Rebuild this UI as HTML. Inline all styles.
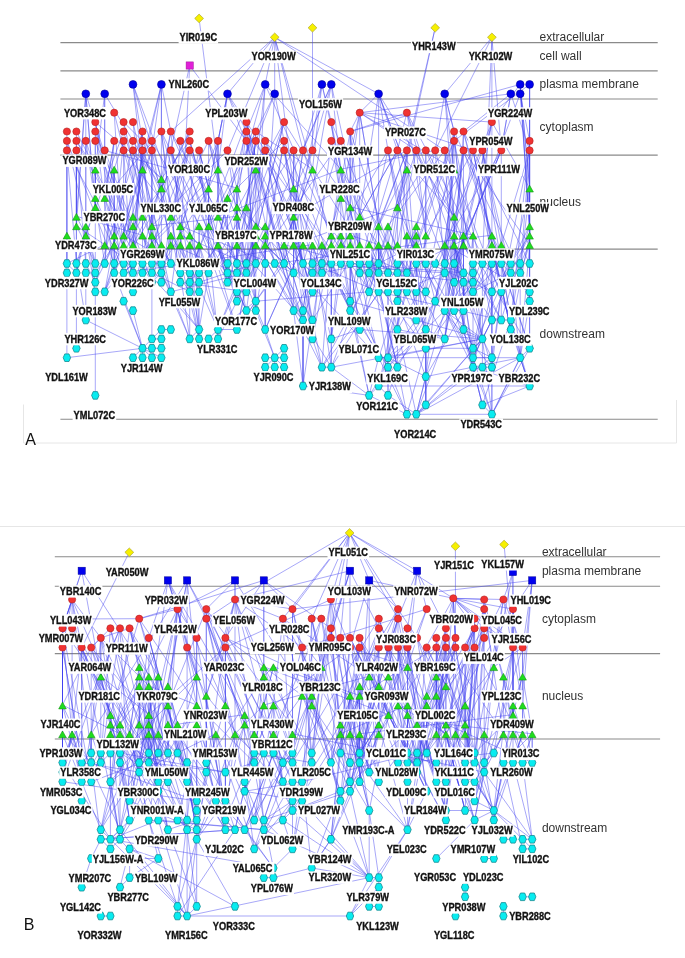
<!DOCTYPE html>
<html><head><meta charset="utf-8"><style>
html,body{margin:0;padding:0;background:#fff;}
body{width:685px;height:958px;overflow:hidden;}
svg{display:block;will-change:transform;}
</style></head><body>
<svg width="685" height="958" viewBox="0 0 685 958">
<rect width="685" height="958" fill="#fff"/>
<g stroke="#e6e6e6" stroke-width="1" fill="none">
<path d="M0 526.5H685"/>
<path d="M23.5 404.5V443H676.5V400"/>
</g>
<g stroke="#8a8a8a" stroke-width="1.1">
<path d="M60.4 42.6H657.7"/>
<path d="M60.4 70.9H657.7"/>
<path d="M60.4 99.0H657.7"/>
<path d="M60.4 155.1H657.7"/>
<path d="M60.4 249.1H657.7"/>
<path d="M60.4 419.2H657.7"/>
<path d="M54.8 556.7H660.1"/>
<path d="M54.8 586.3H660.1"/>
<path d="M54.8 653.6H660.1"/>
<path d="M54.8 739.0H660.1"/>
</g>
<g font-family="Liberation Sans, sans-serif" font-size="12" fill="#333">
<text x="539.6" y="41.0">extracellular</text>
<text x="539.6" y="59.9">cell wall</text>
<text x="539.6" y="88.3">plasma membrane</text>
<text x="539.6" y="130.7">cytoplasm</text>
<text x="539.6" y="206.4">nucleus</text>
<text x="539.6" y="338.4">downstream</text>
<text x="541.9" y="556.1">extracellular</text>
<text x="541.9" y="575.0">plasma membrane</text>
<text x="541.9" y="622.7">cytoplasm</text>
<text x="541.9" y="700.1">nucleus</text>
<text x="541.9" y="831.5">downstream</text>
</g>
<g stroke="#4040f0" stroke-width="0.65" stroke-opacity="0.7" fill="none">
<path d="M199.1 18.4L218.0 169.2"/>
<path d="M189.7 65.5L170.8 150.4"/>
<path d="M189.7 65.5L246.4 140.9"/>
<path d="M189.7 65.5L180.3 244.6"/>
<path d="M274.7 37.3L227.5 93.8"/>
<path d="M274.7 37.3L265.2 84.4"/>
<path d="M274.7 37.3L274.7 93.8"/>
<path d="M274.7 37.3L227.5 150.4"/>
<path d="M274.7 37.3L170.8 131.5"/>
<path d="M274.7 37.3L303.0 150.4"/>
<path d="M274.7 37.3L312.5 169.2"/>
<path d="M274.7 37.3L378.6 93.8"/>
<path d="M274.7 37.3L444.7 150.4"/>
<path d="M274.7 37.3L293.6 188.1"/>
<path d="M312.5 27.8L312.5 150.4"/>
<path d="M435.2 27.8L406.9 150.4"/>
<path d="M435.2 27.8L388.0 244.6"/>
<path d="M491.9 37.3L491.9 122.1"/>
<path d="M491.9 37.3L501.3 150.4"/>
<path d="M491.9 37.3L435.2 150.4"/>
<path d="M491.9 37.3L444.7 93.8"/>
<path d="M491.9 37.3L482.4 263.5"/>
<path d="M133.0 84.4L161.4 178.6"/>
<path d="M133.0 84.4L142.5 140.9"/>
<path d="M161.4 84.4L142.5 169.2"/>
<path d="M161.4 84.4L170.8 131.5"/>
<path d="M85.8 93.8L85.8 140.9"/>
<path d="M85.8 93.8L76.4 225.8"/>
<path d="M104.7 93.8L104.7 150.4"/>
<path d="M104.7 93.8L95.3 169.2"/>
<path d="M227.5 93.8L218.0 140.9"/>
<path d="M227.5 93.8L208.6 188.1"/>
<path d="M227.5 93.8L265.2 150.4"/>
<path d="M265.2 84.4L246.4 131.5"/>
<path d="M265.2 84.4L255.8 169.2"/>
<path d="M265.2 84.4L236.9 188.1"/>
<path d="M274.7 93.8L284.1 140.9"/>
<path d="M274.7 93.8L265.2 244.6"/>
<path d="M321.9 84.4L303.0 150.4"/>
<path d="M321.9 84.4L331.3 122.1"/>
<path d="M331.3 84.4L312.5 150.4"/>
<path d="M331.3 84.4L340.8 169.2"/>
<path d="M378.6 93.8L388.0 150.4"/>
<path d="M378.6 93.8L359.7 112.7"/>
<path d="M378.6 93.8L406.9 169.2"/>
<path d="M444.7 93.8L435.2 150.4"/>
<path d="M444.7 93.8L454.1 131.5"/>
<path d="M444.7 93.8L454.1 216.3"/>
<path d="M510.8 93.8L501.3 150.4"/>
<path d="M510.8 93.8L463.5 131.5"/>
<path d="M510.8 93.8L359.7 112.7"/>
<path d="M520.2 93.8L529.6 140.9"/>
<path d="M520.2 84.4L491.9 122.1"/>
<path d="M529.6 84.4L529.6 140.9"/>
<path d="M520.2 84.4L350.2 131.5"/>
<path d="M359.7 112.7L350.2 131.5"/>
<path d="M359.7 112.7L473.0 150.4"/>
<path d="M359.7 112.7L491.9 122.1"/>
<path d="M359.7 112.7L416.3 150.4"/>
<path d="M359.7 112.7L454.1 169.2"/>
<path d="M406.9 112.7L350.2 131.5"/>
<path d="M378.6 93.8L378.6 263.5"/>
<path d="M406.9 112.7L397.4 150.4"/>
<path d="M529.6 188.1L529.6 263.5"/>
<path d="M66.9 150.4L66.9 235.2"/>
<path d="M66.9 140.9L66.9 235.2"/>
<path d="M66.9 131.5L66.9 263.5"/>
<path d="M76.4 150.4L76.4 216.3"/>
<path d="M76.4 140.9L76.4 225.8"/>
<path d="M76.4 131.5L76.4 272.9"/>
<path d="M85.8 140.9L85.8 225.8"/>
<path d="M85.8 140.9L85.8 235.2"/>
<path d="M66.9 235.2L66.9 263.5"/>
<path d="M66.9 235.2L66.9 272.9"/>
<path d="M76.4 225.8L76.4 263.5"/>
<path d="M85.8 235.2L85.8 263.5"/>
<path d="M85.8 235.2L95.3 263.5"/>
<path d="M95.3 140.9L95.3 169.2"/>
<path d="M95.3 131.5L95.3 197.5"/>
<path d="M95.3 169.2L95.3 197.5"/>
<path d="M95.3 197.5L95.3 206.9"/>
<path d="M104.7 150.4L104.7 197.5"/>
<path d="M95.3 206.9L95.3 263.5"/>
<path d="M104.7 197.5L104.7 244.6"/>
<path d="M114.2 169.2L114.2 235.2"/>
<path d="M123.6 150.4L123.6 235.2"/>
<path d="M133.0 150.4L133.0 216.3"/>
<path d="M142.5 169.2L142.5 216.3"/>
<path d="M151.9 150.4L151.9 225.8"/>
<path d="M85.8 320.0L142.5 348.3"/>
<path d="M66.9 357.7L142.5 348.3"/>
<path d="M142.5 348.3L151.9 338.9"/>
<path d="M142.5 348.3L133.0 357.7"/>
<path d="M142.5 348.3L142.5 357.7"/>
<path d="M142.5 348.3L151.9 348.3"/>
<path d="M142.5 348.3L151.9 357.7"/>
<path d="M142.5 348.3L161.4 357.7"/>
<path d="M151.9 338.9L161.4 329.5"/>
<path d="M161.4 329.5L170.8 329.5"/>
<path d="M151.9 338.9L161.4 338.9"/>
<path d="M151.9 348.3L161.4 348.3"/>
<path d="M142.5 348.3L123.6 301.2"/>
<path d="M142.5 348.3L133.0 310.6"/>
<path d="M151.9 338.9L151.9 272.9"/>
<path d="M142.5 348.3L114.2 272.9"/>
<path d="M95.3 395.4L95.3 291.8"/>
<path d="M66.9 357.7L66.9 272.9"/>
<path d="M76.4 348.3L76.4 272.9"/>
<path d="M85.8 320.0L85.8 272.9"/>
<path d="M85.8 320.0L76.4 263.5"/>
<path d="M199.1 329.5L189.7 338.9"/>
<path d="M199.1 329.5L199.1 338.9"/>
<path d="M208.6 338.9L218.0 329.5"/>
<path d="M218.0 329.5L218.0 338.9"/>
<path d="M218.0 329.5L236.9 329.5"/>
<path d="M199.1 329.5L170.8 291.8"/>
<path d="M218.0 329.5L255.8 301.2"/>
<path d="M236.9 329.5L255.8 301.2"/>
<path d="M189.7 338.9L161.4 272.9"/>
<path d="M189.7 338.9L180.3 272.9"/>
<path d="M199.1 338.9L199.1 291.8"/>
<path d="M265.2 329.5L274.7 357.7"/>
<path d="M274.7 357.7L265.2 357.7"/>
<path d="M274.7 357.7L284.1 348.3"/>
<path d="M274.7 357.7L284.1 357.7"/>
<path d="M274.7 357.7L265.2 367.2"/>
<path d="M274.7 357.7L274.7 367.2"/>
<path d="M274.7 357.7L284.1 367.2"/>
<path d="M274.7 357.7L255.8 310.6"/>
<path d="M265.2 329.5L265.2 263.5"/>
<path d="M303.0 386.0L293.6 310.6"/>
<path d="M303.0 386.0L303.0 320.0"/>
<path d="M303.0 386.0L369.1 395.4"/>
<path d="M321.9 367.2L312.5 338.9"/>
<path d="M321.9 367.2L331.3 367.2"/>
<path d="M331.3 367.2L331.3 338.9"/>
<path d="M331.3 367.2L482.4 338.9"/>
<path d="M378.6 357.7L520.2 357.7"/>
<path d="M425.8 348.3L473.0 348.3"/>
<path d="M416.3 414.3L482.4 338.9"/>
<path d="M416.3 414.3L520.2 357.7"/>
<path d="M491.9 414.3L520.2 357.7"/>
<path d="M482.4 338.9L491.9 357.7"/>
<path d="M482.4 338.9L491.9 320.0"/>
<path d="M482.4 338.9L359.7 329.5"/>
<path d="M482.4 338.9L350.2 301.2"/>
<path d="M416.3 414.3L397.4 329.5"/>
<path d="M406.9 414.3L388.0 367.2"/>
<path d="M312.5 338.9L312.5 320.0"/>
<path d="M359.7 329.5L331.3 338.9"/>
<path d="M359.7 329.5L350.2 310.6"/>
<path d="M359.7 329.5L350.2 263.5"/>
<path d="M378.6 357.7L388.0 357.7"/>
<path d="M388.0 357.7L388.0 367.2"/>
<path d="M388.0 357.7L397.4 367.2"/>
<path d="M388.0 357.7L397.4 329.5"/>
<path d="M388.0 357.7L482.4 338.9"/>
<path d="M378.6 386.0L369.1 395.4"/>
<path d="M378.6 386.0L388.0 395.4"/>
<path d="M378.6 386.0L529.6 386.0"/>
<path d="M369.1 395.4L406.9 414.3"/>
<path d="M388.0 395.4L416.3 414.3"/>
<path d="M369.1 395.4L350.2 301.2"/>
<path d="M416.3 414.3L491.9 414.3"/>
<path d="M416.3 414.3L425.8 404.9"/>
<path d="M406.9 414.3L416.3 414.3"/>
<path d="M425.8 404.9L482.4 338.9"/>
<path d="M491.9 414.3L482.4 404.9"/>
<path d="M491.9 414.3L529.6 348.3"/>
<path d="M491.9 414.3L520.2 357.7"/>
<path d="M416.3 414.3L491.9 357.7"/>
<path d="M416.3 414.3L473.0 367.2"/>
<path d="M406.9 414.3L378.6 357.7"/>
<path d="M425.8 376.6L425.8 348.3"/>
<path d="M425.8 376.6L388.0 357.7"/>
<path d="M425.8 376.6L520.2 357.7"/>
<path d="M473.0 357.7L473.0 367.2"/>
<path d="M473.0 367.2L482.4 367.2"/>
<path d="M482.4 367.2L491.9 367.2"/>
<path d="M473.0 357.7L491.9 357.7"/>
<path d="M491.9 357.7L491.9 367.2"/>
<path d="M473.0 357.7L473.0 348.3"/>
<path d="M482.4 338.9L473.0 348.3"/>
<path d="M520.2 357.7L529.6 348.3"/>
<path d="M520.2 357.7L510.8 329.5"/>
<path d="M482.4 338.9L463.5 329.5"/>
<path d="M482.4 338.9L491.9 320.0"/>
<path d="M491.9 320.0L501.3 320.0"/>
<path d="M501.3 320.0L510.8 320.0"/>
<path d="M510.8 320.0L510.8 329.5"/>
<path d="M444.7 338.9L397.4 329.5"/>
<path d="M444.7 338.9L425.8 329.5"/>
<path d="M529.6 386.0L520.2 357.7"/>
<path d="M529.6 386.0L482.4 404.9"/>
<path d="M133.0 84.4L142.5 169.2"/>
<path d="M133.0 84.4L189.7 235.2"/>
<path d="M161.4 84.4L123.6 235.2"/>
<path d="M161.4 84.4L151.9 150.4"/>
<path d="M161.4 84.4L161.4 131.5"/>
<path d="M161.4 84.4L161.4 178.6"/>
<path d="M265.2 84.4L331.3 235.2"/>
<path d="M265.2 84.4L255.8 235.2"/>
<path d="M265.2 84.4L340.8 169.2"/>
<path d="M321.9 84.4L340.8 169.2"/>
<path d="M321.9 84.4L312.5 169.2"/>
<path d="M321.9 84.4L293.6 244.6"/>
<path d="M331.3 84.4L359.7 216.3"/>
<path d="M331.3 84.4L265.2 235.2"/>
<path d="M331.3 84.4L303.0 150.4"/>
<path d="M331.3 84.4L303.0 244.6"/>
<path d="M520.2 84.4L529.6 235.2"/>
<path d="M520.2 84.4L529.6 188.1"/>
<path d="M520.2 84.4L529.6 188.1"/>
<path d="M520.2 84.4L529.6 225.8"/>
<path d="M529.6 84.4L529.6 140.9"/>
<path d="M529.6 84.4L529.6 150.4"/>
<path d="M529.6 84.4L454.1 140.9"/>
<path d="M85.8 93.8L133.0 244.6"/>
<path d="M85.8 93.8L76.4 216.3"/>
<path d="M85.8 93.8L95.3 206.9"/>
<path d="M85.8 93.8L95.3 206.9"/>
<path d="M104.7 93.8L104.7 150.4"/>
<path d="M104.7 93.8L161.4 188.1"/>
<path d="M227.5 93.8L246.4 131.5"/>
<path d="M227.5 93.8L208.6 188.1"/>
<path d="M227.5 93.8L255.8 169.2"/>
<path d="M227.5 93.8L218.0 169.2"/>
<path d="M274.7 93.8L255.8 140.9"/>
<path d="M274.7 93.8L208.6 225.8"/>
<path d="M378.6 93.8L454.1 216.3"/>
<path d="M378.6 93.8L397.4 150.4"/>
<path d="M378.6 93.8L359.7 216.3"/>
<path d="M378.6 93.8L406.9 169.2"/>
<path d="M444.7 93.8L454.1 169.2"/>
<path d="M444.7 93.8L454.1 131.5"/>
<path d="M510.8 93.8L501.3 150.4"/>
<path d="M510.8 93.8L529.6 150.4"/>
<path d="M520.2 93.8L529.6 225.8"/>
<path d="M520.2 93.8L463.5 244.6"/>
<path d="M114.2 112.7L123.6 263.5"/>
<path d="M114.2 112.7L123.6 150.4"/>
<path d="M359.7 112.7L340.8 197.5"/>
<path d="M359.7 112.7L378.6 225.8"/>
<path d="M359.7 112.7L378.6 225.8"/>
<path d="M359.7 112.7L359.7 272.9"/>
<path d="M359.7 112.7L340.8 244.6"/>
<path d="M406.9 112.7L501.3 291.8"/>
<path d="M406.9 112.7L425.8 235.2"/>
<path d="M406.9 112.7L463.5 272.9"/>
<path d="M406.9 112.7L454.1 282.3"/>
<path d="M95.3 122.1L123.6 272.9"/>
<path d="M95.3 122.1L161.4 178.6"/>
<path d="M95.3 122.1L133.0 291.8"/>
<path d="M123.6 122.1L151.9 244.6"/>
<path d="M123.6 122.1L151.9 150.4"/>
<path d="M133.0 122.1L142.5 216.3"/>
<path d="M133.0 122.1L170.8 291.8"/>
<path d="M246.4 122.1L255.8 169.2"/>
<path d="M246.4 122.1L293.6 310.6"/>
<path d="M246.4 122.1L255.8 310.6"/>
<path d="M246.4 122.1L284.1 263.5"/>
<path d="M246.4 122.1L189.7 272.9"/>
<path d="M246.4 122.1L236.9 188.1"/>
<path d="M284.1 122.1L227.5 282.3"/>
<path d="M284.1 122.1L246.4 272.9"/>
<path d="M284.1 122.1L359.7 244.6"/>
<path d="M284.1 122.1L218.0 244.6"/>
<path d="M284.1 122.1L246.4 272.9"/>
<path d="M331.3 122.1L340.8 169.2"/>
<path d="M331.3 122.1L416.3 320.0"/>
<path d="M331.3 122.1L340.8 197.5"/>
<path d="M491.9 122.1L444.7 310.6"/>
<path d="M491.9 122.1L473.0 235.2"/>
<path d="M491.9 122.1L491.9 320.0"/>
<path d="M491.9 122.1L529.6 188.1"/>
<path d="M491.9 122.1L454.1 282.3"/>
<path d="M491.9 122.1L454.1 216.3"/>
<path d="M76.4 131.5L133.0 244.6"/>
<path d="M95.3 131.5L151.9 282.3"/>
<path d="M95.3 131.5L114.2 272.9"/>
<path d="M123.6 131.5L151.9 225.8"/>
<path d="M123.6 131.5L85.8 235.2"/>
<path d="M142.5 131.5L95.3 282.3"/>
<path d="M142.5 131.5L142.5 169.2"/>
<path d="M142.5 131.5L123.6 235.2"/>
<path d="M142.5 131.5L133.0 291.8"/>
<path d="M161.4 131.5L218.0 329.5"/>
<path d="M161.4 131.5L246.4 310.6"/>
<path d="M161.4 131.5L170.8 216.3"/>
<path d="M161.4 131.5L104.7 197.5"/>
<path d="M161.4 131.5L180.3 282.3"/>
<path d="M170.8 131.5L151.9 225.8"/>
<path d="M170.8 131.5L180.3 225.8"/>
<path d="M170.8 131.5L236.9 244.6"/>
<path d="M170.8 131.5L161.4 188.1"/>
<path d="M170.8 131.5L246.4 310.6"/>
<path d="M189.7 131.5L170.8 216.3"/>
<path d="M189.7 131.5L161.4 188.1"/>
<path d="M189.7 131.5L161.4 188.1"/>
<path d="M246.4 131.5L227.5 282.3"/>
<path d="M246.4 131.5L208.6 272.9"/>
<path d="M246.4 131.5L340.8 263.5"/>
<path d="M246.4 131.5L284.1 263.5"/>
<path d="M255.8 131.5L246.4 263.5"/>
<path d="M255.8 131.5L218.0 216.3"/>
<path d="M255.8 131.5L312.5 169.2"/>
<path d="M350.2 131.5L359.7 272.9"/>
<path d="M350.2 131.5L350.2 206.9"/>
<path d="M350.2 131.5L359.7 216.3"/>
<path d="M350.2 131.5L350.2 206.9"/>
<path d="M350.2 131.5L388.0 244.6"/>
<path d="M350.2 131.5L331.3 235.2"/>
<path d="M454.1 131.5L520.2 272.9"/>
<path d="M454.1 131.5L444.7 310.6"/>
<path d="M454.1 131.5L463.5 244.6"/>
<path d="M454.1 131.5L416.3 244.6"/>
<path d="M454.1 131.5L454.1 169.2"/>
<path d="M454.1 131.5L444.7 272.9"/>
<path d="M463.5 131.5L501.3 291.8"/>
<path d="M463.5 131.5L454.1 263.5"/>
<path d="M463.5 131.5L491.9 235.2"/>
<path d="M463.5 131.5L463.5 150.4"/>
<path d="M463.5 131.5L529.6 263.5"/>
<path d="M66.9 140.9L95.3 263.5"/>
<path d="M66.9 140.9L114.2 263.5"/>
<path d="M76.4 140.9L95.3 169.2"/>
<path d="M76.4 140.9L142.5 263.5"/>
<path d="M85.8 140.9L104.7 263.5"/>
<path d="M85.8 140.9L104.7 197.5"/>
<path d="M95.3 140.9L142.5 263.5"/>
<path d="M114.2 140.9L104.7 197.5"/>
<path d="M114.2 140.9L104.7 197.5"/>
<path d="M114.2 140.9L104.7 263.5"/>
<path d="M123.6 140.9L142.5 216.3"/>
<path d="M123.6 140.9L104.7 197.5"/>
<path d="M123.6 140.9L114.2 235.2"/>
<path d="M133.0 140.9L104.7 291.8"/>
<path d="M142.5 140.9L161.4 188.1"/>
<path d="M142.5 140.9L133.0 244.6"/>
<path d="M151.9 140.9L236.9 291.8"/>
<path d="M151.9 140.9L199.1 338.9"/>
<path d="M151.9 140.9L151.9 244.6"/>
<path d="M151.9 140.9L151.9 235.2"/>
<path d="M180.3 140.9L170.8 263.5"/>
<path d="M180.3 140.9L236.9 329.5"/>
<path d="M189.7 140.9L236.9 301.2"/>
<path d="M189.7 140.9L161.4 178.6"/>
<path d="M189.7 140.9L227.5 282.3"/>
<path d="M189.7 140.9L227.5 282.3"/>
<path d="M208.6 140.9L236.9 206.9"/>
<path d="M208.6 140.9L236.9 244.6"/>
<path d="M208.6 140.9L208.6 272.9"/>
<path d="M208.6 140.9L170.8 216.3"/>
<path d="M208.6 140.9L246.4 310.6"/>
<path d="M218.0 140.9L218.0 216.3"/>
<path d="M218.0 140.9L218.0 216.3"/>
<path d="M218.0 140.9L180.3 225.8"/>
<path d="M218.0 140.9L218.0 216.3"/>
<path d="M246.4 140.9L274.7 263.5"/>
<path d="M246.4 140.9L284.1 263.5"/>
<path d="M246.4 140.9L255.8 301.2"/>
<path d="M246.4 140.9L293.6 244.6"/>
<path d="M255.8 140.9L246.4 206.9"/>
<path d="M255.8 140.9L246.4 206.9"/>
<path d="M255.8 140.9L236.9 263.5"/>
<path d="M255.8 140.9L293.6 216.3"/>
<path d="M265.2 140.9L312.5 291.8"/>
<path d="M265.2 140.9L359.7 329.5"/>
<path d="M265.2 140.9L236.9 291.8"/>
<path d="M265.2 140.9L255.8 244.6"/>
<path d="M265.2 140.9L378.6 291.8"/>
<path d="M284.1 140.9L350.2 310.6"/>
<path d="M284.1 140.9L227.5 197.5"/>
<path d="M284.1 140.9L303.0 310.6"/>
<path d="M284.1 140.9L255.8 310.6"/>
<path d="M284.1 140.9L265.2 244.6"/>
<path d="M331.3 140.9L340.8 197.5"/>
<path d="M331.3 140.9L312.5 291.8"/>
<path d="M331.3 140.9L359.7 244.6"/>
<path d="M340.8 140.9L369.1 291.8"/>
<path d="M340.8 140.9L303.0 263.5"/>
<path d="M340.8 140.9L255.8 263.5"/>
<path d="M454.1 140.9L397.4 301.2"/>
<path d="M454.1 140.9L491.9 320.0"/>
<path d="M454.1 140.9L425.8 291.8"/>
<path d="M454.1 140.9L416.3 225.8"/>
<path d="M454.1 140.9L473.0 282.3"/>
<path d="M529.6 140.9L510.8 320.0"/>
<path d="M529.6 140.9L529.6 188.1"/>
<path d="M529.6 140.9L529.6 235.2"/>
<path d="M66.9 150.4L76.4 263.5"/>
<path d="M66.9 150.4L133.0 272.9"/>
<path d="M76.4 150.4L85.8 263.5"/>
<path d="M76.4 150.4L76.4 225.8"/>
<path d="M104.7 150.4L236.9 188.1"/>
<path d="M104.7 150.4L133.0 225.8"/>
<path d="M123.6 150.4L133.0 291.8"/>
<path d="M123.6 150.4L180.3 225.8"/>
<path d="M123.6 150.4L142.5 216.3"/>
<path d="M133.0 150.4L151.9 225.8"/>
<path d="M133.0 150.4L161.4 178.6"/>
<path d="M142.5 150.4L151.9 244.6"/>
<path d="M142.5 150.4L170.8 216.3"/>
<path d="M142.5 150.4L170.8 235.2"/>
<path d="M142.5 150.4L133.0 244.6"/>
<path d="M142.5 150.4L133.0 263.5"/>
<path d="M151.9 150.4L170.8 244.6"/>
<path d="M151.9 150.4L104.7 263.5"/>
<path d="M151.9 150.4L114.2 272.9"/>
<path d="M170.8 150.4L199.1 329.5"/>
<path d="M170.8 150.4L199.1 272.9"/>
<path d="M170.8 150.4L236.9 329.5"/>
<path d="M170.8 150.4L151.9 263.5"/>
<path d="M189.7 150.4L170.8 216.3"/>
<path d="M189.7 150.4L199.1 329.5"/>
<path d="M189.7 150.4L265.2 329.5"/>
<path d="M189.7 150.4L151.9 244.6"/>
<path d="M189.7 150.4L123.6 263.5"/>
<path d="M199.1 150.4L180.3 235.2"/>
<path d="M199.1 150.4L208.6 188.1"/>
<path d="M199.1 150.4L208.6 188.1"/>
<path d="M199.1 150.4L218.0 338.9"/>
<path d="M199.1 150.4L208.6 188.1"/>
<path d="M227.5 150.4L255.8 263.5"/>
<path d="M227.5 150.4L151.9 225.8"/>
<path d="M227.5 150.4L236.9 216.3"/>
<path d="M265.2 150.4L284.1 244.6"/>
<path d="M265.2 150.4L236.9 244.6"/>
<path d="M265.2 150.4L293.6 310.6"/>
<path d="M265.2 150.4L312.5 291.8"/>
<path d="M265.2 150.4L312.5 291.8"/>
<path d="M284.1 150.4L331.3 338.9"/>
<path d="M284.1 150.4L312.5 338.9"/>
<path d="M284.1 150.4L293.6 188.1"/>
<path d="M293.6 150.4L293.6 188.1"/>
<path d="M293.6 150.4L236.9 244.6"/>
<path d="M293.6 150.4L312.5 338.9"/>
<path d="M293.6 150.4L293.6 188.1"/>
<path d="M303.0 150.4L293.6 216.3"/>
<path d="M303.0 150.4L293.6 216.3"/>
<path d="M303.0 150.4L331.3 235.2"/>
<path d="M312.5 150.4L293.6 216.3"/>
<path d="M312.5 150.4L378.6 244.6"/>
<path d="M312.5 150.4L246.4 291.8"/>
<path d="M388.0 150.4L416.3 291.8"/>
<path d="M388.0 150.4L416.3 263.5"/>
<path d="M388.0 150.4L293.6 310.6"/>
<path d="M388.0 150.4L397.4 206.9"/>
<path d="M388.0 150.4L350.2 310.6"/>
<path d="M397.4 150.4L369.1 244.6"/>
<path d="M397.4 150.4L359.7 216.3"/>
<path d="M397.4 150.4L359.7 216.3"/>
<path d="M397.4 150.4L425.8 329.5"/>
<path d="M397.4 150.4L454.1 216.3"/>
<path d="M406.9 150.4L416.3 291.8"/>
<path d="M406.9 150.4L359.7 272.9"/>
<path d="M406.9 150.4L378.6 225.8"/>
<path d="M406.9 150.4L293.6 216.3"/>
<path d="M406.9 150.4L397.4 291.8"/>
<path d="M406.9 150.4L388.0 291.8"/>
<path d="M416.3 150.4L425.8 235.2"/>
<path d="M416.3 150.4L397.4 244.6"/>
<path d="M416.3 150.4L397.4 206.9"/>
<path d="M416.3 150.4L473.0 263.5"/>
<path d="M425.8 150.4L425.8 235.2"/>
<path d="M425.8 150.4L425.8 235.2"/>
<path d="M425.8 150.4L473.0 263.5"/>
<path d="M435.2 150.4L454.1 216.3"/>
<path d="M435.2 150.4L340.8 169.2"/>
<path d="M435.2 150.4L416.3 225.8"/>
<path d="M435.2 150.4L444.7 272.9"/>
<path d="M435.2 150.4L397.4 206.9"/>
<path d="M444.7 150.4L388.0 225.8"/>
<path d="M444.7 150.4L454.1 216.3"/>
<path d="M444.7 150.4L454.1 310.6"/>
<path d="M444.7 150.4L510.8 320.0"/>
<path d="M463.5 150.4L435.2 301.2"/>
<path d="M463.5 150.4L529.6 244.6"/>
<path d="M463.5 150.4L454.1 235.2"/>
<path d="M463.5 150.4L444.7 310.6"/>
<path d="M463.5 150.4L491.9 235.2"/>
<path d="M463.5 150.4L463.5 329.5"/>
<path d="M473.0 150.4L491.9 244.6"/>
<path d="M473.0 150.4L510.8 329.5"/>
<path d="M473.0 150.4L501.3 291.8"/>
<path d="M473.0 150.4L425.8 235.2"/>
<path d="M473.0 150.4L444.7 338.9"/>
<path d="M482.4 150.4L416.3 320.0"/>
<path d="M482.4 150.4L491.9 291.8"/>
<path d="M482.4 150.4L510.8 320.0"/>
<path d="M482.4 150.4L501.3 244.6"/>
<path d="M482.4 150.4L510.8 272.9"/>
<path d="M501.3 150.4L501.3 320.0"/>
<path d="M501.3 150.4L425.8 329.5"/>
<path d="M501.3 150.4L454.1 263.5"/>
<path d="M501.3 150.4L454.1 263.5"/>
<path d="M501.3 150.4L416.3 291.8"/>
<path d="M529.6 150.4L520.2 272.9"/>
<path d="M529.6 150.4L529.6 188.1"/>
<path d="M529.6 150.4L529.6 235.2"/>
<path d="M529.6 150.4L501.3 244.6"/>
<path d="M529.6 150.4L501.3 291.8"/>
<path d="M95.3 169.2L95.3 197.5"/>
<path d="M95.3 169.2L95.3 197.5"/>
<path d="M114.2 169.2L104.7 263.5"/>
<path d="M114.2 169.2L114.2 272.9"/>
<path d="M114.2 169.2L114.2 244.6"/>
<path d="M142.5 169.2L161.4 244.6"/>
<path d="M142.5 169.2L133.0 225.8"/>
<path d="M142.5 169.2L161.4 263.5"/>
<path d="M142.5 169.2L104.7 291.8"/>
<path d="M218.0 169.2L123.6 272.9"/>
<path d="M218.0 169.2L208.6 188.1"/>
<path d="M218.0 169.2L236.9 301.2"/>
<path d="M255.8 169.2L227.5 263.5"/>
<path d="M255.8 169.2L255.8 235.2"/>
<path d="M255.8 169.2L246.4 272.9"/>
<path d="M312.5 169.2L331.3 244.6"/>
<path d="M312.5 169.2L284.1 244.6"/>
<path d="M312.5 169.2L284.1 244.6"/>
<path d="M340.8 169.2L218.0 216.3"/>
<path d="M340.8 169.2L397.4 291.8"/>
<path d="M340.8 169.2L331.3 235.2"/>
<path d="M340.8 169.2L378.6 225.8"/>
<path d="M340.8 169.2L350.2 235.2"/>
<path d="M340.8 169.2L369.1 291.8"/>
<path d="M406.9 169.2L369.1 291.8"/>
<path d="M406.9 169.2L397.4 206.9"/>
<path d="M406.9 169.2L454.1 282.3"/>
<path d="M406.9 169.2L406.9 235.2"/>
<path d="M406.9 169.2L378.6 225.8"/>
<path d="M454.1 169.2L444.7 244.6"/>
<path d="M454.1 169.2L406.9 291.8"/>
<path d="M454.1 169.2L473.0 263.5"/>
<path d="M454.1 169.2L444.7 244.6"/>
<path d="M161.4 178.6L180.3 225.8"/>
<path d="M161.4 178.6L170.8 263.5"/>
<path d="M161.4 178.6L133.0 291.8"/>
<path d="M161.4 188.1L161.4 272.9"/>
<path d="M161.4 188.1L133.0 244.6"/>
<path d="M161.4 188.1L133.0 225.8"/>
<path d="M208.6 188.1L151.9 282.3"/>
<path d="M208.6 188.1L208.6 225.8"/>
<path d="M208.6 188.1L104.7 291.8"/>
<path d="M208.6 188.1L189.7 244.6"/>
<path d="M208.6 188.1L208.6 225.8"/>
<path d="M236.9 188.1L236.9 272.9"/>
<path d="M236.9 188.1L236.9 216.3"/>
<path d="M236.9 188.1L218.0 244.6"/>
<path d="M236.9 188.1L236.9 244.6"/>
<path d="M293.6 188.1L321.9 272.9"/>
<path d="M293.6 188.1L303.0 263.5"/>
<path d="M293.6 188.1L350.2 310.6"/>
<path d="M293.6 188.1L293.6 272.9"/>
<path d="M293.6 188.1L265.2 244.6"/>
<path d="M529.6 188.1L529.6 263.5"/>
<path d="M529.6 188.1L529.6 244.6"/>
<path d="M529.6 188.1L510.8 272.9"/>
<path d="M529.6 188.1L520.2 272.9"/>
<path d="M95.3 197.5L95.3 206.9"/>
<path d="M95.3 197.5L123.6 263.5"/>
<path d="M104.7 197.5L114.2 235.2"/>
<path d="M104.7 197.5L133.0 272.9"/>
<path d="M227.5 197.5L218.0 244.6"/>
<path d="M227.5 197.5L218.0 244.6"/>
<path d="M227.5 197.5L227.5 263.5"/>
<path d="M227.5 197.5L236.9 216.3"/>
<path d="M340.8 197.5L350.2 206.9"/>
<path d="M340.8 197.5L331.3 244.6"/>
<path d="M340.8 197.5L359.7 329.5"/>
<path d="M340.8 197.5L303.0 320.0"/>
<path d="M340.8 197.5L340.8 235.2"/>
<path d="M95.3 206.9L133.0 291.8"/>
<path d="M95.3 206.9L76.4 263.5"/>
<path d="M236.9 206.9L312.5 272.9"/>
<path d="M236.9 206.9L236.9 263.5"/>
<path d="M236.9 206.9L293.6 310.6"/>
<path d="M236.9 206.9L236.9 216.3"/>
<path d="M236.9 206.9L246.4 291.8"/>
<path d="M246.4 206.9L208.6 272.9"/>
<path d="M246.4 206.9L236.9 301.2"/>
<path d="M246.4 206.9L255.8 225.8"/>
<path d="M246.4 206.9L255.8 263.5"/>
<path d="M246.4 206.9L255.8 235.2"/>
<path d="M350.2 206.9L473.0 235.2"/>
<path d="M350.2 206.9L331.3 338.9"/>
<path d="M350.2 206.9L359.7 272.9"/>
<path d="M350.2 206.9L350.2 301.2"/>
<path d="M397.4 206.9L388.0 272.9"/>
<path d="M397.4 206.9L397.4 244.6"/>
<path d="M397.4 206.9L293.6 244.6"/>
<path d="M397.4 206.9L444.7 310.6"/>
<path d="M76.4 216.3L85.8 235.2"/>
<path d="M76.4 216.3L142.5 235.2"/>
<path d="M133.0 216.3L142.5 235.2"/>
<path d="M133.0 216.3L104.7 291.8"/>
<path d="M142.5 216.3L189.7 338.9"/>
<path d="M142.5 216.3L142.5 235.2"/>
<path d="M142.5 216.3L142.5 272.9"/>
<path d="M142.5 216.3L104.7 291.8"/>
<path d="M170.8 216.3L161.4 282.3"/>
<path d="M170.8 216.3L208.6 272.9"/>
<path d="M218.0 216.3L199.1 329.5"/>
<path d="M218.0 216.3L246.4 291.8"/>
<path d="M218.0 216.3L208.6 225.8"/>
<path d="M236.9 216.3L151.9 225.8"/>
<path d="M236.9 216.3L246.4 263.5"/>
<path d="M236.9 216.3L255.8 301.2"/>
<path d="M293.6 216.3L303.0 263.5"/>
<path d="M293.6 216.3L284.1 263.5"/>
<path d="M293.6 216.3L303.0 263.5"/>
<path d="M293.6 216.3L293.6 272.9"/>
<path d="M293.6 216.3L312.5 320.0"/>
<path d="M293.6 216.3L284.1 244.6"/>
<path d="M359.7 216.3L350.2 235.2"/>
<path d="M359.7 216.3L331.3 263.5"/>
<path d="M359.7 216.3L350.2 235.2"/>
<path d="M359.7 216.3L359.7 244.6"/>
<path d="M359.7 216.3L369.1 244.6"/>
<path d="M359.7 216.3L350.2 263.5"/>
<path d="M454.1 216.3L435.2 301.2"/>
<path d="M454.1 216.3L454.1 263.5"/>
<path d="M454.1 216.3L454.1 244.6"/>
<path d="M76.4 225.8L133.0 263.5"/>
<path d="M76.4 225.8L95.3 263.5"/>
<path d="M85.8 225.8L76.4 272.9"/>
<path d="M85.8 225.8L95.3 282.3"/>
<path d="M133.0 225.8L133.0 272.9"/>
<path d="M133.0 225.8L123.6 244.6"/>
<path d="M151.9 225.8L142.5 272.9"/>
<path d="M151.9 225.8L161.4 272.9"/>
<path d="M180.3 225.8L170.8 291.8"/>
<path d="M180.3 225.8L199.1 244.6"/>
<path d="M180.3 225.8L293.6 272.9"/>
<path d="M180.3 225.8L180.3 244.6"/>
<path d="M199.1 225.8L199.1 244.6"/>
<path d="M199.1 225.8L227.5 282.3"/>
<path d="M199.1 225.8L199.1 291.8"/>
<path d="M208.6 225.8L246.4 272.9"/>
<path d="M208.6 225.8L189.7 272.9"/>
<path d="M208.6 225.8L218.0 244.6"/>
<path d="M208.6 225.8L236.9 291.8"/>
<path d="M255.8 225.8L236.9 301.2"/>
<path d="M255.8 225.8L246.4 272.9"/>
<path d="M255.8 225.8L255.8 263.5"/>
<path d="M255.8 225.8L246.4 263.5"/>
<path d="M265.2 225.8L303.0 320.0"/>
<path d="M265.2 225.8L218.0 329.5"/>
<path d="M265.2 225.8L199.1 272.9"/>
<path d="M265.2 225.8L265.2 263.5"/>
<path d="M378.6 225.8L369.1 272.9"/>
<path d="M378.6 225.8L378.6 263.5"/>
<path d="M378.6 225.8L378.6 272.9"/>
<path d="M378.6 225.8L425.8 329.5"/>
<path d="M388.0 225.8L388.0 357.7"/>
<path d="M388.0 225.8L369.1 291.8"/>
<path d="M388.0 225.8L406.9 272.9"/>
<path d="M388.0 225.8L425.8 329.5"/>
<path d="M416.3 225.8L397.4 301.2"/>
<path d="M416.3 225.8L397.4 272.9"/>
<path d="M416.3 225.8L435.2 301.2"/>
<path d="M416.3 225.8L406.9 291.8"/>
<path d="M416.3 225.8L425.8 263.5"/>
<path d="M529.6 225.8L529.6 244.6"/>
<path d="M529.6 225.8L529.6 235.2"/>
<path d="M529.6 225.8L529.6 244.6"/>
<path d="M529.6 225.8L529.6 235.2"/>
<path d="M529.6 225.8L510.8 263.5"/>
<path d="M529.6 225.8L501.3 320.0"/>
<path d="M85.8 235.2L76.4 272.9"/>
<path d="M85.8 235.2L95.3 291.8"/>
<path d="M114.2 235.2L114.2 272.9"/>
<path d="M114.2 235.2L114.2 272.9"/>
<path d="M123.6 235.2L189.7 272.9"/>
<path d="M123.6 235.2L151.9 282.3"/>
<path d="M142.5 235.2L151.9 263.5"/>
<path d="M142.5 235.2L151.9 263.5"/>
<path d="M142.5 235.2L170.8 291.8"/>
<path d="M142.5 235.2L161.4 263.5"/>
<path d="M151.9 235.2L151.9 263.5"/>
<path d="M151.9 235.2L189.7 291.8"/>
<path d="M151.9 235.2L170.8 263.5"/>
<path d="M170.8 235.2L199.1 282.3"/>
<path d="M170.8 235.2L161.4 282.3"/>
<path d="M170.8 235.2L170.8 244.6"/>
<path d="M170.8 235.2L180.3 272.9"/>
<path d="M180.3 235.2L246.4 263.5"/>
<path d="M180.3 235.2L199.1 338.9"/>
<path d="M189.7 235.2L227.5 272.9"/>
<path d="M255.8 235.2L255.8 263.5"/>
<path d="M255.8 235.2L236.9 329.5"/>
<path d="M255.8 235.2L312.5 291.8"/>
<path d="M255.8 235.2L218.0 329.5"/>
<path d="M255.8 235.2L293.6 272.9"/>
<path d="M255.8 235.2L255.8 310.6"/>
<path d="M265.2 235.2L274.7 263.5"/>
<path d="M265.2 235.2L246.4 291.8"/>
<path d="M265.2 235.2L265.2 329.5"/>
<path d="M265.2 235.2L265.2 329.5"/>
<path d="M265.2 235.2L378.6 357.7"/>
<path d="M331.3 235.2L350.2 263.5"/>
<path d="M331.3 235.2L331.3 338.9"/>
<path d="M331.3 235.2L312.5 263.5"/>
<path d="M331.3 235.2L331.3 367.2"/>
<path d="M340.8 235.2L331.3 263.5"/>
<path d="M340.8 235.2L350.2 301.2"/>
<path d="M340.8 235.2L340.8 244.6"/>
<path d="M340.8 235.2L378.6 357.7"/>
<path d="M340.8 235.2L321.9 272.9"/>
<path d="M350.2 235.2L378.6 357.7"/>
<path d="M350.2 235.2L350.2 263.5"/>
<path d="M350.2 235.2L463.5 272.9"/>
<path d="M350.2 235.2L350.2 263.5"/>
<path d="M406.9 235.2L397.4 329.5"/>
<path d="M406.9 235.2L397.4 301.2"/>
<path d="M406.9 235.2L416.3 320.0"/>
<path d="M406.9 235.2L473.0 357.7"/>
<path d="M406.9 235.2L406.9 291.8"/>
<path d="M406.9 235.2L416.3 244.6"/>
<path d="M416.3 235.2L397.4 329.5"/>
<path d="M416.3 235.2L416.3 244.6"/>
<path d="M416.3 235.2L416.3 244.6"/>
<path d="M425.8 235.2L416.3 291.8"/>
<path d="M425.8 235.2L425.8 263.5"/>
<path d="M425.8 235.2L416.3 320.0"/>
<path d="M454.1 235.2L463.5 329.5"/>
<path d="M454.1 235.2L444.7 338.9"/>
<path d="M454.1 235.2L425.8 329.5"/>
<path d="M454.1 235.2L463.5 329.5"/>
<path d="M463.5 235.2L529.6 348.3"/>
<path d="M463.5 235.2L463.5 272.9"/>
<path d="M463.5 235.2L454.1 282.3"/>
<path d="M463.5 235.2L444.7 338.9"/>
<path d="M463.5 235.2L463.5 272.9"/>
<path d="M473.0 235.2L463.5 329.5"/>
<path d="M473.0 235.2L416.3 263.5"/>
<path d="M473.0 235.2L473.0 272.9"/>
<path d="M473.0 235.2L473.0 263.5"/>
<path d="M491.9 235.2L529.6 348.3"/>
<path d="M491.9 235.2L473.0 282.3"/>
<path d="M491.9 235.2L529.6 348.3"/>
<path d="M491.9 235.2L416.3 244.6"/>
<path d="M491.9 235.2L510.8 272.9"/>
<path d="M529.6 235.2L501.3 291.8"/>
<path d="M529.6 235.2L510.8 329.5"/>
<path d="M529.6 235.2L491.9 291.8"/>
<path d="M529.6 235.2L529.6 263.5"/>
<path d="M104.7 244.6L66.9 263.5"/>
<path d="M114.2 244.6L95.3 282.3"/>
<path d="M114.2 244.6L95.3 272.9"/>
<path d="M123.6 244.6L199.1 329.5"/>
<path d="M123.6 244.6L114.2 263.5"/>
<path d="M123.6 244.6L133.0 272.9"/>
<path d="M133.0 244.6L133.0 272.9"/>
<path d="M151.9 244.6L161.4 272.9"/>
<path d="M161.4 244.6L170.8 263.5"/>
<path d="M161.4 244.6L151.9 282.3"/>
<path d="M161.4 244.6L170.8 263.5"/>
<path d="M170.8 244.6L236.9 272.9"/>
<path d="M170.8 244.6L161.4 263.5"/>
<path d="M170.8 244.6L142.5 272.9"/>
<path d="M180.3 244.6L218.0 329.5"/>
<path d="M180.3 244.6L180.3 272.9"/>
<path d="M180.3 244.6L189.7 282.3"/>
<path d="M189.7 244.6L180.3 272.9"/>
<path d="M189.7 244.6L199.1 282.3"/>
<path d="M189.7 244.6L189.7 282.3"/>
<path d="M189.7 244.6L199.1 338.9"/>
<path d="M199.1 244.6L199.1 282.3"/>
<path d="M199.1 244.6L218.0 329.5"/>
<path d="M199.1 244.6L208.6 272.9"/>
<path d="M199.1 244.6L189.7 291.8"/>
<path d="M218.0 244.6L246.4 310.6"/>
<path d="M218.0 244.6L236.9 301.2"/>
<path d="M218.0 244.6L227.5 272.9"/>
<path d="M218.0 244.6L199.1 272.9"/>
<path d="M218.0 244.6L189.7 282.3"/>
<path d="M236.9 244.6L236.9 263.5"/>
<path d="M236.9 244.6L255.8 301.2"/>
<path d="M236.9 244.6L236.9 291.8"/>
<path d="M236.9 244.6L236.9 291.8"/>
<path d="M236.9 244.6L303.0 320.0"/>
<path d="M255.8 244.6L246.4 310.6"/>
<path d="M255.8 244.6L236.9 329.5"/>
<path d="M255.8 244.6L331.3 367.2"/>
<path d="M265.2 244.6L312.5 320.0"/>
<path d="M265.2 244.6L218.0 338.9"/>
<path d="M265.2 244.6L293.6 272.9"/>
<path d="M265.2 244.6L265.2 263.5"/>
<path d="M284.1 244.6L303.0 310.6"/>
<path d="M284.1 244.6L303.0 310.6"/>
<path d="M284.1 244.6L388.0 272.9"/>
<path d="M284.1 244.6L284.1 263.5"/>
<path d="M293.6 244.6L236.9 329.5"/>
<path d="M293.6 244.6L293.6 310.6"/>
<path d="M293.6 244.6L312.5 320.0"/>
<path d="M293.6 244.6L312.5 338.9"/>
<path d="M293.6 244.6L303.0 263.5"/>
<path d="M303.0 244.6L350.2 301.2"/>
<path d="M303.0 244.6L265.2 329.5"/>
<path d="M303.0 244.6L265.2 329.5"/>
<path d="M312.5 244.6L321.9 272.9"/>
<path d="M312.5 244.6L331.3 367.2"/>
<path d="M312.5 244.6L303.0 310.6"/>
<path d="M312.5 244.6L123.6 272.9"/>
<path d="M312.5 244.6L303.0 310.6"/>
<path d="M321.9 244.6L388.0 367.2"/>
<path d="M321.9 244.6L359.7 329.5"/>
<path d="M321.9 244.6L378.6 357.7"/>
<path d="M321.9 244.6L312.5 338.9"/>
<path d="M321.9 244.6L321.9 263.5"/>
<path d="M331.3 244.6L312.5 338.9"/>
<path d="M331.3 244.6L312.5 272.9"/>
<path d="M331.3 244.6L331.3 338.9"/>
<path d="M331.3 244.6L321.9 367.2"/>
<path d="M340.8 244.6L331.3 338.9"/>
<path d="M340.8 244.6L350.2 310.6"/>
<path d="M340.8 244.6L331.3 263.5"/>
<path d="M340.8 244.6L406.9 272.9"/>
<path d="M350.2 244.6L350.2 263.5"/>
<path d="M350.2 244.6L350.2 301.2"/>
<path d="M350.2 244.6L369.1 291.8"/>
<path d="M350.2 244.6L350.2 301.2"/>
<path d="M350.2 244.6L359.7 263.5"/>
<path d="M359.7 244.6L312.5 320.0"/>
<path d="M359.7 244.6L340.8 263.5"/>
<path d="M359.7 244.6L359.7 263.5"/>
<path d="M359.7 244.6L331.3 263.5"/>
<path d="M359.7 244.6L378.6 291.8"/>
<path d="M359.7 244.6L350.2 310.6"/>
<path d="M369.1 244.6L388.0 367.2"/>
<path d="M369.1 244.6L397.4 367.2"/>
<path d="M369.1 244.6L397.4 367.2"/>
<path d="M369.1 244.6L369.1 263.5"/>
<path d="M369.1 244.6L378.6 263.5"/>
<path d="M378.6 244.6L378.6 272.9"/>
<path d="M378.6 244.6L388.0 272.9"/>
<path d="M378.6 244.6L331.3 367.2"/>
<path d="M378.6 244.6L359.7 329.5"/>
<path d="M378.6 244.6L378.6 272.9"/>
<path d="M378.6 244.6L397.4 329.5"/>
<path d="M388.0 244.6L359.7 329.5"/>
<path d="M388.0 244.6L321.9 367.2"/>
<path d="M388.0 244.6L491.9 291.8"/>
<path d="M388.0 244.6L397.4 272.9"/>
<path d="M388.0 244.6L425.8 291.8"/>
<path d="M397.4 244.6L397.4 301.2"/>
<path d="M397.4 244.6L397.4 367.2"/>
<path d="M397.4 244.6L397.4 301.2"/>
<path d="M397.4 244.6L444.7 338.9"/>
<path d="M397.4 244.6L397.4 263.5"/>
<path d="M416.3 244.6L274.7 263.5"/>
<path d="M416.3 244.6L359.7 272.9"/>
<path d="M416.3 244.6L416.3 291.8"/>
<path d="M416.3 244.6L321.9 367.2"/>
<path d="M444.7 244.6L444.7 263.5"/>
<path d="M444.7 244.6L444.7 272.9"/>
<path d="M444.7 244.6L529.6 291.8"/>
<path d="M444.7 244.6L482.4 338.9"/>
<path d="M454.1 244.6L454.1 282.3"/>
<path d="M454.1 244.6L473.0 291.8"/>
<path d="M454.1 244.6L491.9 367.2"/>
<path d="M454.1 244.6L473.0 348.3"/>
<path d="M463.5 244.6L444.7 263.5"/>
<path d="M463.5 244.6L473.0 263.5"/>
<path d="M463.5 244.6L454.1 310.6"/>
<path d="M463.5 244.6L444.7 338.9"/>
<path d="M491.9 244.6L510.8 329.5"/>
<path d="M491.9 244.6L473.0 291.8"/>
<path d="M491.9 244.6L510.8 329.5"/>
<path d="M491.9 244.6L510.8 329.5"/>
<path d="M491.9 244.6L473.0 367.2"/>
<path d="M491.9 244.6L491.9 357.7"/>
<path d="M501.3 244.6L491.9 291.8"/>
<path d="M501.3 244.6L425.8 376.6"/>
<path d="M501.3 244.6L501.3 263.5"/>
<path d="M529.6 244.6L529.6 301.2"/>
<path d="M529.6 244.6L520.2 263.5"/>
<path d="M529.6 244.6L520.2 357.7"/>
<path d="M529.6 244.6L520.2 272.9"/>
<path d="M66.9 263.5L76.4 272.9"/>
<path d="M85.8 263.5L95.3 282.3"/>
<path d="M133.0 263.5L123.6 272.9"/>
<path d="M255.8 263.5L199.1 282.3"/>
<path d="M274.7 263.5L303.0 320.0"/>
<path d="M284.1 263.5L303.0 320.0"/>
<path d="M284.1 263.5L255.8 301.2"/>
<path d="M303.0 263.5L312.5 272.9"/>
<path d="M312.5 263.5L312.5 272.9"/>
<path d="M312.5 263.5L378.6 291.8"/>
<path d="M312.5 263.5L444.7 272.9"/>
<path d="M321.9 263.5L312.5 320.0"/>
<path d="M321.9 263.5L312.5 272.9"/>
<path d="M350.2 263.5L463.5 272.9"/>
<path d="M350.2 263.5L397.4 329.5"/>
<path d="M369.1 263.5L406.9 272.9"/>
<path d="M369.1 263.5L321.9 272.9"/>
<path d="M369.1 263.5L369.1 272.9"/>
<path d="M378.6 263.5L378.6 291.8"/>
<path d="M378.6 263.5L388.0 291.8"/>
<path d="M378.6 263.5L435.2 301.2"/>
<path d="M378.6 263.5L378.6 291.8"/>
<path d="M416.3 263.5L425.8 348.3"/>
<path d="M416.3 263.5L416.3 320.0"/>
<path d="M416.3 263.5L425.8 291.8"/>
<path d="M416.3 263.5L406.9 272.9"/>
<path d="M425.8 263.5L463.5 329.5"/>
<path d="M425.8 263.5L425.8 291.8"/>
<path d="M435.2 263.5L397.4 329.5"/>
<path d="M444.7 263.5L473.0 348.3"/>
<path d="M454.1 263.5L444.7 310.6"/>
<path d="M454.1 263.5L463.5 282.3"/>
<path d="M454.1 263.5L491.9 291.8"/>
<path d="M473.0 263.5L482.4 338.9"/>
<path d="M473.0 263.5L501.3 320.0"/>
<path d="M473.0 263.5L473.0 272.9"/>
<path d="M482.4 263.5L482.4 338.9"/>
<path d="M491.9 263.5L473.0 348.3"/>
<path d="M501.3 263.5L510.8 320.0"/>
<path d="M501.3 263.5L529.6 291.8"/>
<path d="M501.3 263.5L473.0 291.8"/>
<path d="M510.8 263.5L473.0 348.3"/>
<path d="M520.2 263.5L520.2 272.9"/>
<path d="M520.2 263.5L529.6 301.2"/>
<path d="M520.2 263.5L510.8 320.0"/>
<path d="M529.6 263.5L529.6 348.3"/>
<path d="M529.6 263.5L529.6 348.3"/>
<path d="M151.9 272.9L189.7 291.8"/>
<path d="M161.4 272.9L151.9 282.3"/>
<path d="M189.7 272.9L199.1 291.8"/>
<path d="M246.4 272.9L170.8 291.8"/>
<path d="M369.1 272.9L425.8 348.3"/>
<path d="M378.6 272.9L473.0 282.3"/>
<path d="M388.0 272.9L388.0 291.8"/>
<path d="M388.0 272.9L388.0 291.8"/>
<path d="M388.0 272.9L425.8 348.3"/>
<path d="M388.0 272.9L397.4 291.8"/>
<path d="M397.4 272.9L406.9 291.8"/>
<path d="M397.4 272.9L388.0 291.8"/>
<path d="M406.9 272.9L406.9 291.8"/>
<path d="M406.9 272.9L425.8 291.8"/>
<path d="M444.7 272.9L454.1 310.6"/>
<path d="M444.7 272.9L397.4 291.8"/>
<path d="M444.7 272.9L473.0 348.3"/>
<path d="M444.7 272.9L435.2 301.2"/>
<path d="M463.5 272.9L463.5 282.3"/>
<path d="M463.5 272.9L463.5 310.6"/>
<path d="M473.0 272.9L454.1 310.6"/>
<path d="M473.0 272.9L473.0 282.3"/>
<path d="M473.0 272.9L501.3 320.0"/>
<path d="M473.0 272.9L473.0 357.7"/>
<path d="M510.8 272.9L520.2 357.7"/>
<path d="M510.8 272.9L491.9 320.0"/>
<path d="M510.8 272.9L473.0 291.8"/>
<path d="M520.2 272.9L520.2 357.7"/>
<path d="M180.3 282.3L246.4 291.8"/>
<path d="M189.7 282.3L189.7 338.9"/>
<path d="M454.1 282.3L463.5 310.6"/>
<path d="M463.5 282.3L463.5 310.6"/>
<path d="M463.5 282.3L473.0 367.2"/>
<path d="M463.5 282.3L425.8 348.3"/>
<path d="M473.0 282.3L454.1 310.6"/>
<path d="M473.0 282.3L425.8 348.3"/>
<path d="M473.0 282.3L388.0 367.2"/>
<path d="M473.0 282.3L463.5 310.6"/>
<path d="M369.1 291.8L255.8 301.2"/>
<path d="M378.6 291.8L397.4 367.2"/>
<path d="M378.6 291.8L501.3 320.0"/>
<path d="M378.6 291.8L331.3 367.2"/>
<path d="M388.0 291.8L388.0 357.7"/>
<path d="M406.9 291.8L378.6 386.0"/>
<path d="M425.8 291.8L425.8 376.6"/>
<path d="M473.0 291.8L463.5 310.6"/>
<path d="M473.0 291.8L482.4 338.9"/>
<path d="M473.0 291.8L491.9 320.0"/>
<path d="M491.9 291.8L473.0 367.2"/>
<path d="M491.9 291.8L491.9 320.0"/>
<path d="M491.9 291.8L491.9 367.2"/>
<path d="M501.3 291.8L491.9 357.7"/>
<path d="M501.3 291.8L491.9 367.2"/>
<path d="M529.6 291.8L529.6 301.2"/>
<path d="M397.4 301.2L388.0 357.7"/>
<path d="M397.4 301.2L378.6 386.0"/>
<path d="M397.4 301.2L378.6 357.7"/>
<path d="M397.4 301.2L425.8 376.6"/>
<path d="M435.2 301.2L397.4 367.2"/>
<path d="M435.2 301.2L491.9 367.2"/>
<path d="M435.2 301.2L425.8 376.6"/>
<path d="M435.2 301.2L388.0 367.2"/>
<path d="M529.6 301.2L520.2 357.7"/>
<path d="M293.6 310.6L321.9 367.2"/>
<path d="M303.0 310.6L303.0 386.0"/>
<path d="M303.0 310.6L303.0 386.0"/>
<path d="M350.2 310.6L369.1 395.4"/>
<path d="M350.2 310.6L388.0 367.2"/>
<path d="M444.7 310.6L473.0 357.7"/>
<path d="M444.7 310.6L482.4 338.9"/>
<path d="M444.7 310.6L425.8 376.6"/>
<path d="M444.7 310.6L473.0 367.2"/>
<path d="M454.1 310.6L473.0 367.2"/>
<path d="M303.0 320.0L303.0 386.0"/>
<path d="M312.5 320.0L321.9 367.2"/>
<path d="M312.5 320.0L303.0 386.0"/>
<path d="M416.3 320.0L388.0 357.7"/>
<path d="M491.9 320.0L473.0 357.7"/>
<path d="M491.9 320.0L491.9 357.7"/>
<path d="M510.8 320.0L520.2 357.7"/>
<path d="M510.8 320.0L529.6 386.0"/>
<path d="M510.8 320.0L482.4 404.9"/>
<path d="M218.0 329.5L218.0 338.9"/>
<path d="M425.8 329.5L425.8 404.9"/>
<path d="M425.8 329.5L388.0 357.7"/>
<path d="M425.8 329.5L378.6 386.0"/>
<path d="M463.5 329.5L482.4 404.9"/>
<path d="M463.5 329.5L482.4 404.9"/>
<path d="M444.7 338.9L416.3 414.3"/>
<path d="M482.4 338.9L491.9 414.3"/>
<path d="M482.4 338.9L482.4 367.2"/>
<path d="M482.4 338.9L473.0 357.7"/>
<path d="M425.8 348.3L406.9 414.3"/>
<path d="M425.8 348.3L425.8 404.9"/>
<path d="M473.0 348.3L491.9 357.7"/>
<path d="M378.6 357.7L369.1 395.4"/>
<path d="M388.0 357.7L388.0 395.4"/>
<path d="M388.0 357.7L388.0 395.4"/>
<path d="M473.0 357.7L491.9 414.3"/>
<path d="M491.9 357.7L491.9 414.3"/>
<path d="M520.2 357.7L529.6 386.0"/>
<path d="M520.2 357.7L529.6 386.0"/>
<path d="M331.3 367.2L369.1 395.4"/>
<path d="M388.0 367.2L378.6 386.0"/>
<path d="M388.0 367.2L378.6 386.0"/>
<path d="M388.0 367.2L369.1 395.4"/>
<path d="M397.4 367.2L388.0 395.4"/>
<path d="M397.4 367.2L406.9 414.3"/>
<path d="M473.0 367.2L529.6 386.0"/>
<path d="M473.0 367.2L491.9 414.3"/>
<path d="M473.0 367.2L482.4 404.9"/>
<path d="M491.9 367.2L491.9 414.3"/>
<path d="M425.8 376.6L425.8 404.9"/>
<path d="M425.8 376.6L416.3 414.3"/>
<path d="M425.8 376.6L425.8 404.9"/>
<path d="M425.8 376.6L416.3 414.3"/>
<path d="M349.6 532.9L292.5 609.1"/>
<path d="M349.6 532.9L282.9 618.7"/>
<path d="M349.6 532.9L330.9 628.3"/>
<path d="M349.6 532.9L369.2 580.4"/>
<path d="M349.6 532.9L398.0 609.1"/>
<path d="M349.6 532.9L398.0 618.7"/>
<path d="M349.6 532.9L417.1 570.8"/>
<path d="M349.6 532.9L453.3 598.3"/>
<path d="M349.6 532.9L340.4 637.9"/>
<path d="M349.6 532.9L311.7 618.7"/>
<path d="M349.6 532.9L330.9 599.5"/>
<path d="M349.6 532.9L235.0 599.5"/>
<path d="M129.3 552.3L81.7 647.5"/>
<path d="M455.4 546.3L455.5 637.9"/>
<path d="M504.1 544.5L513.0 647.5"/>
<path d="M512.9 572.0L513.0 609.1"/>
<path d="M512.9 572.0L503.4 599.5"/>
<path d="M532.2 580.4L292.5 609.1"/>
<path d="M532.2 580.4L513.0 609.1"/>
<path d="M532.2 580.4L522.6 647.5"/>
<path d="M453.3 598.3L484.2 599.5"/>
<path d="M453.3 598.3L503.4 599.5"/>
<path d="M453.3 598.3L484.2 609.1"/>
<path d="M453.3 598.3L513.0 609.1"/>
<path d="M453.3 598.3L522.6 647.5"/>
<path d="M453.3 598.3L474.6 628.3"/>
<path d="M453.3 598.3L484.2 628.3"/>
<path d="M453.3 598.3L513.0 647.5"/>
<path d="M453.3 598.3L445.9 628.3"/>
<path d="M453.3 598.3L369.2 580.4"/>
<path d="M453.3 598.3L455.5 637.9"/>
<path d="M453.3 598.3L474.6 618.7"/>
<path d="M81.7 570.8L72.1 599.5"/>
<path d="M81.7 570.8L62.5 628.3"/>
<path d="M167.9 580.4L177.5 609.1"/>
<path d="M167.9 580.4L148.8 637.9"/>
<path d="M187.1 580.4L206.3 618.7"/>
<path d="M187.1 580.4L187.1 647.5"/>
<path d="M235.0 580.4L235.0 599.5"/>
<path d="M235.0 580.4L177.5 609.1"/>
<path d="M235.0 580.4L206.3 609.1"/>
<path d="M263.8 580.4L292.5 609.1"/>
<path d="M263.8 580.4L263.8 666.7"/>
<path d="M263.8 580.4L139.2 618.7"/>
<path d="M263.8 580.4L225.4 637.9"/>
<path d="M350.0 570.8L330.9 628.3"/>
<path d="M350.0 570.8L350.0 637.9"/>
<path d="M369.2 580.4L369.2 676.2"/>
<path d="M369.2 580.4L398.0 609.1"/>
<path d="M417.1 570.8L426.7 609.1"/>
<path d="M417.1 570.8L445.9 628.3"/>
<path d="M417.1 570.8L407.5 628.3"/>
<path d="M235.0 599.5L206.3 618.7"/>
<path d="M235.0 599.5L282.9 618.7"/>
<path d="M235.0 599.5L292.5 609.1"/>
<path d="M235.0 599.5L225.4 637.9"/>
<path d="M235.0 599.5L263.8 666.7"/>
<path d="M177.5 609.1L139.2 618.7"/>
<path d="M177.5 609.1L187.1 647.5"/>
<path d="M177.5 609.1L196.7 637.9"/>
<path d="M139.2 618.7L91.0 618.9"/>
<path d="M91.2 647.5L100.8 637.9"/>
<path d="M100.8 637.9L129.6 628.3"/>
<path d="M72.1 599.5L62.5 628.3"/>
<path d="M62.5 647.5L62.5 705.0"/>
<path d="M62.5 647.5L62.5 733.8"/>
<path d="M62.5 628.3L62.5 762.6"/>
<path d="M72.1 628.3L72.1 733.8"/>
<path d="M81.7 647.5L72.1 733.8"/>
<path d="M62.5 705.0L62.5 733.8"/>
<path d="M72.1 733.8L62.5 762.6"/>
<path d="M62.5 733.8L62.5 781.7"/>
<path d="M72.1 733.8L81.7 762.6"/>
<path d="M91.2 647.5L91.2 733.8"/>
<path d="M81.7 647.5L81.7 762.6"/>
<path d="M100.8 637.9L100.8 676.2"/>
<path d="M100.8 676.2L91.2 733.8"/>
<path d="M72.1 599.5L62.5 647.5"/>
<path d="M72.1 599.5L72.1 628.3"/>
<path d="M187.1 916.0L350.0 916.0"/>
<path d="M187.1 916.0L369.2 877.6"/>
<path d="M177.5 906.4L187.1 916.0"/>
<path d="M177.5 916.0L187.1 916.0"/>
<path d="M177.5 906.4L177.5 916.0"/>
<path d="M196.7 906.4L187.1 916.0"/>
<path d="M187.1 916.0L120.0 839.3"/>
<path d="M187.1 916.0L120.0 829.7"/>
<path d="M177.5 906.4L100.8 829.7"/>
<path d="M187.1 916.0L158.3 820.1"/>
<path d="M187.1 916.0L196.7 839.3"/>
<path d="M235.0 906.4L196.7 839.3"/>
<path d="M235.0 906.4L129.6 848.9"/>
<path d="M350.0 916.0L369.2 877.6"/>
<path d="M350.0 916.0L378.8 887.2"/>
<path d="M369.2 877.6L378.8 877.6"/>
<path d="M378.8 877.6L378.8 887.2"/>
<path d="M369.2 906.4L378.8 906.4"/>
<path d="M369.2 877.6L369.2 810.5"/>
<path d="M273.4 868.0L292.5 848.9"/>
<path d="M263.8 877.6L273.4 877.6"/>
<path d="M273.4 877.6L311.7 868.0"/>
<path d="M311.7 868.0L330.9 839.3"/>
<path d="M369.2 877.6L330.9 839.3"/>
<path d="M369.2 877.6L340.4 800.9"/>
<path d="M369.2 877.6L302.1 800.9"/>
<path d="M369.2 877.6L292.5 810.5"/>
<path d="M369.2 877.6L282.9 820.1"/>
<path d="M369.2 877.6L263.8 829.7"/>
<path d="M378.8 877.6L407.5 829.7"/>
<path d="M369.2 877.6L350.0 791.3"/>
<path d="M465.1 887.2L465.1 896.8"/>
<path d="M503.4 906.4L503.4 916.0"/>
<path d="M522.6 896.8L532.2 896.8"/>
<path d="M484.2 858.5L493.8 858.5"/>
<path d="M436.3 858.5L474.6 820.1"/>
<path d="M407.5 829.7L426.7 791.3"/>
<path d="M407.5 829.7L359.6 781.7"/>
<path d="M407.5 829.7L350.0 916.0"/>
<path d="M311.7 868.0L369.2 877.6"/>
<path d="M493.8 810.5L445.9 810.5"/>
<path d="M493.8 810.5L474.6 800.9"/>
<path d="M493.8 810.5L474.6 820.1"/>
<path d="M493.8 810.5L493.8 820.1"/>
<path d="M493.8 810.5L532.2 839.3"/>
<path d="M493.8 810.5L522.6 839.3"/>
<path d="M493.8 810.5L474.6 781.7"/>
<path d="M493.8 810.5L465.1 762.6"/>
<path d="M503.4 839.3L513.0 839.3"/>
<path d="M522.6 839.3L532.2 839.3"/>
<path d="M522.6 839.3L532.2 848.9"/>
<path d="M522.6 848.9L532.2 848.9"/>
<path d="M532.2 839.3L522.6 762.6"/>
<path d="M532.2 839.3L513.0 762.6"/>
<path d="M532.2 839.3L484.2 772.1"/>
<path d="M522.6 848.9L503.4 762.6"/>
<path d="M91.2 858.5L158.3 858.5"/>
<path d="M129.6 877.6L120.0 887.2"/>
<path d="M129.6 877.6L158.3 858.5"/>
<path d="M129.6 877.6L129.6 848.9"/>
<path d="M100.8 916.0L110.4 916.0"/>
<path d="M120.0 887.2L129.6 848.9"/>
<path d="M81.7 887.2L91.2 858.5"/>
<path d="M91.2 858.5L100.8 839.3"/>
<path d="M158.3 858.5L129.6 848.9"/>
<path d="M158.3 858.5L148.8 820.1"/>
<path d="M100.8 839.3L110.4 848.9"/>
<path d="M110.4 848.9L120.0 839.3"/>
<path d="M81.7 570.8L167.9 705.0"/>
<path d="M81.7 570.8L100.8 676.2"/>
<path d="M350.0 570.8L321.3 666.7"/>
<path d="M350.0 570.8L235.0 599.5"/>
<path d="M350.0 570.8L378.8 628.3"/>
<path d="M350.0 570.8L321.3 666.7"/>
<path d="M417.1 570.8L398.0 618.7"/>
<path d="M417.1 570.8L407.5 666.7"/>
<path d="M167.9 580.4L244.6 714.6"/>
<path d="M167.9 580.4L215.8 733.8"/>
<path d="M167.9 580.4L225.4 705.0"/>
<path d="M167.9 580.4L196.7 676.2"/>
<path d="M167.9 580.4L148.8 714.6"/>
<path d="M187.1 580.4L91.2 733.8"/>
<path d="M187.1 580.4L158.3 733.8"/>
<path d="M187.1 580.4L273.4 733.8"/>
<path d="M187.1 580.4L167.9 685.8"/>
<path d="M187.1 580.4L196.7 676.2"/>
<path d="M235.0 580.4L311.7 705.0"/>
<path d="M235.0 580.4L235.0 733.8"/>
<path d="M263.8 580.4L263.8 676.2"/>
<path d="M263.8 580.4L330.9 628.3"/>
<path d="M369.2 580.4L350.0 647.5"/>
<path d="M369.2 580.4L359.6 733.8"/>
<path d="M532.2 580.4L522.6 705.0"/>
<path d="M532.2 580.4L522.6 676.2"/>
<path d="M512.9 572.0L493.8 666.7"/>
<path d="M512.9 572.0L513.0 733.8"/>
<path d="M72.1 599.5L129.6 733.8"/>
<path d="M72.1 599.5L81.7 647.5"/>
<path d="M72.1 599.5L100.8 637.9"/>
<path d="M72.1 599.5L62.5 628.3"/>
<path d="M72.1 599.5L91.2 753.0"/>
<path d="M72.1 599.5L62.5 628.3"/>
<path d="M235.0 599.5L302.1 781.7"/>
<path d="M235.0 599.5L302.1 647.5"/>
<path d="M235.0 599.5L206.3 695.4"/>
<path d="M235.0 599.5L282.9 781.7"/>
<path d="M235.0 599.5L225.4 647.5"/>
<path d="M235.0 599.5L254.2 762.6"/>
<path d="M330.9 599.5L311.7 705.0"/>
<path d="M330.9 599.5L225.4 647.5"/>
<path d="M330.9 599.5L311.7 753.0"/>
<path d="M330.9 599.5L350.0 647.5"/>
<path d="M330.9 599.5L330.9 637.9"/>
<path d="M330.9 599.5L350.0 733.8"/>
<path d="M484.2 599.5L522.6 762.6"/>
<path d="M484.2 599.5L465.1 781.7"/>
<path d="M484.2 599.5L484.2 733.8"/>
<path d="M503.4 599.5L522.6 705.0"/>
<path d="M503.4 599.5L522.6 647.5"/>
<path d="M503.4 599.5L484.2 637.9"/>
<path d="M503.4 599.5L474.6 753.0"/>
<path d="M503.4 599.5L474.6 800.9"/>
<path d="M177.5 609.1L167.9 753.0"/>
<path d="M177.5 609.1L167.9 705.0"/>
<path d="M177.5 609.1L148.8 762.6"/>
<path d="M177.5 609.1L148.8 733.8"/>
<path d="M177.5 609.1L215.8 800.9"/>
<path d="M177.5 609.1L120.0 724.2"/>
<path d="M206.3 609.1L206.3 762.6"/>
<path d="M206.3 609.1L311.7 753.0"/>
<path d="M206.3 609.1L206.3 762.6"/>
<path d="M206.3 609.1L292.5 800.9"/>
<path d="M206.3 609.1L254.2 762.6"/>
<path d="M206.3 609.1L167.9 705.0"/>
<path d="M292.5 609.1L302.1 647.5"/>
<path d="M292.5 609.1L311.7 705.0"/>
<path d="M292.5 609.1L292.5 733.8"/>
<path d="M292.5 609.1L292.5 753.0"/>
<path d="M398.0 609.1L398.0 705.0"/>
<path d="M398.0 609.1L417.1 637.9"/>
<path d="M398.0 609.1L436.3 781.7"/>
<path d="M398.0 609.1L311.7 753.0"/>
<path d="M398.0 609.1L388.4 647.5"/>
<path d="M398.0 609.1L359.6 695.4"/>
<path d="M426.7 609.1L378.8 724.2"/>
<path d="M426.7 609.1L407.5 666.7"/>
<path d="M426.7 609.1L302.1 647.5"/>
<path d="M484.2 609.1L445.9 781.7"/>
<path d="M484.2 609.1L503.4 676.2"/>
<path d="M484.2 609.1L493.8 666.7"/>
<path d="M484.2 609.1L503.4 733.8"/>
<path d="M484.2 609.1L465.1 781.7"/>
<path d="M484.2 609.1L417.1 762.6"/>
<path d="M513.0 609.1L513.0 647.5"/>
<path d="M513.0 609.1L513.0 647.5"/>
<path d="M513.0 609.1L436.3 733.8"/>
<path d="M513.0 609.1L522.6 705.0"/>
<path d="M513.0 609.1L513.0 714.6"/>
<path d="M139.2 618.7L110.4 714.6"/>
<path d="M139.2 618.7L167.9 705.0"/>
<path d="M139.2 618.7L167.9 724.2"/>
<path d="M139.2 618.7L196.7 705.0"/>
<path d="M206.3 618.7L235.0 733.8"/>
<path d="M206.3 618.7L225.4 705.0"/>
<path d="M206.3 618.7L244.6 724.2"/>
<path d="M206.3 618.7L244.6 724.2"/>
<path d="M206.3 618.7L254.2 733.8"/>
<path d="M282.9 618.7L302.1 695.4"/>
<path d="M282.9 618.7L273.4 705.0"/>
<path d="M282.9 618.7L321.3 666.7"/>
<path d="M282.9 618.7L369.2 676.2"/>
<path d="M282.9 618.7L340.4 724.2"/>
<path d="M282.9 618.7L292.5 800.9"/>
<path d="M311.7 618.7L350.0 762.6"/>
<path d="M311.7 618.7L321.3 666.7"/>
<path d="M311.7 618.7L321.3 666.7"/>
<path d="M311.7 618.7L311.7 705.0"/>
<path d="M311.7 618.7L302.1 800.9"/>
<path d="M321.3 618.7L273.4 733.8"/>
<path d="M321.3 618.7L302.1 695.4"/>
<path d="M321.3 618.7L340.4 733.8"/>
<path d="M321.3 618.7L359.6 762.6"/>
<path d="M378.8 618.7L436.3 781.7"/>
<path d="M378.8 618.7L292.5 762.6"/>
<path d="M378.8 618.7L359.6 781.7"/>
<path d="M378.8 618.7L388.4 647.5"/>
<path d="M398.0 618.7L378.8 685.8"/>
<path d="M398.0 618.7L350.0 762.6"/>
<path d="M398.0 618.7L369.2 772.1"/>
<path d="M398.0 618.7L407.5 666.7"/>
<path d="M398.0 618.7L340.4 800.9"/>
<path d="M474.6 618.7L465.1 781.7"/>
<path d="M474.6 618.7L445.9 724.2"/>
<path d="M474.6 618.7L474.6 800.9"/>
<path d="M474.6 618.7L455.5 733.8"/>
<path d="M62.5 628.3L62.5 705.0"/>
<path d="M62.5 628.3L91.2 781.7"/>
<path d="M62.5 628.3L62.5 762.6"/>
<path d="M62.5 628.3L72.1 733.8"/>
<path d="M62.5 628.3L167.9 781.7"/>
<path d="M72.1 628.3L148.8 753.0"/>
<path d="M72.1 628.3L120.0 733.8"/>
<path d="M72.1 628.3L62.5 647.5"/>
<path d="M110.4 628.3L100.8 762.6"/>
<path d="M110.4 628.3L158.3 791.3"/>
<path d="M110.4 628.3L139.2 762.6"/>
<path d="M110.4 628.3L91.2 647.5"/>
<path d="M120.0 628.3L100.8 762.6"/>
<path d="M120.0 628.3L100.8 676.2"/>
<path d="M120.0 628.3L62.5 762.6"/>
<path d="M120.0 628.3L158.3 791.3"/>
<path d="M120.0 628.3L129.6 800.9"/>
<path d="M129.6 628.3L139.2 666.7"/>
<path d="M129.6 628.3L148.8 676.2"/>
<path d="M129.6 628.3L167.9 753.0"/>
<path d="M129.6 628.3L158.3 753.0"/>
<path d="M129.6 628.3L110.4 781.7"/>
<path d="M129.6 628.3L158.3 676.2"/>
<path d="M330.9 628.3L359.6 753.0"/>
<path d="M330.9 628.3L340.4 733.8"/>
<path d="M330.9 628.3L292.5 753.0"/>
<path d="M330.9 628.3L340.4 724.2"/>
<path d="M378.8 628.3L407.5 714.6"/>
<path d="M378.8 628.3L359.6 695.4"/>
<path d="M378.8 628.3L378.8 724.2"/>
<path d="M378.8 628.3L340.4 724.2"/>
<path d="M407.5 628.3L417.1 724.2"/>
<path d="M407.5 628.3L388.4 714.6"/>
<path d="M407.5 628.3L378.8 724.2"/>
<path d="M445.9 628.3L417.1 724.2"/>
<path d="M445.9 628.3L436.3 762.6"/>
<path d="M445.9 628.3L436.3 676.2"/>
<path d="M445.9 628.3L465.1 724.2"/>
<path d="M474.6 628.3L445.9 810.5"/>
<path d="M474.6 628.3L465.1 647.5"/>
<path d="M474.6 628.3L465.1 647.5"/>
<path d="M474.6 628.3L465.1 810.5"/>
<path d="M474.6 628.3L417.1 724.2"/>
<path d="M474.6 628.3L445.9 724.2"/>
<path d="M484.2 628.3L436.3 762.6"/>
<path d="M484.2 628.3L474.6 762.6"/>
<path d="M484.2 628.3L513.0 647.5"/>
<path d="M484.2 628.3L445.9 685.8"/>
<path d="M100.8 637.9L129.6 800.9"/>
<path d="M100.8 637.9L167.9 705.0"/>
<path d="M100.8 637.9L139.2 762.6"/>
<path d="M100.8 637.9L187.1 820.1"/>
<path d="M100.8 637.9L91.2 733.8"/>
<path d="M100.8 637.9L100.8 762.6"/>
<path d="M148.8 637.9L148.8 724.2"/>
<path d="M148.8 637.9L187.1 781.7"/>
<path d="M148.8 637.9L196.7 810.5"/>
<path d="M148.8 637.9L187.1 781.7"/>
<path d="M148.8 637.9L129.6 800.9"/>
<path d="M196.7 637.9L225.4 820.1"/>
<path d="M196.7 637.9L196.7 676.2"/>
<path d="M196.7 637.9L196.7 810.5"/>
<path d="M225.4 637.9L302.1 800.9"/>
<path d="M225.4 637.9L196.7 839.3"/>
<path d="M225.4 637.9L350.0 695.4"/>
<path d="M225.4 637.9L206.3 695.4"/>
<path d="M225.4 637.9L302.1 695.4"/>
<path d="M330.9 637.9L311.7 705.0"/>
<path d="M330.9 637.9L340.4 733.8"/>
<path d="M330.9 637.9L311.7 762.6"/>
<path d="M330.9 637.9L292.5 810.5"/>
<path d="M340.4 637.9L369.2 810.5"/>
<path d="M340.4 637.9L359.6 762.6"/>
<path d="M340.4 637.9L330.9 762.6"/>
<path d="M340.4 637.9L378.8 781.7"/>
<path d="M350.0 637.9L340.4 753.0"/>
<path d="M350.0 637.9L445.9 820.1"/>
<path d="M350.0 637.9L369.2 772.1"/>
<path d="M350.0 637.9L426.7 791.3"/>
<path d="M350.0 637.9L378.8 733.8"/>
<path d="M350.0 637.9L369.2 676.2"/>
<path d="M359.6 637.9L407.5 781.7"/>
<path d="M359.6 637.9L417.1 762.6"/>
<path d="M359.6 637.9L407.5 714.6"/>
<path d="M359.6 637.9L388.4 714.6"/>
<path d="M359.6 637.9L340.4 753.0"/>
<path d="M417.1 637.9L426.7 695.4"/>
<path d="M417.1 637.9L436.3 695.4"/>
<path d="M417.1 637.9L436.3 676.2"/>
<path d="M436.3 637.9L465.1 733.8"/>
<path d="M436.3 637.9L436.3 676.2"/>
<path d="M436.3 637.9L436.3 762.6"/>
<path d="M445.9 637.9L407.5 829.7"/>
<path d="M445.9 637.9L445.9 724.2"/>
<path d="M445.9 637.9L426.7 695.4"/>
<path d="M445.9 637.9L436.3 733.8"/>
<path d="M455.5 637.9L445.9 820.1"/>
<path d="M455.5 637.9L426.7 705.0"/>
<path d="M455.5 637.9L436.3 695.4"/>
<path d="M484.2 637.9L378.8 781.7"/>
<path d="M484.2 637.9L474.6 781.7"/>
<path d="M484.2 637.9L465.1 724.2"/>
<path d="M62.5 647.5L62.5 772.1"/>
<path d="M62.5 647.5L81.7 762.6"/>
<path d="M62.5 647.5L62.5 733.8"/>
<path d="M62.5 647.5L81.7 762.6"/>
<path d="M62.5 647.5L62.5 705.0"/>
<path d="M81.7 647.5L81.7 762.6"/>
<path d="M81.7 647.5L158.3 820.1"/>
<path d="M81.7 647.5L110.4 724.2"/>
<path d="M81.7 647.5L120.0 839.3"/>
<path d="M81.7 647.5L167.9 829.7"/>
<path d="M91.2 647.5L148.8 714.6"/>
<path d="M91.2 647.5L62.5 705.0"/>
<path d="M91.2 647.5L120.0 724.2"/>
<path d="M91.2 647.5L110.4 714.6"/>
<path d="M187.1 647.5L225.4 800.9"/>
<path d="M187.1 647.5L196.7 676.2"/>
<path d="M187.1 647.5L187.1 820.1"/>
<path d="M187.1 647.5L225.4 705.0"/>
<path d="M225.4 647.5L282.9 781.7"/>
<path d="M225.4 647.5L225.4 705.0"/>
<path d="M225.4 647.5L225.4 705.0"/>
<path d="M225.4 647.5L225.4 800.9"/>
<path d="M225.4 647.5L148.8 714.6"/>
<path d="M302.1 647.5L254.2 820.1"/>
<path d="M302.1 647.5L311.7 753.0"/>
<path d="M302.1 647.5L311.7 762.6"/>
<path d="M302.1 647.5L340.4 800.9"/>
<path d="M350.0 647.5L407.5 781.7"/>
<path d="M350.0 647.5L273.4 705.0"/>
<path d="M350.0 647.5L330.9 839.3"/>
<path d="M350.0 647.5L359.6 685.8"/>
<path d="M350.0 647.5L407.5 666.7"/>
<path d="M359.6 647.5L426.7 791.3"/>
<path d="M359.6 647.5L340.4 753.0"/>
<path d="M359.6 647.5L350.0 733.8"/>
<path d="M359.6 647.5L369.2 676.2"/>
<path d="M378.8 647.5L359.6 781.7"/>
<path d="M378.8 647.5L369.2 676.2"/>
<path d="M378.8 647.5L378.8 685.8"/>
<path d="M388.4 647.5L398.0 705.0"/>
<path d="M388.4 647.5L407.5 762.6"/>
<path d="M388.4 647.5L359.6 762.6"/>
<path d="M388.4 647.5L493.8 810.5"/>
<path d="M388.4 647.5L407.5 705.0"/>
<path d="M398.0 647.5L445.9 810.5"/>
<path d="M398.0 647.5L417.1 753.0"/>
<path d="M398.0 647.5L407.5 714.6"/>
<path d="M398.0 647.5L398.0 762.6"/>
<path d="M398.0 647.5L407.5 781.7"/>
<path d="M398.0 647.5L407.5 666.7"/>
<path d="M407.5 647.5L426.7 791.3"/>
<path d="M407.5 647.5L407.5 753.0"/>
<path d="M407.5 647.5L350.0 791.3"/>
<path d="M407.5 647.5L436.3 781.7"/>
<path d="M407.5 647.5L426.7 705.0"/>
<path d="M426.7 647.5L398.0 762.6"/>
<path d="M426.7 647.5L465.1 724.2"/>
<path d="M426.7 647.5L417.1 753.0"/>
<path d="M426.7 647.5L445.9 685.8"/>
<path d="M426.7 647.5L474.6 820.1"/>
<path d="M436.3 647.5L445.9 820.1"/>
<path d="M436.3 647.5L465.1 724.2"/>
<path d="M436.3 647.5L378.8 733.8"/>
<path d="M436.3 647.5L445.9 724.2"/>
<path d="M436.3 647.5L359.6 695.4"/>
<path d="M445.9 647.5L503.4 733.8"/>
<path d="M445.9 647.5L436.3 762.6"/>
<path d="M445.9 647.5L455.5 733.8"/>
<path d="M445.9 647.5L436.3 733.8"/>
<path d="M455.5 647.5L426.7 753.0"/>
<path d="M455.5 647.5L465.1 705.0"/>
<path d="M455.5 647.5L474.6 753.0"/>
<path d="M455.5 647.5L407.5 781.7"/>
<path d="M455.5 647.5L417.1 772.1"/>
<path d="M455.5 647.5L426.7 695.4"/>
<path d="M465.1 647.5L465.1 733.8"/>
<path d="M465.1 647.5L445.9 810.5"/>
<path d="M465.1 647.5L465.1 781.7"/>
<path d="M474.6 647.5L532.2 762.6"/>
<path d="M474.6 647.5L465.1 781.7"/>
<path d="M474.6 647.5L465.1 762.6"/>
<path d="M474.6 647.5L484.2 772.1"/>
<path d="M513.0 647.5L474.6 800.9"/>
<path d="M513.0 647.5L513.0 714.6"/>
<path d="M513.0 647.5L493.8 753.0"/>
<path d="M513.0 647.5L493.8 810.5"/>
<path d="M513.0 647.5L513.0 762.6"/>
<path d="M513.0 647.5L513.0 733.8"/>
<path d="M522.6 647.5L522.6 705.0"/>
<path d="M522.6 647.5L493.8 666.7"/>
<path d="M522.6 647.5L474.6 800.9"/>
<path d="M522.6 647.5L522.6 676.2"/>
<path d="M453.3 598.3L455.5 647.5"/>
<path d="M453.3 598.3L388.4 714.6"/>
<path d="M453.3 598.3L455.5 647.5"/>
<path d="M453.3 598.3L445.9 685.8"/>
<path d="M139.2 666.7L129.6 733.8"/>
<path d="M139.2 666.7L129.6 733.8"/>
<path d="M139.2 666.7L158.3 733.8"/>
<path d="M263.8 666.7L292.5 753.0"/>
<path d="M263.8 666.7L388.4 714.6"/>
<path d="M263.8 666.7L254.2 762.6"/>
<path d="M263.8 666.7L311.7 753.0"/>
<path d="M263.8 666.7L244.6 781.7"/>
<path d="M273.4 666.7L263.8 676.2"/>
<path d="M273.4 666.7L292.5 733.8"/>
<path d="M273.4 666.7L263.8 705.0"/>
<path d="M273.4 666.7L263.8 705.0"/>
<path d="M273.4 666.7L359.6 695.4"/>
<path d="M321.3 666.7L311.7 695.4"/>
<path d="M321.3 666.7L340.4 753.0"/>
<path d="M321.3 666.7L311.7 762.6"/>
<path d="M407.5 666.7L417.1 724.2"/>
<path d="M407.5 666.7L436.3 781.7"/>
<path d="M407.5 666.7L407.5 781.7"/>
<path d="M493.8 666.7L436.3 781.7"/>
<path d="M493.8 666.7L484.2 762.6"/>
<path d="M493.8 666.7L426.7 753.0"/>
<path d="M100.8 676.2L148.8 714.6"/>
<path d="M100.8 676.2L62.5 781.7"/>
<path d="M100.8 676.2L110.4 724.2"/>
<path d="M100.8 676.2L110.4 714.6"/>
<path d="M100.8 676.2L129.6 800.9"/>
<path d="M139.2 676.2L139.2 762.6"/>
<path d="M139.2 676.2L110.4 733.8"/>
<path d="M139.2 676.2L148.8 753.0"/>
<path d="M148.8 676.2L120.0 762.6"/>
<path d="M148.8 676.2L139.2 772.1"/>
<path d="M148.8 676.2L148.8 762.6"/>
<path d="M148.8 676.2L215.8 800.9"/>
<path d="M158.3 676.2L148.8 714.6"/>
<path d="M158.3 676.2L120.0 762.6"/>
<path d="M158.3 676.2L129.6 800.9"/>
<path d="M158.3 676.2L158.3 753.0"/>
<path d="M158.3 676.2L148.8 762.6"/>
<path d="M196.7 676.2L158.3 753.0"/>
<path d="M196.7 676.2L167.9 781.7"/>
<path d="M196.7 676.2L196.7 705.0"/>
<path d="M196.7 676.2L120.0 753.0"/>
<path d="M196.7 676.2L206.3 695.4"/>
<path d="M263.8 676.2L273.4 753.0"/>
<path d="M263.8 676.2L206.3 762.6"/>
<path d="M263.8 676.2L263.8 705.0"/>
<path d="M369.2 676.2L378.8 781.7"/>
<path d="M369.2 676.2L263.8 705.0"/>
<path d="M369.2 676.2L426.7 791.3"/>
<path d="M369.2 676.2L330.9 762.6"/>
<path d="M388.4 676.2L398.0 705.0"/>
<path d="M388.4 676.2L398.0 762.6"/>
<path d="M388.4 676.2L350.0 781.7"/>
<path d="M436.3 676.2L436.3 695.4"/>
<path d="M436.3 676.2L436.3 733.8"/>
<path d="M436.3 676.2L417.1 772.1"/>
<path d="M436.3 676.2L417.1 724.2"/>
<path d="M436.3 676.2L436.3 695.4"/>
<path d="M503.4 676.2L513.0 733.8"/>
<path d="M503.4 676.2L503.4 733.8"/>
<path d="M503.4 676.2L522.6 733.8"/>
<path d="M522.6 676.2L513.0 714.6"/>
<path d="M522.6 676.2L522.6 705.0"/>
<path d="M522.6 676.2L513.0 705.0"/>
<path d="M522.6 676.2L532.2 733.8"/>
<path d="M139.2 685.8L158.3 781.7"/>
<path d="M139.2 685.8L158.3 753.0"/>
<path d="M139.2 685.8L139.2 724.2"/>
<path d="M139.2 685.8L81.7 781.7"/>
<path d="M148.8 685.8L187.1 820.1"/>
<path d="M148.8 685.8L158.3 791.3"/>
<path d="M148.8 685.8L120.0 724.2"/>
<path d="M148.8 685.8L158.3 791.3"/>
<path d="M148.8 685.8L196.7 705.0"/>
<path d="M167.9 685.8L187.1 781.7"/>
<path d="M167.9 685.8L196.7 800.9"/>
<path d="M167.9 685.8L158.3 753.0"/>
<path d="M167.9 685.8L148.8 733.8"/>
<path d="M167.9 685.8L177.5 724.2"/>
<path d="M359.6 685.8L378.8 781.7"/>
<path d="M359.6 685.8L359.6 733.8"/>
<path d="M359.6 685.8L350.0 733.8"/>
<path d="M359.6 685.8L350.0 762.6"/>
<path d="M378.8 685.8L359.6 753.0"/>
<path d="M378.8 685.8L388.4 714.6"/>
<path d="M378.8 685.8L350.0 791.3"/>
<path d="M378.8 685.8L378.8 733.8"/>
<path d="M378.8 685.8L378.8 733.8"/>
<path d="M445.9 685.8L445.9 724.2"/>
<path d="M445.9 685.8L465.1 762.6"/>
<path d="M445.9 685.8L436.3 762.6"/>
<path d="M206.3 695.4L206.3 762.6"/>
<path d="M206.3 695.4L225.4 820.1"/>
<path d="M206.3 695.4L292.5 800.9"/>
<path d="M302.1 695.4L340.4 791.3"/>
<path d="M302.1 695.4L292.5 753.0"/>
<path d="M302.1 695.4L292.5 753.0"/>
<path d="M302.1 695.4L369.2 810.5"/>
<path d="M302.1 695.4L254.2 762.6"/>
<path d="M311.7 695.4L292.5 762.6"/>
<path d="M311.7 695.4L302.1 800.9"/>
<path d="M311.7 695.4L254.2 820.1"/>
<path d="M311.7 695.4L340.4 800.9"/>
<path d="M350.0 695.4L369.2 772.1"/>
<path d="M350.0 695.4L350.0 762.6"/>
<path d="M350.0 695.4L340.4 800.9"/>
<path d="M359.6 695.4L359.6 733.8"/>
<path d="M359.6 695.4L340.4 753.0"/>
<path d="M359.6 695.4L340.4 800.9"/>
<path d="M359.6 695.4L359.6 762.6"/>
<path d="M359.6 695.4L340.4 733.8"/>
<path d="M426.7 695.4L407.5 762.6"/>
<path d="M426.7 695.4L426.7 753.0"/>
<path d="M426.7 695.4L417.1 753.0"/>
<path d="M436.3 695.4L436.3 733.8"/>
<path d="M436.3 695.4L417.1 753.0"/>
<path d="M436.3 695.4L465.1 810.5"/>
<path d="M436.3 695.4L445.9 820.1"/>
<path d="M436.3 695.4L465.1 810.5"/>
<path d="M62.5 705.0L120.0 829.7"/>
<path d="M62.5 705.0L81.7 781.7"/>
<path d="M62.5 705.0L120.0 733.8"/>
<path d="M62.5 705.0L62.5 781.7"/>
<path d="M62.5 705.0L62.5 762.6"/>
<path d="M167.9 705.0L177.5 753.0"/>
<path d="M167.9 705.0L167.9 753.0"/>
<path d="M167.9 705.0L177.5 753.0"/>
<path d="M167.9 705.0L139.2 772.1"/>
<path d="M167.9 705.0L158.3 781.7"/>
<path d="M196.7 705.0L254.2 762.6"/>
<path d="M196.7 705.0L148.8 820.1"/>
<path d="M196.7 705.0L167.9 753.0"/>
<path d="M225.4 705.0L235.0 733.8"/>
<path d="M225.4 705.0L225.4 800.9"/>
<path d="M225.4 705.0L254.2 820.1"/>
<path d="M225.4 705.0L206.3 772.1"/>
<path d="M263.8 705.0L235.0 829.7"/>
<path d="M263.8 705.0L254.2 733.8"/>
<path d="M263.8 705.0L235.0 733.8"/>
<path d="M263.8 705.0L235.0 829.7"/>
<path d="M273.4 705.0L254.2 820.1"/>
<path d="M273.4 705.0L254.2 753.0"/>
<path d="M273.4 705.0L225.4 820.1"/>
<path d="M273.4 705.0L282.9 781.7"/>
<path d="M273.4 705.0L273.4 733.8"/>
<path d="M311.7 705.0L350.0 762.6"/>
<path d="M311.7 705.0L350.0 791.3"/>
<path d="M311.7 705.0L330.9 762.6"/>
<path d="M398.0 705.0L407.5 753.0"/>
<path d="M398.0 705.0L407.5 714.6"/>
<path d="M398.0 705.0L417.1 753.0"/>
<path d="M398.0 705.0L445.9 733.8"/>
<path d="M407.5 705.0L445.9 733.8"/>
<path d="M407.5 705.0L398.0 762.6"/>
<path d="M407.5 705.0L340.4 733.8"/>
<path d="M407.5 705.0L445.9 810.5"/>
<path d="M426.7 705.0L426.7 753.0"/>
<path d="M426.7 705.0L407.5 829.7"/>
<path d="M426.7 705.0L417.1 772.1"/>
<path d="M465.1 705.0L465.1 762.6"/>
<path d="M465.1 705.0L455.5 733.8"/>
<path d="M465.1 705.0L445.9 733.8"/>
<path d="M465.1 705.0L465.1 724.2"/>
<path d="M465.1 705.0L484.2 733.8"/>
<path d="M513.0 705.0L493.8 820.1"/>
<path d="M513.0 705.0L513.0 733.8"/>
<path d="M513.0 705.0L503.4 733.8"/>
<path d="M522.6 705.0L522.6 733.8"/>
<path d="M522.6 705.0L532.2 762.6"/>
<path d="M522.6 705.0L522.6 733.8"/>
<path d="M110.4 714.6L110.4 753.0"/>
<path d="M110.4 714.6L129.6 820.1"/>
<path d="M110.4 714.6L120.0 829.7"/>
<path d="M148.8 714.6L100.8 829.7"/>
<path d="M148.8 714.6L139.2 762.6"/>
<path d="M148.8 714.6L167.9 829.7"/>
<path d="M148.8 714.6L148.8 733.8"/>
<path d="M244.6 714.6L254.2 753.0"/>
<path d="M244.6 714.6L177.5 724.2"/>
<path d="M244.6 714.6L263.8 820.1"/>
<path d="M244.6 714.6L244.6 781.7"/>
<path d="M388.4 714.6L445.9 820.1"/>
<path d="M388.4 714.6L407.5 753.0"/>
<path d="M388.4 714.6L369.2 810.5"/>
<path d="M388.4 714.6L378.8 733.8"/>
<path d="M407.5 714.6L426.7 753.0"/>
<path d="M407.5 714.6L417.1 762.6"/>
<path d="M407.5 714.6L417.1 772.1"/>
<path d="M407.5 714.6L407.5 753.0"/>
<path d="M513.0 714.6L484.2 772.1"/>
<path d="M513.0 714.6L359.6 733.8"/>
<path d="M513.0 714.6L493.8 753.0"/>
<path d="M513.0 714.6L445.9 781.7"/>
<path d="M513.0 714.6L503.4 762.6"/>
<path d="M110.4 724.2L148.8 820.1"/>
<path d="M110.4 724.2L148.8 762.6"/>
<path d="M110.4 724.2L110.4 839.3"/>
<path d="M120.0 724.2L120.0 829.7"/>
<path d="M120.0 724.2L158.3 781.7"/>
<path d="M120.0 724.2L139.2 762.6"/>
<path d="M139.2 724.2L148.8 753.0"/>
<path d="M139.2 724.2L120.0 829.7"/>
<path d="M139.2 724.2L187.1 829.7"/>
<path d="M148.8 724.2L148.8 762.6"/>
<path d="M148.8 724.2L187.1 820.1"/>
<path d="M148.8 724.2L129.6 820.1"/>
<path d="M148.8 724.2L187.1 781.7"/>
<path d="M148.8 724.2L196.7 810.5"/>
<path d="M167.9 724.2L167.9 753.0"/>
<path d="M167.9 724.2L120.0 839.3"/>
<path d="M167.9 724.2L206.3 772.1"/>
<path d="M167.9 724.2L177.5 753.0"/>
<path d="M177.5 724.2L129.6 820.1"/>
<path d="M177.5 724.2L196.7 800.9"/>
<path d="M177.5 724.2L196.7 829.7"/>
<path d="M196.7 724.2L187.1 820.1"/>
<path d="M196.7 724.2L196.7 800.9"/>
<path d="M196.7 724.2L225.4 800.9"/>
<path d="M196.7 724.2L206.3 762.6"/>
<path d="M244.6 724.2L282.9 762.6"/>
<path d="M244.6 724.2L225.4 800.9"/>
<path d="M244.6 724.2L225.4 772.1"/>
<path d="M340.4 724.2L330.9 762.6"/>
<path d="M340.4 724.2L330.9 762.6"/>
<path d="M340.4 724.2L292.5 800.9"/>
<path d="M378.8 724.2L359.6 753.0"/>
<path d="M378.8 724.2L359.6 753.0"/>
<path d="M378.8 724.2L359.6 753.0"/>
<path d="M378.8 724.2L350.0 781.7"/>
<path d="M378.8 724.2L407.5 829.7"/>
<path d="M417.1 724.2L407.5 753.0"/>
<path d="M417.1 724.2L445.9 810.5"/>
<path d="M417.1 724.2L426.7 791.3"/>
<path d="M417.1 724.2L340.4 791.3"/>
<path d="M445.9 724.2L445.9 781.7"/>
<path d="M445.9 724.2L532.2 762.6"/>
<path d="M445.9 724.2L532.2 733.8"/>
<path d="M465.1 724.2L465.1 733.8"/>
<path d="M465.1 724.2L445.9 781.7"/>
<path d="M465.1 724.2L493.8 810.5"/>
<path d="M62.5 733.8L62.5 762.6"/>
<path d="M62.5 733.8L91.2 762.6"/>
<path d="M62.5 733.8L62.5 781.7"/>
<path d="M62.5 733.8L100.8 829.7"/>
<path d="M72.1 733.8L81.7 781.7"/>
<path d="M72.1 733.8L62.5 781.7"/>
<path d="M72.1 733.8L62.5 772.1"/>
<path d="M72.1 733.8L62.5 772.1"/>
<path d="M72.1 733.8L81.7 762.6"/>
<path d="M91.2 733.8L91.2 781.7"/>
<path d="M91.2 733.8L91.2 753.0"/>
<path d="M91.2 733.8L100.8 762.6"/>
<path d="M91.2 733.8L91.2 762.6"/>
<path d="M91.2 733.8L81.7 781.7"/>
<path d="M110.4 733.8L187.1 829.7"/>
<path d="M110.4 733.8L187.1 781.7"/>
<path d="M110.4 733.8L110.4 753.0"/>
<path d="M120.0 733.8L120.0 762.6"/>
<path d="M120.0 733.8L120.0 762.6"/>
<path d="M120.0 733.8L110.4 781.7"/>
<path d="M120.0 733.8L120.0 753.0"/>
<path d="M129.6 733.8L167.9 781.7"/>
<path d="M129.6 733.8L139.2 772.1"/>
<path d="M129.6 733.8L148.8 820.1"/>
<path d="M129.6 733.8L110.4 753.0"/>
<path d="M129.6 733.8L148.8 820.1"/>
<path d="M148.8 733.8L120.0 829.7"/>
<path d="M148.8 733.8L158.3 781.7"/>
<path d="M148.8 733.8L148.8 753.0"/>
<path d="M148.8 733.8L110.4 781.7"/>
<path d="M158.3 733.8L244.6 829.7"/>
<path d="M158.3 733.8L148.8 753.0"/>
<path d="M158.3 733.8L167.9 781.7"/>
<path d="M158.3 733.8L187.1 762.6"/>
<path d="M215.8 733.8L139.2 772.1"/>
<path d="M215.8 733.8L225.4 820.1"/>
<path d="M215.8 733.8L196.7 829.7"/>
<path d="M215.8 733.8L254.2 848.9"/>
<path d="M215.8 733.8L254.2 820.1"/>
<path d="M235.0 733.8L196.7 839.3"/>
<path d="M235.0 733.8L225.4 820.1"/>
<path d="M235.0 733.8L254.2 753.0"/>
<path d="M235.0 733.8L244.6 781.7"/>
<path d="M254.2 733.8L292.5 848.9"/>
<path d="M254.2 733.8L254.2 753.0"/>
<path d="M254.2 733.8L244.6 791.3"/>
<path d="M254.2 733.8L263.8 820.1"/>
<path d="M273.4 733.8L282.9 762.6"/>
<path d="M273.4 733.8L282.9 781.7"/>
<path d="M273.4 733.8L273.4 753.0"/>
<path d="M273.4 733.8L292.5 762.6"/>
<path d="M273.4 733.8L302.1 781.7"/>
<path d="M292.5 733.8L484.2 772.1"/>
<path d="M292.5 733.8L292.5 762.6"/>
<path d="M292.5 733.8L263.8 820.1"/>
<path d="M340.4 733.8L407.5 829.7"/>
<path d="M340.4 733.8L292.5 810.5"/>
<path d="M340.4 733.8L350.0 781.7"/>
<path d="M350.0 733.8L398.0 762.6"/>
<path d="M350.0 733.8L378.8 781.7"/>
<path d="M350.0 733.8L369.2 810.5"/>
<path d="M350.0 733.8L369.2 810.5"/>
<path d="M359.6 733.8L359.6 762.6"/>
<path d="M359.6 733.8L350.0 791.3"/>
<path d="M359.6 733.8L350.0 791.3"/>
<path d="M359.6 733.8L359.6 781.7"/>
<path d="M359.6 733.8L369.2 772.1"/>
<path d="M378.8 733.8L330.9 839.3"/>
<path d="M378.8 733.8L369.2 772.1"/>
<path d="M378.8 733.8L359.6 781.7"/>
<path d="M436.3 733.8L417.1 772.1"/>
<path d="M436.3 733.8L417.1 762.6"/>
<path d="M436.3 733.8L474.6 820.1"/>
<path d="M445.9 733.8L474.6 820.1"/>
<path d="M445.9 733.8L465.1 810.5"/>
<path d="M445.9 733.8L474.6 781.7"/>
<path d="M445.9 733.8L445.9 781.7"/>
<path d="M445.9 733.8L465.1 810.5"/>
<path d="M455.5 733.8L465.1 762.6"/>
<path d="M455.5 733.8L465.1 762.6"/>
<path d="M455.5 733.8L484.2 772.1"/>
<path d="M465.1 733.8L474.6 762.6"/>
<path d="M465.1 733.8L474.6 753.0"/>
<path d="M465.1 733.8L474.6 781.7"/>
<path d="M465.1 733.8L474.6 762.6"/>
<path d="M484.2 733.8L493.8 753.0"/>
<path d="M484.2 733.8L484.2 772.1"/>
<path d="M484.2 733.8L474.6 762.6"/>
<path d="M484.2 733.8L484.2 762.6"/>
<path d="M503.4 733.8L513.0 762.6"/>
<path d="M503.4 733.8L474.6 781.7"/>
<path d="M513.0 733.8L493.8 810.5"/>
<path d="M513.0 733.8L522.6 762.6"/>
<path d="M522.6 733.8L513.0 762.6"/>
<path d="M522.6 733.8L493.8 810.5"/>
<path d="M522.6 733.8L493.8 820.1"/>
<path d="M532.2 733.8L532.2 762.6"/>
<path d="M532.2 733.8L522.6 762.6"/>
<path d="M532.2 733.8L522.6 762.6"/>
<path d="M532.2 733.8L503.4 762.6"/>
<path d="M532.2 733.8L532.2 762.6"/>
<path d="M91.2 753.0L62.5 781.7"/>
<path d="M100.8 753.0L91.2 781.7"/>
<path d="M100.8 753.0L91.2 781.7"/>
<path d="M110.4 753.0L81.7 781.7"/>
<path d="M110.4 753.0L110.4 781.7"/>
<path d="M120.0 753.0L129.6 820.1"/>
<path d="M120.0 753.0L225.4 772.1"/>
<path d="M120.0 753.0L167.9 781.7"/>
<path d="M148.8 753.0L158.3 791.3"/>
<path d="M148.8 753.0L110.4 781.7"/>
<path d="M148.8 753.0L100.8 829.7"/>
<path d="M158.3 753.0L148.8 820.1"/>
<path d="M167.9 753.0L158.3 781.7"/>
<path d="M167.9 753.0L91.2 781.7"/>
<path d="M177.5 753.0L225.4 829.7"/>
<path d="M177.5 753.0L196.7 820.1"/>
<path d="M254.2 753.0L311.7 762.6"/>
<path d="M254.2 753.0L292.5 762.6"/>
<path d="M263.8 753.0L292.5 810.5"/>
<path d="M263.8 753.0L244.6 791.3"/>
<path d="M273.4 753.0L282.9 762.6"/>
<path d="M273.4 753.0L244.6 829.7"/>
<path d="M273.4 753.0L244.6 829.7"/>
<path d="M292.5 753.0L282.9 762.6"/>
<path d="M292.5 753.0L282.9 762.6"/>
<path d="M292.5 753.0L244.6 829.7"/>
<path d="M311.7 753.0L302.1 781.7"/>
<path d="M340.4 753.0L417.1 762.6"/>
<path d="M340.4 753.0L330.9 839.3"/>
<path d="M340.4 753.0L350.0 781.7"/>
<path d="M407.5 753.0L474.6 781.7"/>
<path d="M417.1 753.0L302.1 781.7"/>
<path d="M426.7 753.0L407.5 762.6"/>
<path d="M493.8 753.0L484.2 762.6"/>
<path d="M493.8 753.0L407.5 762.6"/>
<path d="M62.5 762.6L110.4 839.3"/>
<path d="M62.5 762.6L62.5 772.1"/>
<path d="M81.7 762.6L139.2 772.1"/>
<path d="M91.2 762.6L196.7 800.9"/>
<path d="M91.2 762.6L100.8 839.3"/>
<path d="M120.0 762.6L129.6 820.1"/>
<path d="M120.0 762.6L100.8 829.7"/>
<path d="M139.2 762.6L177.5 820.1"/>
<path d="M148.8 762.6L167.9 829.7"/>
<path d="M148.8 762.6L187.1 829.7"/>
<path d="M148.8 762.6L225.4 772.1"/>
<path d="M187.1 762.6L196.7 810.5"/>
<path d="M187.1 762.6L225.4 829.7"/>
<path d="M187.1 762.6L196.7 839.3"/>
<path d="M206.3 762.6L215.8 800.9"/>
<path d="M206.3 762.6L244.6 829.7"/>
<path d="M206.3 762.6L225.4 829.7"/>
<path d="M254.2 762.6L225.4 772.1"/>
<path d="M282.9 762.6L254.2 848.9"/>
<path d="M282.9 762.6L302.1 800.9"/>
<path d="M292.5 762.6L292.5 810.5"/>
<path d="M292.5 762.6L292.5 781.7"/>
<path d="M292.5 762.6L282.9 781.7"/>
<path d="M311.7 762.6L292.5 848.9"/>
<path d="M330.9 762.6L340.4 791.3"/>
<path d="M350.0 762.6L350.0 781.7"/>
<path d="M359.6 762.6L359.6 781.7"/>
<path d="M474.6 762.6L493.8 820.1"/>
<path d="M474.6 762.6L474.6 800.9"/>
<path d="M484.2 762.6L493.8 820.1"/>
<path d="M503.4 762.6L493.8 820.1"/>
<path d="M206.3 772.1L196.7 810.5"/>
<path d="M225.4 772.1L225.4 829.7"/>
<path d="M484.2 772.1L474.6 820.1"/>
<path d="M484.2 772.1L474.6 820.1"/>
<path d="M62.5 781.7L196.7 800.9"/>
<path d="M110.4 781.7L120.0 839.3"/>
<path d="M110.4 781.7L120.0 839.3"/>
<path d="M110.4 781.7L100.8 829.7"/>
<path d="M158.3 781.7L167.9 829.7"/>
<path d="M158.3 781.7L120.0 839.3"/>
<path d="M167.9 781.7L177.5 820.1"/>
<path d="M187.1 781.7L196.7 829.7"/>
<path d="M187.1 781.7L196.7 829.7"/>
<path d="M187.1 781.7L177.5 820.1"/>
<path d="M244.6 781.7L263.8 829.7"/>
<path d="M244.6 781.7L254.2 848.9"/>
<path d="M244.6 781.7L244.6 791.3"/>
<path d="M282.9 781.7L292.5 800.9"/>
<path d="M282.9 781.7L263.8 829.7"/>
<path d="M292.5 781.7L292.5 848.9"/>
<path d="M292.5 781.7L254.2 848.9"/>
<path d="M302.1 781.7L292.5 848.9"/>
<path d="M302.1 781.7L311.7 868.0"/>
<path d="M302.1 781.7L244.6 791.3"/>
<path d="M350.0 781.7L340.4 791.3"/>
<path d="M350.0 781.7L340.4 791.3"/>
<path d="M407.5 781.7L407.5 829.7"/>
<path d="M158.3 791.3L158.3 820.1"/>
<path d="M244.6 791.3L302.1 800.9"/>
<path d="M340.4 791.3L311.7 868.0"/>
<path d="M340.4 791.3L292.5 810.5"/>
<path d="M340.4 791.3L330.9 839.3"/>
<path d="M350.0 791.3L263.8 820.1"/>
<path d="M350.0 791.3L330.9 839.3"/>
<path d="M129.6 800.9L196.7 829.7"/>
<path d="M215.8 800.9L196.7 839.3"/>
<path d="M215.8 800.9L225.4 829.7"/>
<path d="M225.4 800.9L273.4 868.0"/>
<path d="M225.4 800.9L196.7 839.3"/>
<path d="M225.4 800.9L235.0 829.7"/>
<path d="M292.5 800.9L254.2 848.9"/>
<path d="M292.5 800.9L282.9 820.1"/>
<path d="M292.5 800.9L263.8 820.1"/>
<path d="M302.1 800.9L282.9 820.1"/>
<path d="M369.2 810.5L378.8 877.6"/>
<path d="M129.6 820.1L110.4 839.3"/>
<path d="M148.8 820.1L177.5 906.4"/>
<path d="M148.8 820.1L263.8 829.7"/>
<path d="M158.3 820.1L263.8 829.7"/>
<path d="M158.3 820.1L110.4 839.3"/>
<path d="M187.1 820.1L177.5 906.4"/>
<path d="M187.1 820.1L187.1 829.7"/>
<path d="M196.7 820.1L167.9 829.7"/>
<path d="M196.7 820.1L187.1 829.7"/>
<path d="M196.7 820.1L196.7 906.4"/>
<path d="M225.4 820.1L235.0 829.7"/>
<path d="M225.4 820.1L235.0 829.7"/>
<path d="M263.8 820.1L273.4 868.0"/>
<path d="M263.8 820.1L292.5 848.9"/>
<path d="M282.9 820.1L263.8 829.7"/>
<path d="M120.0 829.7L110.4 839.3"/>
<path d="M167.9 829.7L196.7 906.4"/>
<path d="M187.1 829.7L187.1 916.0"/>
<path d="M187.1 829.7L196.7 906.4"/>
<path d="M235.0 829.7L100.8 839.3"/>
<path d="M235.0 829.7L100.8 839.3"/>
<path d="M235.0 829.7L177.5 916.0"/>
<path d="M244.6 829.7L273.4 868.0"/>
<path d="M110.4 839.3L273.4 868.0"/>
<path d="M196.7 839.3L177.5 906.4"/>
<path d="M330.9 839.3L311.7 868.0"/>
</g>
<path d="M194.7 18.4L199.1 14.1L203.5 18.4L199.1 22.7Z" fill="#f6f000" stroke="#b0a830" stroke-width="0.7"/>
<path d="M308.1 27.8L312.5 23.5L316.9 27.8L312.5 32.1Z" fill="#f6f000" stroke="#b0a830" stroke-width="0.7"/>
<path d="M430.8 27.8L435.2 23.5L439.6 27.8L435.2 32.1Z" fill="#f6f000" stroke="#b0a830" stroke-width="0.7"/>
<path d="M270.3 37.3L274.7 33.0L279.1 37.3L274.7 41.6Z" fill="#f6f000" stroke="#b0a830" stroke-width="0.7"/>
<path d="M487.5 37.3L491.9 33.0L496.3 37.3L491.9 41.6Z" fill="#f6f000" stroke="#b0a830" stroke-width="0.7"/>
<rect x="186.1" y="61.9" width="7.2" height="7.2" fill="#e020d8" stroke="#a0109a" stroke-width="0.5"/>
<circle cx="133.0" cy="84.4" r="3.9" fill="#0000ee" stroke="#00009a" stroke-width="0.6"/>
<circle cx="161.4" cy="84.4" r="3.9" fill="#0000ee" stroke="#00009a" stroke-width="0.6"/>
<circle cx="265.2" cy="84.4" r="3.9" fill="#0000ee" stroke="#00009a" stroke-width="0.6"/>
<circle cx="321.9" cy="84.4" r="3.9" fill="#0000ee" stroke="#00009a" stroke-width="0.6"/>
<circle cx="331.3" cy="84.4" r="3.9" fill="#0000ee" stroke="#00009a" stroke-width="0.6"/>
<circle cx="520.2" cy="84.4" r="3.9" fill="#0000ee" stroke="#00009a" stroke-width="0.6"/>
<circle cx="529.6" cy="84.4" r="3.9" fill="#0000ee" stroke="#00009a" stroke-width="0.6"/>
<circle cx="85.8" cy="93.8" r="3.9" fill="#0000ee" stroke="#00009a" stroke-width="0.6"/>
<circle cx="104.7" cy="93.8" r="3.9" fill="#0000ee" stroke="#00009a" stroke-width="0.6"/>
<circle cx="227.5" cy="93.8" r="3.9" fill="#0000ee" stroke="#00009a" stroke-width="0.6"/>
<circle cx="274.7" cy="93.8" r="3.9" fill="#0000ee" stroke="#00009a" stroke-width="0.6"/>
<circle cx="378.6" cy="93.8" r="3.9" fill="#0000ee" stroke="#00009a" stroke-width="0.6"/>
<circle cx="444.7" cy="93.8" r="3.9" fill="#0000ee" stroke="#00009a" stroke-width="0.6"/>
<circle cx="510.8" cy="93.8" r="3.9" fill="#0000ee" stroke="#00009a" stroke-width="0.6"/>
<circle cx="520.2" cy="93.8" r="3.9" fill="#0000ee" stroke="#00009a" stroke-width="0.6"/>
<circle cx="114.2" cy="112.7" r="3.6" fill="#f03232" stroke="#b42222" stroke-width="0.6"/>
<circle cx="359.7" cy="112.7" r="3.6" fill="#f03232" stroke="#b42222" stroke-width="0.6"/>
<circle cx="406.9" cy="112.7" r="3.6" fill="#f03232" stroke="#b42222" stroke-width="0.6"/>
<circle cx="95.3" cy="122.1" r="3.6" fill="#f03232" stroke="#b42222" stroke-width="0.6"/>
<circle cx="123.6" cy="122.1" r="3.6" fill="#f03232" stroke="#b42222" stroke-width="0.6"/>
<circle cx="133.0" cy="122.1" r="3.6" fill="#f03232" stroke="#b42222" stroke-width="0.6"/>
<circle cx="246.4" cy="122.1" r="3.6" fill="#f03232" stroke="#b42222" stroke-width="0.6"/>
<circle cx="284.1" cy="122.1" r="3.6" fill="#f03232" stroke="#b42222" stroke-width="0.6"/>
<circle cx="331.3" cy="122.1" r="3.6" fill="#f03232" stroke="#b42222" stroke-width="0.6"/>
<circle cx="491.9" cy="122.1" r="3.6" fill="#f03232" stroke="#b42222" stroke-width="0.6"/>
<circle cx="66.9" cy="131.5" r="3.6" fill="#f03232" stroke="#b42222" stroke-width="0.6"/>
<circle cx="76.4" cy="131.5" r="3.6" fill="#f03232" stroke="#b42222" stroke-width="0.6"/>
<circle cx="95.3" cy="131.5" r="3.6" fill="#f03232" stroke="#b42222" stroke-width="0.6"/>
<circle cx="123.6" cy="131.5" r="3.6" fill="#f03232" stroke="#b42222" stroke-width="0.6"/>
<circle cx="142.5" cy="131.5" r="3.6" fill="#f03232" stroke="#b42222" stroke-width="0.6"/>
<circle cx="161.4" cy="131.5" r="3.6" fill="#f03232" stroke="#b42222" stroke-width="0.6"/>
<circle cx="170.8" cy="131.5" r="3.6" fill="#f03232" stroke="#b42222" stroke-width="0.6"/>
<circle cx="189.7" cy="131.5" r="3.6" fill="#f03232" stroke="#b42222" stroke-width="0.6"/>
<circle cx="246.4" cy="131.5" r="3.6" fill="#f03232" stroke="#b42222" stroke-width="0.6"/>
<circle cx="255.8" cy="131.5" r="3.6" fill="#f03232" stroke="#b42222" stroke-width="0.6"/>
<circle cx="350.2" cy="131.5" r="3.6" fill="#f03232" stroke="#b42222" stroke-width="0.6"/>
<circle cx="454.1" cy="131.5" r="3.6" fill="#f03232" stroke="#b42222" stroke-width="0.6"/>
<circle cx="463.5" cy="131.5" r="3.6" fill="#f03232" stroke="#b42222" stroke-width="0.6"/>
<circle cx="66.9" cy="140.9" r="3.6" fill="#f03232" stroke="#b42222" stroke-width="0.6"/>
<circle cx="76.4" cy="140.9" r="3.6" fill="#f03232" stroke="#b42222" stroke-width="0.6"/>
<circle cx="85.8" cy="140.9" r="3.6" fill="#f03232" stroke="#b42222" stroke-width="0.6"/>
<circle cx="95.3" cy="140.9" r="3.6" fill="#f03232" stroke="#b42222" stroke-width="0.6"/>
<circle cx="114.2" cy="140.9" r="3.6" fill="#f03232" stroke="#b42222" stroke-width="0.6"/>
<circle cx="123.6" cy="140.9" r="3.6" fill="#f03232" stroke="#b42222" stroke-width="0.6"/>
<circle cx="133.0" cy="140.9" r="3.6" fill="#f03232" stroke="#b42222" stroke-width="0.6"/>
<circle cx="142.5" cy="140.9" r="3.6" fill="#f03232" stroke="#b42222" stroke-width="0.6"/>
<circle cx="151.9" cy="140.9" r="3.6" fill="#f03232" stroke="#b42222" stroke-width="0.6"/>
<circle cx="180.3" cy="140.9" r="3.6" fill="#f03232" stroke="#b42222" stroke-width="0.6"/>
<circle cx="189.7" cy="140.9" r="3.6" fill="#f03232" stroke="#b42222" stroke-width="0.6"/>
<circle cx="208.6" cy="140.9" r="3.6" fill="#f03232" stroke="#b42222" stroke-width="0.6"/>
<circle cx="218.0" cy="140.9" r="3.6" fill="#f03232" stroke="#b42222" stroke-width="0.6"/>
<circle cx="246.4" cy="140.9" r="3.6" fill="#f03232" stroke="#b42222" stroke-width="0.6"/>
<circle cx="255.8" cy="140.9" r="3.6" fill="#f03232" stroke="#b42222" stroke-width="0.6"/>
<circle cx="265.2" cy="140.9" r="3.6" fill="#f03232" stroke="#b42222" stroke-width="0.6"/>
<circle cx="284.1" cy="140.9" r="3.6" fill="#f03232" stroke="#b42222" stroke-width="0.6"/>
<circle cx="331.3" cy="140.9" r="3.6" fill="#f03232" stroke="#b42222" stroke-width="0.6"/>
<circle cx="340.8" cy="140.9" r="3.6" fill="#f03232" stroke="#b42222" stroke-width="0.6"/>
<circle cx="454.1" cy="140.9" r="3.6" fill="#f03232" stroke="#b42222" stroke-width="0.6"/>
<circle cx="529.6" cy="140.9" r="3.6" fill="#f03232" stroke="#b42222" stroke-width="0.6"/>
<circle cx="66.9" cy="150.4" r="3.6" fill="#f03232" stroke="#b42222" stroke-width="0.6"/>
<circle cx="76.4" cy="150.4" r="3.6" fill="#f03232" stroke="#b42222" stroke-width="0.6"/>
<circle cx="104.7" cy="150.4" r="3.6" fill="#f03232" stroke="#b42222" stroke-width="0.6"/>
<circle cx="123.6" cy="150.4" r="3.6" fill="#f03232" stroke="#b42222" stroke-width="0.6"/>
<circle cx="133.0" cy="150.4" r="3.6" fill="#f03232" stroke="#b42222" stroke-width="0.6"/>
<circle cx="142.5" cy="150.4" r="3.6" fill="#f03232" stroke="#b42222" stroke-width="0.6"/>
<circle cx="151.9" cy="150.4" r="3.6" fill="#f03232" stroke="#b42222" stroke-width="0.6"/>
<circle cx="170.8" cy="150.4" r="3.6" fill="#f03232" stroke="#b42222" stroke-width="0.6"/>
<circle cx="189.7" cy="150.4" r="3.6" fill="#f03232" stroke="#b42222" stroke-width="0.6"/>
<circle cx="199.1" cy="150.4" r="3.6" fill="#f03232" stroke="#b42222" stroke-width="0.6"/>
<circle cx="227.5" cy="150.4" r="3.6" fill="#f03232" stroke="#b42222" stroke-width="0.6"/>
<circle cx="265.2" cy="150.4" r="3.6" fill="#f03232" stroke="#b42222" stroke-width="0.6"/>
<circle cx="284.1" cy="150.4" r="3.6" fill="#f03232" stroke="#b42222" stroke-width="0.6"/>
<circle cx="293.6" cy="150.4" r="3.6" fill="#f03232" stroke="#b42222" stroke-width="0.6"/>
<circle cx="303.0" cy="150.4" r="3.6" fill="#f03232" stroke="#b42222" stroke-width="0.6"/>
<circle cx="312.5" cy="150.4" r="3.6" fill="#f03232" stroke="#b42222" stroke-width="0.6"/>
<circle cx="388.0" cy="150.4" r="3.6" fill="#f03232" stroke="#b42222" stroke-width="0.6"/>
<circle cx="397.4" cy="150.4" r="3.6" fill="#f03232" stroke="#b42222" stroke-width="0.6"/>
<circle cx="406.9" cy="150.4" r="3.6" fill="#f03232" stroke="#b42222" stroke-width="0.6"/>
<circle cx="416.3" cy="150.4" r="3.6" fill="#f03232" stroke="#b42222" stroke-width="0.6"/>
<circle cx="425.8" cy="150.4" r="3.6" fill="#f03232" stroke="#b42222" stroke-width="0.6"/>
<circle cx="435.2" cy="150.4" r="3.6" fill="#f03232" stroke="#b42222" stroke-width="0.6"/>
<circle cx="444.7" cy="150.4" r="3.6" fill="#f03232" stroke="#b42222" stroke-width="0.6"/>
<circle cx="463.5" cy="150.4" r="3.6" fill="#f03232" stroke="#b42222" stroke-width="0.6"/>
<circle cx="473.0" cy="150.4" r="3.6" fill="#f03232" stroke="#b42222" stroke-width="0.6"/>
<circle cx="482.4" cy="150.4" r="3.6" fill="#f03232" stroke="#b42222" stroke-width="0.6"/>
<circle cx="501.3" cy="150.4" r="3.6" fill="#f03232" stroke="#b42222" stroke-width="0.6"/>
<circle cx="529.6" cy="150.4" r="3.6" fill="#f03232" stroke="#b42222" stroke-width="0.6"/>
<path d="M91.5 173.1L95.3 166.3L99.1 173.1Z" fill="#1ede1e" stroke="#149414" stroke-width="0.6"/>
<path d="M110.4 173.1L114.2 166.3L118.0 173.1Z" fill="#1ede1e" stroke="#149414" stroke-width="0.6"/>
<path d="M138.7 173.1L142.5 166.3L146.3 173.1Z" fill="#1ede1e" stroke="#149414" stroke-width="0.6"/>
<path d="M214.2 173.1L218.0 166.3L221.8 173.1Z" fill="#1ede1e" stroke="#149414" stroke-width="0.6"/>
<path d="M252.0 173.1L255.8 166.3L259.6 173.1Z" fill="#1ede1e" stroke="#149414" stroke-width="0.6"/>
<path d="M308.7 173.1L312.5 166.3L316.3 173.1Z" fill="#1ede1e" stroke="#149414" stroke-width="0.6"/>
<path d="M337.0 173.1L340.8 166.3L344.6 173.1Z" fill="#1ede1e" stroke="#149414" stroke-width="0.6"/>
<path d="M403.1 173.1L406.9 166.3L410.7 173.1Z" fill="#1ede1e" stroke="#149414" stroke-width="0.6"/>
<path d="M450.3 173.1L454.1 166.3L457.9 173.1Z" fill="#1ede1e" stroke="#149414" stroke-width="0.6"/>
<path d="M157.6 182.5L161.4 175.7L165.2 182.5Z" fill="#1ede1e" stroke="#149414" stroke-width="0.6"/>
<path d="M157.6 192.0L161.4 185.2L165.2 192.0Z" fill="#1ede1e" stroke="#149414" stroke-width="0.6"/>
<path d="M204.8 192.0L208.6 185.2L212.4 192.0Z" fill="#1ede1e" stroke="#149414" stroke-width="0.6"/>
<path d="M233.1 192.0L236.9 185.2L240.7 192.0Z" fill="#1ede1e" stroke="#149414" stroke-width="0.6"/>
<path d="M289.8 192.0L293.6 185.2L297.4 192.0Z" fill="#1ede1e" stroke="#149414" stroke-width="0.6"/>
<path d="M525.9 192.0L529.6 185.2L533.4 192.0Z" fill="#1ede1e" stroke="#149414" stroke-width="0.6"/>
<path d="M91.5 201.4L95.3 194.6L99.1 201.4Z" fill="#1ede1e" stroke="#149414" stroke-width="0.6"/>
<path d="M100.9 201.4L104.7 194.6L108.5 201.4Z" fill="#1ede1e" stroke="#149414" stroke-width="0.6"/>
<path d="M223.7 201.4L227.5 194.6L231.3 201.4Z" fill="#1ede1e" stroke="#149414" stroke-width="0.6"/>
<path d="M337.0 201.4L340.8 194.6L344.6 201.4Z" fill="#1ede1e" stroke="#149414" stroke-width="0.6"/>
<path d="M91.5 210.8L95.3 204.0L99.1 210.8Z" fill="#1ede1e" stroke="#149414" stroke-width="0.6"/>
<path d="M233.1 210.8L236.9 204.0L240.7 210.8Z" fill="#1ede1e" stroke="#149414" stroke-width="0.6"/>
<path d="M242.6 210.8L246.4 204.0L250.2 210.8Z" fill="#1ede1e" stroke="#149414" stroke-width="0.6"/>
<path d="M346.4 210.8L350.2 204.0L354.0 210.8Z" fill="#1ede1e" stroke="#149414" stroke-width="0.6"/>
<path d="M393.6 210.8L397.4 204.0L401.2 210.8Z" fill="#1ede1e" stroke="#149414" stroke-width="0.6"/>
<path d="M72.6 220.2L76.4 213.4L80.2 220.2Z" fill="#1ede1e" stroke="#149414" stroke-width="0.6"/>
<path d="M129.2 220.2L133.0 213.4L136.8 220.2Z" fill="#1ede1e" stroke="#149414" stroke-width="0.6"/>
<path d="M138.7 220.2L142.5 213.4L146.3 220.2Z" fill="#1ede1e" stroke="#149414" stroke-width="0.6"/>
<path d="M167.0 220.2L170.8 213.4L174.6 220.2Z" fill="#1ede1e" stroke="#149414" stroke-width="0.6"/>
<path d="M214.2 220.2L218.0 213.4L221.8 220.2Z" fill="#1ede1e" stroke="#149414" stroke-width="0.6"/>
<path d="M233.1 220.2L236.9 213.4L240.7 220.2Z" fill="#1ede1e" stroke="#149414" stroke-width="0.6"/>
<path d="M289.8 220.2L293.6 213.4L297.4 220.2Z" fill="#1ede1e" stroke="#149414" stroke-width="0.6"/>
<path d="M355.9 220.2L359.7 213.4L363.5 220.2Z" fill="#1ede1e" stroke="#149414" stroke-width="0.6"/>
<path d="M450.3 220.2L454.1 213.4L457.9 220.2Z" fill="#1ede1e" stroke="#149414" stroke-width="0.6"/>
<path d="M72.6 229.7L76.4 222.9L80.2 229.7Z" fill="#1ede1e" stroke="#149414" stroke-width="0.6"/>
<path d="M82.0 229.7L85.8 222.9L89.6 229.7Z" fill="#1ede1e" stroke="#149414" stroke-width="0.6"/>
<path d="M129.2 229.7L133.0 222.9L136.8 229.7Z" fill="#1ede1e" stroke="#149414" stroke-width="0.6"/>
<path d="M148.1 229.7L151.9 222.9L155.7 229.7Z" fill="#1ede1e" stroke="#149414" stroke-width="0.6"/>
<path d="M176.5 229.7L180.3 222.9L184.1 229.7Z" fill="#1ede1e" stroke="#149414" stroke-width="0.6"/>
<path d="M195.3 229.7L199.1 222.9L202.9 229.7Z" fill="#1ede1e" stroke="#149414" stroke-width="0.6"/>
<path d="M204.8 229.7L208.6 222.9L212.4 229.7Z" fill="#1ede1e" stroke="#149414" stroke-width="0.6"/>
<path d="M252.0 229.7L255.8 222.9L259.6 229.7Z" fill="#1ede1e" stroke="#149414" stroke-width="0.6"/>
<path d="M261.4 229.7L265.2 222.9L269.0 229.7Z" fill="#1ede1e" stroke="#149414" stroke-width="0.6"/>
<path d="M374.8 229.7L378.6 222.9L382.4 229.7Z" fill="#1ede1e" stroke="#149414" stroke-width="0.6"/>
<path d="M384.2 229.7L388.0 222.9L391.8 229.7Z" fill="#1ede1e" stroke="#149414" stroke-width="0.6"/>
<path d="M412.5 229.7L416.3 222.9L420.1 229.7Z" fill="#1ede1e" stroke="#149414" stroke-width="0.6"/>
<path d="M525.9 229.7L529.6 222.9L533.4 229.7Z" fill="#1ede1e" stroke="#149414" stroke-width="0.6"/>
<path d="M63.1 239.1L66.9 232.3L70.7 239.1Z" fill="#1ede1e" stroke="#149414" stroke-width="0.6"/>
<path d="M82.0 239.1L85.8 232.3L89.6 239.1Z" fill="#1ede1e" stroke="#149414" stroke-width="0.6"/>
<path d="M110.4 239.1L114.2 232.3L118.0 239.1Z" fill="#1ede1e" stroke="#149414" stroke-width="0.6"/>
<path d="M119.8 239.1L123.6 232.3L127.4 239.1Z" fill="#1ede1e" stroke="#149414" stroke-width="0.6"/>
<path d="M138.7 239.1L142.5 232.3L146.3 239.1Z" fill="#1ede1e" stroke="#149414" stroke-width="0.6"/>
<path d="M148.1 239.1L151.9 232.3L155.7 239.1Z" fill="#1ede1e" stroke="#149414" stroke-width="0.6"/>
<path d="M167.0 239.1L170.8 232.3L174.6 239.1Z" fill="#1ede1e" stroke="#149414" stroke-width="0.6"/>
<path d="M176.5 239.1L180.3 232.3L184.1 239.1Z" fill="#1ede1e" stroke="#149414" stroke-width="0.6"/>
<path d="M185.9 239.1L189.7 232.3L193.5 239.1Z" fill="#1ede1e" stroke="#149414" stroke-width="0.6"/>
<path d="M252.0 239.1L255.8 232.3L259.6 239.1Z" fill="#1ede1e" stroke="#149414" stroke-width="0.6"/>
<path d="M261.4 239.1L265.2 232.3L269.0 239.1Z" fill="#1ede1e" stroke="#149414" stroke-width="0.6"/>
<path d="M327.5 239.1L331.3 232.3L335.1 239.1Z" fill="#1ede1e" stroke="#149414" stroke-width="0.6"/>
<path d="M337.0 239.1L340.8 232.3L344.6 239.1Z" fill="#1ede1e" stroke="#149414" stroke-width="0.6"/>
<path d="M346.4 239.1L350.2 232.3L354.0 239.1Z" fill="#1ede1e" stroke="#149414" stroke-width="0.6"/>
<path d="M403.1 239.1L406.9 232.3L410.7 239.1Z" fill="#1ede1e" stroke="#149414" stroke-width="0.6"/>
<path d="M412.5 239.1L416.3 232.3L420.1 239.1Z" fill="#1ede1e" stroke="#149414" stroke-width="0.6"/>
<path d="M422.0 239.1L425.8 232.3L429.6 239.1Z" fill="#1ede1e" stroke="#149414" stroke-width="0.6"/>
<path d="M450.3 239.1L454.1 232.3L457.9 239.1Z" fill="#1ede1e" stroke="#149414" stroke-width="0.6"/>
<path d="M459.7 239.1L463.5 232.3L467.3 239.1Z" fill="#1ede1e" stroke="#149414" stroke-width="0.6"/>
<path d="M469.2 239.1L473.0 232.3L476.8 239.1Z" fill="#1ede1e" stroke="#149414" stroke-width="0.6"/>
<path d="M488.1 239.1L491.9 232.3L495.7 239.1Z" fill="#1ede1e" stroke="#149414" stroke-width="0.6"/>
<path d="M525.9 239.1L529.6 232.3L533.4 239.1Z" fill="#1ede1e" stroke="#149414" stroke-width="0.6"/>
<path d="M100.9 248.5L104.7 241.7L108.5 248.5Z" fill="#1ede1e" stroke="#149414" stroke-width="0.6"/>
<path d="M110.4 248.5L114.2 241.7L118.0 248.5Z" fill="#1ede1e" stroke="#149414" stroke-width="0.6"/>
<path d="M119.8 248.5L123.6 241.7L127.4 248.5Z" fill="#1ede1e" stroke="#149414" stroke-width="0.6"/>
<path d="M129.2 248.5L133.0 241.7L136.8 248.5Z" fill="#1ede1e" stroke="#149414" stroke-width="0.6"/>
<path d="M148.1 248.5L151.9 241.7L155.7 248.5Z" fill="#1ede1e" stroke="#149414" stroke-width="0.6"/>
<path d="M157.6 248.5L161.4 241.7L165.2 248.5Z" fill="#1ede1e" stroke="#149414" stroke-width="0.6"/>
<path d="M167.0 248.5L170.8 241.7L174.6 248.5Z" fill="#1ede1e" stroke="#149414" stroke-width="0.6"/>
<path d="M176.5 248.5L180.3 241.7L184.1 248.5Z" fill="#1ede1e" stroke="#149414" stroke-width="0.6"/>
<path d="M185.9 248.5L189.7 241.7L193.5 248.5Z" fill="#1ede1e" stroke="#149414" stroke-width="0.6"/>
<path d="M195.3 248.5L199.1 241.7L202.9 248.5Z" fill="#1ede1e" stroke="#149414" stroke-width="0.6"/>
<path d="M214.2 248.5L218.0 241.7L221.8 248.5Z" fill="#1ede1e" stroke="#149414" stroke-width="0.6"/>
<path d="M233.1 248.5L236.9 241.7L240.7 248.5Z" fill="#1ede1e" stroke="#149414" stroke-width="0.6"/>
<path d="M252.0 248.5L255.8 241.7L259.6 248.5Z" fill="#1ede1e" stroke="#149414" stroke-width="0.6"/>
<path d="M261.4 248.5L265.2 241.7L269.0 248.5Z" fill="#1ede1e" stroke="#149414" stroke-width="0.6"/>
<path d="M280.3 248.5L284.1 241.7L287.9 248.5Z" fill="#1ede1e" stroke="#149414" stroke-width="0.6"/>
<path d="M289.8 248.5L293.6 241.7L297.4 248.5Z" fill="#1ede1e" stroke="#149414" stroke-width="0.6"/>
<path d="M299.2 248.5L303.0 241.7L306.8 248.5Z" fill="#1ede1e" stroke="#149414" stroke-width="0.6"/>
<path d="M308.7 248.5L312.5 241.7L316.3 248.5Z" fill="#1ede1e" stroke="#149414" stroke-width="0.6"/>
<path d="M318.1 248.5L321.9 241.7L325.7 248.5Z" fill="#1ede1e" stroke="#149414" stroke-width="0.6"/>
<path d="M327.5 248.5L331.3 241.7L335.1 248.5Z" fill="#1ede1e" stroke="#149414" stroke-width="0.6"/>
<path d="M337.0 248.5L340.8 241.7L344.6 248.5Z" fill="#1ede1e" stroke="#149414" stroke-width="0.6"/>
<path d="M346.4 248.5L350.2 241.7L354.0 248.5Z" fill="#1ede1e" stroke="#149414" stroke-width="0.6"/>
<path d="M355.9 248.5L359.7 241.7L363.5 248.5Z" fill="#1ede1e" stroke="#149414" stroke-width="0.6"/>
<path d="M365.3 248.5L369.1 241.7L372.9 248.5Z" fill="#1ede1e" stroke="#149414" stroke-width="0.6"/>
<path d="M374.8 248.5L378.6 241.7L382.4 248.5Z" fill="#1ede1e" stroke="#149414" stroke-width="0.6"/>
<path d="M384.2 248.5L388.0 241.7L391.8 248.5Z" fill="#1ede1e" stroke="#149414" stroke-width="0.6"/>
<path d="M393.6 248.5L397.4 241.7L401.2 248.5Z" fill="#1ede1e" stroke="#149414" stroke-width="0.6"/>
<path d="M412.5 248.5L416.3 241.7L420.1 248.5Z" fill="#1ede1e" stroke="#149414" stroke-width="0.6"/>
<path d="M440.9 248.5L444.7 241.7L448.5 248.5Z" fill="#1ede1e" stroke="#149414" stroke-width="0.6"/>
<path d="M450.3 248.5L454.1 241.7L457.9 248.5Z" fill="#1ede1e" stroke="#149414" stroke-width="0.6"/>
<path d="M459.7 248.5L463.5 241.7L467.3 248.5Z" fill="#1ede1e" stroke="#149414" stroke-width="0.6"/>
<path d="M488.1 248.5L491.9 241.7L495.7 248.5Z" fill="#1ede1e" stroke="#149414" stroke-width="0.6"/>
<path d="M497.5 248.5L501.3 241.7L505.1 248.5Z" fill="#1ede1e" stroke="#149414" stroke-width="0.6"/>
<path d="M525.9 248.5L529.6 241.7L533.4 248.5Z" fill="#1ede1e" stroke="#149414" stroke-width="0.6"/>
<path d="M63.2 263.5L64.8 259.7L69.0 259.7L70.6 263.5L69.0 267.3L64.8 267.3Z" fill="#08ecf0" stroke="#148c92" stroke-width="0.8"/>
<path d="M72.7 263.5L74.3 259.7L78.5 259.7L80.1 263.5L78.5 267.3L74.3 267.3Z" fill="#08ecf0" stroke="#148c92" stroke-width="0.8"/>
<path d="M82.1 263.5L83.7 259.7L87.9 259.7L89.5 263.5L87.9 267.3L83.7 267.3Z" fill="#08ecf0" stroke="#148c92" stroke-width="0.8"/>
<path d="M91.6 263.5L93.2 259.7L97.4 259.7L99.0 263.5L97.4 267.3L93.2 267.3Z" fill="#08ecf0" stroke="#148c92" stroke-width="0.8"/>
<path d="M101.0 263.5L102.6 259.7L106.8 259.7L108.4 263.5L106.8 267.3L102.6 267.3Z" fill="#08ecf0" stroke="#148c92" stroke-width="0.8"/>
<path d="M110.5 263.5L112.1 259.7L116.3 259.7L117.9 263.5L116.3 267.3L112.1 267.3Z" fill="#08ecf0" stroke="#148c92" stroke-width="0.8"/>
<path d="M119.9 263.5L121.5 259.7L125.7 259.7L127.3 263.5L125.7 267.3L121.5 267.3Z" fill="#08ecf0" stroke="#148c92" stroke-width="0.8"/>
<path d="M129.3 263.5L130.9 259.7L135.1 259.7L136.7 263.5L135.1 267.3L130.9 267.3Z" fill="#08ecf0" stroke="#148c92" stroke-width="0.8"/>
<path d="M138.8 263.5L140.4 259.7L144.6 259.7L146.2 263.5L144.6 267.3L140.4 267.3Z" fill="#08ecf0" stroke="#148c92" stroke-width="0.8"/>
<path d="M148.2 263.5L149.8 259.7L154.0 259.7L155.6 263.5L154.0 267.3L149.8 267.3Z" fill="#08ecf0" stroke="#148c92" stroke-width="0.8"/>
<path d="M157.7 263.5L159.3 259.7L163.5 259.7L165.1 263.5L163.5 267.3L159.3 267.3Z" fill="#08ecf0" stroke="#148c92" stroke-width="0.8"/>
<path d="M167.1 263.5L168.7 259.7L172.9 259.7L174.5 263.5L172.9 267.3L168.7 267.3Z" fill="#08ecf0" stroke="#148c92" stroke-width="0.8"/>
<path d="M223.8 263.5L225.4 259.7L229.6 259.7L231.2 263.5L229.6 267.3L225.4 267.3Z" fill="#08ecf0" stroke="#148c92" stroke-width="0.8"/>
<path d="M233.2 263.5L234.8 259.7L239.0 259.7L240.6 263.5L239.0 267.3L234.8 267.3Z" fill="#08ecf0" stroke="#148c92" stroke-width="0.8"/>
<path d="M242.7 263.5L244.3 259.7L248.5 259.7L250.1 263.5L248.5 267.3L244.3 267.3Z" fill="#08ecf0" stroke="#148c92" stroke-width="0.8"/>
<path d="M252.1 263.5L253.7 259.7L257.9 259.7L259.5 263.5L257.9 267.3L253.7 267.3Z" fill="#08ecf0" stroke="#148c92" stroke-width="0.8"/>
<path d="M261.5 263.5L263.1 259.7L267.3 259.7L268.9 263.5L267.3 267.3L263.1 267.3Z" fill="#08ecf0" stroke="#148c92" stroke-width="0.8"/>
<path d="M271.0 263.5L272.6 259.7L276.8 259.7L278.4 263.5L276.8 267.3L272.6 267.3Z" fill="#08ecf0" stroke="#148c92" stroke-width="0.8"/>
<path d="M280.4 263.5L282.0 259.7L286.2 259.7L287.8 263.5L286.2 267.3L282.0 267.3Z" fill="#08ecf0" stroke="#148c92" stroke-width="0.8"/>
<path d="M299.3 263.5L300.9 259.7L305.1 259.7L306.7 263.5L305.1 267.3L300.9 267.3Z" fill="#08ecf0" stroke="#148c92" stroke-width="0.8"/>
<path d="M308.8 263.5L310.4 259.7L314.6 259.7L316.2 263.5L314.6 267.3L310.4 267.3Z" fill="#08ecf0" stroke="#148c92" stroke-width="0.8"/>
<path d="M318.2 263.5L319.8 259.7L324.0 259.7L325.6 263.5L324.0 267.3L319.8 267.3Z" fill="#08ecf0" stroke="#148c92" stroke-width="0.8"/>
<path d="M327.6 263.5L329.2 259.7L333.4 259.7L335.0 263.5L333.4 267.3L329.2 267.3Z" fill="#08ecf0" stroke="#148c92" stroke-width="0.8"/>
<path d="M337.1 263.5L338.7 259.7L342.9 259.7L344.5 263.5L342.9 267.3L338.7 267.3Z" fill="#08ecf0" stroke="#148c92" stroke-width="0.8"/>
<path d="M346.5 263.5L348.1 259.7L352.3 259.7L353.9 263.5L352.3 267.3L348.1 267.3Z" fill="#08ecf0" stroke="#148c92" stroke-width="0.8"/>
<path d="M356.0 263.5L357.6 259.7L361.8 259.7L363.4 263.5L361.8 267.3L357.6 267.3Z" fill="#08ecf0" stroke="#148c92" stroke-width="0.8"/>
<path d="M365.4 263.5L367.0 259.7L371.2 259.7L372.8 263.5L371.2 267.3L367.0 267.3Z" fill="#08ecf0" stroke="#148c92" stroke-width="0.8"/>
<path d="M374.9 263.5L376.5 259.7L380.7 259.7L382.3 263.5L380.7 267.3L376.5 267.3Z" fill="#08ecf0" stroke="#148c92" stroke-width="0.8"/>
<path d="M393.7 263.5L395.3 259.7L399.5 259.7L401.1 263.5L399.5 267.3L395.3 267.3Z" fill="#08ecf0" stroke="#148c92" stroke-width="0.8"/>
<path d="M412.6 263.5L414.2 259.7L418.4 259.7L420.0 263.5L418.4 267.3L414.2 267.3Z" fill="#08ecf0" stroke="#148c92" stroke-width="0.8"/>
<path d="M422.1 263.5L423.7 259.7L427.9 259.7L429.5 263.5L427.9 267.3L423.7 267.3Z" fill="#08ecf0" stroke="#148c92" stroke-width="0.8"/>
<path d="M431.5 263.5L433.1 259.7L437.3 259.7L438.9 263.5L437.3 267.3L433.1 267.3Z" fill="#08ecf0" stroke="#148c92" stroke-width="0.8"/>
<path d="M441.0 263.5L442.6 259.7L446.8 259.7L448.4 263.5L446.8 267.3L442.6 267.3Z" fill="#08ecf0" stroke="#148c92" stroke-width="0.8"/>
<path d="M450.4 263.5L452.0 259.7L456.2 259.7L457.8 263.5L456.2 267.3L452.0 267.3Z" fill="#08ecf0" stroke="#148c92" stroke-width="0.8"/>
<path d="M469.3 263.5L470.9 259.7L475.1 259.7L476.7 263.5L475.1 267.3L470.9 267.3Z" fill="#08ecf0" stroke="#148c92" stroke-width="0.8"/>
<path d="M478.7 263.5L480.3 259.7L484.5 259.7L486.1 263.5L484.5 267.3L480.3 267.3Z" fill="#08ecf0" stroke="#148c92" stroke-width="0.8"/>
<path d="M488.2 263.5L489.8 259.7L494.0 259.7L495.6 263.5L494.0 267.3L489.8 267.3Z" fill="#08ecf0" stroke="#148c92" stroke-width="0.8"/>
<path d="M497.6 263.5L499.2 259.7L503.4 259.7L505.0 263.5L503.4 267.3L499.2 267.3Z" fill="#08ecf0" stroke="#148c92" stroke-width="0.8"/>
<path d="M507.1 263.5L508.7 259.7L512.9 259.7L514.5 263.5L512.9 267.3L508.7 267.3Z" fill="#08ecf0" stroke="#148c92" stroke-width="0.8"/>
<path d="M516.5 263.5L518.1 259.7L522.3 259.7L523.9 263.5L522.3 267.3L518.1 267.3Z" fill="#08ecf0" stroke="#148c92" stroke-width="0.8"/>
<path d="M525.9 263.5L527.5 259.7L531.8 259.7L533.4 263.5L531.8 267.3L527.5 267.3Z" fill="#08ecf0" stroke="#148c92" stroke-width="0.8"/>
<path d="M63.2 272.9L64.8 269.1L69.0 269.1L70.6 272.9L69.0 276.7L64.8 276.7Z" fill="#08ecf0" stroke="#148c92" stroke-width="0.8"/>
<path d="M72.7 272.9L74.3 269.1L78.5 269.1L80.1 272.9L78.5 276.7L74.3 276.7Z" fill="#08ecf0" stroke="#148c92" stroke-width="0.8"/>
<path d="M82.1 272.9L83.7 269.1L87.9 269.1L89.5 272.9L87.9 276.7L83.7 276.7Z" fill="#08ecf0" stroke="#148c92" stroke-width="0.8"/>
<path d="M91.6 272.9L93.2 269.1L97.4 269.1L99.0 272.9L97.4 276.7L93.2 276.7Z" fill="#08ecf0" stroke="#148c92" stroke-width="0.8"/>
<path d="M110.5 272.9L112.1 269.1L116.3 269.1L117.9 272.9L116.3 276.7L112.1 276.7Z" fill="#08ecf0" stroke="#148c92" stroke-width="0.8"/>
<path d="M119.9 272.9L121.5 269.1L125.7 269.1L127.3 272.9L125.7 276.7L121.5 276.7Z" fill="#08ecf0" stroke="#148c92" stroke-width="0.8"/>
<path d="M129.3 272.9L130.9 269.1L135.1 269.1L136.7 272.9L135.1 276.7L130.9 276.7Z" fill="#08ecf0" stroke="#148c92" stroke-width="0.8"/>
<path d="M138.8 272.9L140.4 269.1L144.6 269.1L146.2 272.9L144.6 276.7L140.4 276.7Z" fill="#08ecf0" stroke="#148c92" stroke-width="0.8"/>
<path d="M148.2 272.9L149.8 269.1L154.0 269.1L155.6 272.9L154.0 276.7L149.8 276.7Z" fill="#08ecf0" stroke="#148c92" stroke-width="0.8"/>
<path d="M157.7 272.9L159.3 269.1L163.5 269.1L165.1 272.9L163.5 276.7L159.3 276.7Z" fill="#08ecf0" stroke="#148c92" stroke-width="0.8"/>
<path d="M176.6 272.9L178.2 269.1L182.4 269.1L184.0 272.9L182.4 276.7L178.2 276.7Z" fill="#08ecf0" stroke="#148c92" stroke-width="0.8"/>
<path d="M186.0 272.9L187.6 269.1L191.8 269.1L193.4 272.9L191.8 276.7L187.6 276.7Z" fill="#08ecf0" stroke="#148c92" stroke-width="0.8"/>
<path d="M195.4 272.9L197.0 269.1L201.2 269.1L202.8 272.9L201.2 276.7L197.0 276.7Z" fill="#08ecf0" stroke="#148c92" stroke-width="0.8"/>
<path d="M204.9 272.9L206.5 269.1L210.7 269.1L212.3 272.9L210.7 276.7L206.5 276.7Z" fill="#08ecf0" stroke="#148c92" stroke-width="0.8"/>
<path d="M223.8 272.9L225.4 269.1L229.6 269.1L231.2 272.9L229.6 276.7L225.4 276.7Z" fill="#08ecf0" stroke="#148c92" stroke-width="0.8"/>
<path d="M233.2 272.9L234.8 269.1L239.0 269.1L240.6 272.9L239.0 276.7L234.8 276.7Z" fill="#08ecf0" stroke="#148c92" stroke-width="0.8"/>
<path d="M242.7 272.9L244.3 269.1L248.5 269.1L250.1 272.9L248.5 276.7L244.3 276.7Z" fill="#08ecf0" stroke="#148c92" stroke-width="0.8"/>
<path d="M289.9 272.9L291.5 269.1L295.7 269.1L297.3 272.9L295.7 276.7L291.5 276.7Z" fill="#08ecf0" stroke="#148c92" stroke-width="0.8"/>
<path d="M308.8 272.9L310.4 269.1L314.6 269.1L316.2 272.9L314.6 276.7L310.4 276.7Z" fill="#08ecf0" stroke="#148c92" stroke-width="0.8"/>
<path d="M318.2 272.9L319.8 269.1L324.0 269.1L325.6 272.9L324.0 276.7L319.8 276.7Z" fill="#08ecf0" stroke="#148c92" stroke-width="0.8"/>
<path d="M356.0 272.9L357.6 269.1L361.8 269.1L363.4 272.9L361.8 276.7L357.6 276.7Z" fill="#08ecf0" stroke="#148c92" stroke-width="0.8"/>
<path d="M365.4 272.9L367.0 269.1L371.2 269.1L372.8 272.9L371.2 276.7L367.0 276.7Z" fill="#08ecf0" stroke="#148c92" stroke-width="0.8"/>
<path d="M374.9 272.9L376.5 269.1L380.7 269.1L382.3 272.9L380.7 276.7L376.5 276.7Z" fill="#08ecf0" stroke="#148c92" stroke-width="0.8"/>
<path d="M384.3 272.9L385.9 269.1L390.1 269.1L391.7 272.9L390.1 276.7L385.9 276.7Z" fill="#08ecf0" stroke="#148c92" stroke-width="0.8"/>
<path d="M393.7 272.9L395.3 269.1L399.5 269.1L401.1 272.9L399.5 276.7L395.3 276.7Z" fill="#08ecf0" stroke="#148c92" stroke-width="0.8"/>
<path d="M403.2 272.9L404.8 269.1L409.0 269.1L410.6 272.9L409.0 276.7L404.8 276.7Z" fill="#08ecf0" stroke="#148c92" stroke-width="0.8"/>
<path d="M441.0 272.9L442.6 269.1L446.8 269.1L448.4 272.9L446.8 276.7L442.6 276.7Z" fill="#08ecf0" stroke="#148c92" stroke-width="0.8"/>
<path d="M459.8 272.9L461.4 269.1L465.6 269.1L467.2 272.9L465.6 276.7L461.4 276.7Z" fill="#08ecf0" stroke="#148c92" stroke-width="0.8"/>
<path d="M469.3 272.9L470.9 269.1L475.1 269.1L476.7 272.9L475.1 276.7L470.9 276.7Z" fill="#08ecf0" stroke="#148c92" stroke-width="0.8"/>
<path d="M507.1 272.9L508.7 269.1L512.9 269.1L514.5 272.9L512.9 276.7L508.7 276.7Z" fill="#08ecf0" stroke="#148c92" stroke-width="0.8"/>
<path d="M516.5 272.9L518.1 269.1L522.3 269.1L523.9 272.9L522.3 276.7L518.1 276.7Z" fill="#08ecf0" stroke="#148c92" stroke-width="0.8"/>
<path d="M91.6 282.3L93.2 278.5L97.4 278.5L99.0 282.3L97.4 286.1L93.2 286.1Z" fill="#08ecf0" stroke="#148c92" stroke-width="0.8"/>
<path d="M148.2 282.3L149.8 278.5L154.0 278.5L155.6 282.3L154.0 286.1L149.8 286.1Z" fill="#08ecf0" stroke="#148c92" stroke-width="0.8"/>
<path d="M157.7 282.3L159.3 278.5L163.5 278.5L165.1 282.3L163.5 286.1L159.3 286.1Z" fill="#08ecf0" stroke="#148c92" stroke-width="0.8"/>
<path d="M176.6 282.3L178.2 278.5L182.4 278.5L184.0 282.3L182.4 286.1L178.2 286.1Z" fill="#08ecf0" stroke="#148c92" stroke-width="0.8"/>
<path d="M186.0 282.3L187.6 278.5L191.8 278.5L193.4 282.3L191.8 286.1L187.6 286.1Z" fill="#08ecf0" stroke="#148c92" stroke-width="0.8"/>
<path d="M195.4 282.3L197.0 278.5L201.2 278.5L202.8 282.3L201.2 286.1L197.0 286.1Z" fill="#08ecf0" stroke="#148c92" stroke-width="0.8"/>
<path d="M223.8 282.3L225.4 278.5L229.6 278.5L231.2 282.3L229.6 286.1L225.4 286.1Z" fill="#08ecf0" stroke="#148c92" stroke-width="0.8"/>
<path d="M450.4 282.3L452.0 278.5L456.2 278.5L457.8 282.3L456.2 286.1L452.0 286.1Z" fill="#08ecf0" stroke="#148c92" stroke-width="0.8"/>
<path d="M459.8 282.3L461.4 278.5L465.6 278.5L467.2 282.3L465.6 286.1L461.4 286.1Z" fill="#08ecf0" stroke="#148c92" stroke-width="0.8"/>
<path d="M469.3 282.3L470.9 278.5L475.1 278.5L476.7 282.3L475.1 286.1L470.9 286.1Z" fill="#08ecf0" stroke="#148c92" stroke-width="0.8"/>
<path d="M91.6 291.8L93.2 288.0L97.4 288.0L99.0 291.8L97.4 295.6L93.2 295.6Z" fill="#08ecf0" stroke="#148c92" stroke-width="0.8"/>
<path d="M101.0 291.8L102.6 288.0L106.8 288.0L108.4 291.8L106.8 295.6L102.6 295.6Z" fill="#08ecf0" stroke="#148c92" stroke-width="0.8"/>
<path d="M129.3 291.8L130.9 288.0L135.1 288.0L136.7 291.8L135.1 295.6L130.9 295.6Z" fill="#08ecf0" stroke="#148c92" stroke-width="0.8"/>
<path d="M167.1 291.8L168.7 288.0L172.9 288.0L174.5 291.8L172.9 295.6L168.7 295.6Z" fill="#08ecf0" stroke="#148c92" stroke-width="0.8"/>
<path d="M186.0 291.8L187.6 288.0L191.8 288.0L193.4 291.8L191.8 295.6L187.6 295.6Z" fill="#08ecf0" stroke="#148c92" stroke-width="0.8"/>
<path d="M195.4 291.8L197.0 288.0L201.2 288.0L202.8 291.8L201.2 295.6L197.0 295.6Z" fill="#08ecf0" stroke="#148c92" stroke-width="0.8"/>
<path d="M233.2 291.8L234.8 288.0L239.0 288.0L240.6 291.8L239.0 295.6L234.8 295.6Z" fill="#08ecf0" stroke="#148c92" stroke-width="0.8"/>
<path d="M242.7 291.8L244.3 288.0L248.5 288.0L250.1 291.8L248.5 295.6L244.3 295.6Z" fill="#08ecf0" stroke="#148c92" stroke-width="0.8"/>
<path d="M308.8 291.8L310.4 288.0L314.6 288.0L316.2 291.8L314.6 295.6L310.4 295.6Z" fill="#08ecf0" stroke="#148c92" stroke-width="0.8"/>
<path d="M365.4 291.8L367.0 288.0L371.2 288.0L372.8 291.8L371.2 295.6L367.0 295.6Z" fill="#08ecf0" stroke="#148c92" stroke-width="0.8"/>
<path d="M374.9 291.8L376.5 288.0L380.7 288.0L382.3 291.8L380.7 295.6L376.5 295.6Z" fill="#08ecf0" stroke="#148c92" stroke-width="0.8"/>
<path d="M384.3 291.8L385.9 288.0L390.1 288.0L391.7 291.8L390.1 295.6L385.9 295.6Z" fill="#08ecf0" stroke="#148c92" stroke-width="0.8"/>
<path d="M393.7 291.8L395.3 288.0L399.5 288.0L401.1 291.8L399.5 295.6L395.3 295.6Z" fill="#08ecf0" stroke="#148c92" stroke-width="0.8"/>
<path d="M403.2 291.8L404.8 288.0L409.0 288.0L410.6 291.8L409.0 295.6L404.8 295.6Z" fill="#08ecf0" stroke="#148c92" stroke-width="0.8"/>
<path d="M412.6 291.8L414.2 288.0L418.4 288.0L420.0 291.8L418.4 295.6L414.2 295.6Z" fill="#08ecf0" stroke="#148c92" stroke-width="0.8"/>
<path d="M422.1 291.8L423.7 288.0L427.9 288.0L429.5 291.8L427.9 295.6L423.7 295.6Z" fill="#08ecf0" stroke="#148c92" stroke-width="0.8"/>
<path d="M469.3 291.8L470.9 288.0L475.1 288.0L476.7 291.8L475.1 295.6L470.9 295.6Z" fill="#08ecf0" stroke="#148c92" stroke-width="0.8"/>
<path d="M488.2 291.8L489.8 288.0L494.0 288.0L495.6 291.8L494.0 295.6L489.8 295.6Z" fill="#08ecf0" stroke="#148c92" stroke-width="0.8"/>
<path d="M497.6 291.8L499.2 288.0L503.4 288.0L505.0 291.8L503.4 295.6L499.2 295.6Z" fill="#08ecf0" stroke="#148c92" stroke-width="0.8"/>
<path d="M525.9 291.8L527.5 288.0L531.8 288.0L533.4 291.8L531.8 295.6L527.5 295.6Z" fill="#08ecf0" stroke="#148c92" stroke-width="0.8"/>
<path d="M119.9 301.2L121.5 297.4L125.7 297.4L127.3 301.2L125.7 305.0L121.5 305.0Z" fill="#08ecf0" stroke="#148c92" stroke-width="0.8"/>
<path d="M233.2 301.2L234.8 297.4L239.0 297.4L240.6 301.2L239.0 305.0L234.8 305.0Z" fill="#08ecf0" stroke="#148c92" stroke-width="0.8"/>
<path d="M252.1 301.2L253.7 297.4L257.9 297.4L259.5 301.2L257.9 305.0L253.7 305.0Z" fill="#08ecf0" stroke="#148c92" stroke-width="0.8"/>
<path d="M346.5 301.2L348.1 297.4L352.3 297.4L353.9 301.2L352.3 305.0L348.1 305.0Z" fill="#08ecf0" stroke="#148c92" stroke-width="0.8"/>
<path d="M393.7 301.2L395.3 297.4L399.5 297.4L401.1 301.2L399.5 305.0L395.3 305.0Z" fill="#08ecf0" stroke="#148c92" stroke-width="0.8"/>
<path d="M431.5 301.2L433.1 297.4L437.3 297.4L438.9 301.2L437.3 305.0L433.1 305.0Z" fill="#08ecf0" stroke="#148c92" stroke-width="0.8"/>
<path d="M525.9 301.2L527.5 297.4L531.8 297.4L533.4 301.2L531.8 305.0L527.5 305.0Z" fill="#08ecf0" stroke="#148c92" stroke-width="0.8"/>
<path d="M129.3 310.6L130.9 306.8L135.1 306.8L136.7 310.6L135.1 314.4L130.9 314.4Z" fill="#08ecf0" stroke="#148c92" stroke-width="0.8"/>
<path d="M242.7 310.6L244.3 306.8L248.5 306.8L250.1 310.6L248.5 314.4L244.3 314.4Z" fill="#08ecf0" stroke="#148c92" stroke-width="0.8"/>
<path d="M252.1 310.6L253.7 306.8L257.9 306.8L259.5 310.6L257.9 314.4L253.7 314.4Z" fill="#08ecf0" stroke="#148c92" stroke-width="0.8"/>
<path d="M289.9 310.6L291.5 306.8L295.7 306.8L297.3 310.6L295.7 314.4L291.5 314.4Z" fill="#08ecf0" stroke="#148c92" stroke-width="0.8"/>
<path d="M299.3 310.6L300.9 306.8L305.1 306.8L306.7 310.6L305.1 314.4L300.9 314.4Z" fill="#08ecf0" stroke="#148c92" stroke-width="0.8"/>
<path d="M346.5 310.6L348.1 306.8L352.3 306.8L353.9 310.6L352.3 314.4L348.1 314.4Z" fill="#08ecf0" stroke="#148c92" stroke-width="0.8"/>
<path d="M441.0 310.6L442.6 306.8L446.8 306.8L448.4 310.6L446.8 314.4L442.6 314.4Z" fill="#08ecf0" stroke="#148c92" stroke-width="0.8"/>
<path d="M450.4 310.6L452.0 306.8L456.2 306.8L457.8 310.6L456.2 314.4L452.0 314.4Z" fill="#08ecf0" stroke="#148c92" stroke-width="0.8"/>
<path d="M459.8 310.6L461.4 306.8L465.6 306.8L467.2 310.6L465.6 314.4L461.4 314.4Z" fill="#08ecf0" stroke="#148c92" stroke-width="0.8"/>
<path d="M82.1 320.0L83.7 316.2L87.9 316.2L89.5 320.0L87.9 323.8L83.7 323.8Z" fill="#08ecf0" stroke="#148c92" stroke-width="0.8"/>
<path d="M299.3 320.0L300.9 316.2L305.1 316.2L306.7 320.0L305.1 323.8L300.9 323.8Z" fill="#08ecf0" stroke="#148c92" stroke-width="0.8"/>
<path d="M308.8 320.0L310.4 316.2L314.6 316.2L316.2 320.0L314.6 323.8L310.4 323.8Z" fill="#08ecf0" stroke="#148c92" stroke-width="0.8"/>
<path d="M412.6 320.0L414.2 316.2L418.4 316.2L420.0 320.0L418.4 323.8L414.2 323.8Z" fill="#08ecf0" stroke="#148c92" stroke-width="0.8"/>
<path d="M488.2 320.0L489.8 316.2L494.0 316.2L495.6 320.0L494.0 323.8L489.8 323.8Z" fill="#08ecf0" stroke="#148c92" stroke-width="0.8"/>
<path d="M497.6 320.0L499.2 316.2L503.4 316.2L505.0 320.0L503.4 323.8L499.2 323.8Z" fill="#08ecf0" stroke="#148c92" stroke-width="0.8"/>
<path d="M507.1 320.0L508.7 316.2L512.9 316.2L514.5 320.0L512.9 323.8L508.7 323.8Z" fill="#08ecf0" stroke="#148c92" stroke-width="0.8"/>
<path d="M157.7 329.5L159.3 325.7L163.5 325.7L165.1 329.5L163.5 333.3L159.3 333.3Z" fill="#08ecf0" stroke="#148c92" stroke-width="0.8"/>
<path d="M167.1 329.5L168.7 325.7L172.9 325.7L174.5 329.5L172.9 333.3L168.7 333.3Z" fill="#08ecf0" stroke="#148c92" stroke-width="0.8"/>
<path d="M195.4 329.5L197.0 325.7L201.2 325.7L202.8 329.5L201.2 333.3L197.0 333.3Z" fill="#08ecf0" stroke="#148c92" stroke-width="0.8"/>
<path d="M214.3 329.5L215.9 325.7L220.1 325.7L221.7 329.5L220.1 333.3L215.9 333.3Z" fill="#08ecf0" stroke="#148c92" stroke-width="0.8"/>
<path d="M233.2 329.5L234.8 325.7L239.0 325.7L240.6 329.5L239.0 333.3L234.8 333.3Z" fill="#08ecf0" stroke="#148c92" stroke-width="0.8"/>
<path d="M261.5 329.5L263.1 325.7L267.3 325.7L268.9 329.5L267.3 333.3L263.1 333.3Z" fill="#08ecf0" stroke="#148c92" stroke-width="0.8"/>
<path d="M356.0 329.5L357.6 325.7L361.8 325.7L363.4 329.5L361.8 333.3L357.6 333.3Z" fill="#08ecf0" stroke="#148c92" stroke-width="0.8"/>
<path d="M393.7 329.5L395.3 325.7L399.5 325.7L401.1 329.5L399.5 333.3L395.3 333.3Z" fill="#08ecf0" stroke="#148c92" stroke-width="0.8"/>
<path d="M422.1 329.5L423.7 325.7L427.9 325.7L429.5 329.5L427.9 333.3L423.7 333.3Z" fill="#08ecf0" stroke="#148c92" stroke-width="0.8"/>
<path d="M459.8 329.5L461.4 325.7L465.6 325.7L467.2 329.5L465.6 333.3L461.4 333.3Z" fill="#08ecf0" stroke="#148c92" stroke-width="0.8"/>
<path d="M507.1 329.5L508.7 325.7L512.9 325.7L514.5 329.5L512.9 333.3L508.7 333.3Z" fill="#08ecf0" stroke="#148c92" stroke-width="0.8"/>
<path d="M148.2 338.9L149.8 335.1L154.0 335.1L155.6 338.9L154.0 342.7L149.8 342.7Z" fill="#08ecf0" stroke="#148c92" stroke-width="0.8"/>
<path d="M157.7 338.9L159.3 335.1L163.5 335.1L165.1 338.9L163.5 342.7L159.3 342.7Z" fill="#08ecf0" stroke="#148c92" stroke-width="0.8"/>
<path d="M186.0 338.9L187.6 335.1L191.8 335.1L193.4 338.9L191.8 342.7L187.6 342.7Z" fill="#08ecf0" stroke="#148c92" stroke-width="0.8"/>
<path d="M195.4 338.9L197.0 335.1L201.2 335.1L202.8 338.9L201.2 342.7L197.0 342.7Z" fill="#08ecf0" stroke="#148c92" stroke-width="0.8"/>
<path d="M204.9 338.9L206.5 335.1L210.7 335.1L212.3 338.9L210.7 342.7L206.5 342.7Z" fill="#08ecf0" stroke="#148c92" stroke-width="0.8"/>
<path d="M214.3 338.9L215.9 335.1L220.1 335.1L221.7 338.9L220.1 342.7L215.9 342.7Z" fill="#08ecf0" stroke="#148c92" stroke-width="0.8"/>
<path d="M308.8 338.9L310.4 335.1L314.6 335.1L316.2 338.9L314.6 342.7L310.4 342.7Z" fill="#08ecf0" stroke="#148c92" stroke-width="0.8"/>
<path d="M327.6 338.9L329.2 335.1L333.4 335.1L335.0 338.9L333.4 342.7L329.2 342.7Z" fill="#08ecf0" stroke="#148c92" stroke-width="0.8"/>
<path d="M441.0 338.9L442.6 335.1L446.8 335.1L448.4 338.9L446.8 342.7L442.6 342.7Z" fill="#08ecf0" stroke="#148c92" stroke-width="0.8"/>
<path d="M478.7 338.9L480.3 335.1L484.5 335.1L486.1 338.9L484.5 342.7L480.3 342.7Z" fill="#08ecf0" stroke="#148c92" stroke-width="0.8"/>
<path d="M72.7 348.3L74.3 344.5L78.5 344.5L80.1 348.3L78.5 352.1L74.3 352.1Z" fill="#08ecf0" stroke="#148c92" stroke-width="0.8"/>
<path d="M138.8 348.3L140.4 344.5L144.6 344.5L146.2 348.3L144.6 352.1L140.4 352.1Z" fill="#08ecf0" stroke="#148c92" stroke-width="0.8"/>
<path d="M148.2 348.3L149.8 344.5L154.0 344.5L155.6 348.3L154.0 352.1L149.8 352.1Z" fill="#08ecf0" stroke="#148c92" stroke-width="0.8"/>
<path d="M157.7 348.3L159.3 344.5L163.5 344.5L165.1 348.3L163.5 352.1L159.3 352.1Z" fill="#08ecf0" stroke="#148c92" stroke-width="0.8"/>
<path d="M280.4 348.3L282.0 344.5L286.2 344.5L287.8 348.3L286.2 352.1L282.0 352.1Z" fill="#08ecf0" stroke="#148c92" stroke-width="0.8"/>
<path d="M422.1 348.3L423.7 344.5L427.9 344.5L429.5 348.3L427.9 352.1L423.7 352.1Z" fill="#08ecf0" stroke="#148c92" stroke-width="0.8"/>
<path d="M469.3 348.3L470.9 344.5L475.1 344.5L476.7 348.3L475.1 352.1L470.9 352.1Z" fill="#08ecf0" stroke="#148c92" stroke-width="0.8"/>
<path d="M525.9 348.3L527.5 344.5L531.8 344.5L533.4 348.3L531.8 352.1L527.5 352.1Z" fill="#08ecf0" stroke="#148c92" stroke-width="0.8"/>
<path d="M63.2 357.7L64.8 353.9L69.0 353.9L70.6 357.7L69.0 361.5L64.8 361.5Z" fill="#08ecf0" stroke="#148c92" stroke-width="0.8"/>
<path d="M129.3 357.7L130.9 353.9L135.1 353.9L136.7 357.7L135.1 361.5L130.9 361.5Z" fill="#08ecf0" stroke="#148c92" stroke-width="0.8"/>
<path d="M138.8 357.7L140.4 353.9L144.6 353.9L146.2 357.7L144.6 361.5L140.4 361.5Z" fill="#08ecf0" stroke="#148c92" stroke-width="0.8"/>
<path d="M148.2 357.7L149.8 353.9L154.0 353.9L155.6 357.7L154.0 361.5L149.8 361.5Z" fill="#08ecf0" stroke="#148c92" stroke-width="0.8"/>
<path d="M157.7 357.7L159.3 353.9L163.5 353.9L165.1 357.7L163.5 361.5L159.3 361.5Z" fill="#08ecf0" stroke="#148c92" stroke-width="0.8"/>
<path d="M261.5 357.7L263.1 353.9L267.3 353.9L268.9 357.7L267.3 361.5L263.1 361.5Z" fill="#08ecf0" stroke="#148c92" stroke-width="0.8"/>
<path d="M271.0 357.7L272.6 353.9L276.8 353.9L278.4 357.7L276.8 361.5L272.6 361.5Z" fill="#08ecf0" stroke="#148c92" stroke-width="0.8"/>
<path d="M280.4 357.7L282.0 353.9L286.2 353.9L287.8 357.7L286.2 361.5L282.0 361.5Z" fill="#08ecf0" stroke="#148c92" stroke-width="0.8"/>
<path d="M374.9 357.7L376.5 353.9L380.7 353.9L382.3 357.7L380.7 361.5L376.5 361.5Z" fill="#08ecf0" stroke="#148c92" stroke-width="0.8"/>
<path d="M384.3 357.7L385.9 353.9L390.1 353.9L391.7 357.7L390.1 361.5L385.9 361.5Z" fill="#08ecf0" stroke="#148c92" stroke-width="0.8"/>
<path d="M469.3 357.7L470.9 353.9L475.1 353.9L476.7 357.7L475.1 361.5L470.9 361.5Z" fill="#08ecf0" stroke="#148c92" stroke-width="0.8"/>
<path d="M488.2 357.7L489.8 353.9L494.0 353.9L495.6 357.7L494.0 361.5L489.8 361.5Z" fill="#08ecf0" stroke="#148c92" stroke-width="0.8"/>
<path d="M516.5 357.7L518.1 353.9L522.3 353.9L523.9 357.7L522.3 361.5L518.1 361.5Z" fill="#08ecf0" stroke="#148c92" stroke-width="0.8"/>
<path d="M261.5 367.2L263.1 363.4L267.3 363.4L268.9 367.2L267.3 371.0L263.1 371.0Z" fill="#08ecf0" stroke="#148c92" stroke-width="0.8"/>
<path d="M271.0 367.2L272.6 363.4L276.8 363.4L278.4 367.2L276.8 371.0L272.6 371.0Z" fill="#08ecf0" stroke="#148c92" stroke-width="0.8"/>
<path d="M280.4 367.2L282.0 363.4L286.2 363.4L287.8 367.2L286.2 371.0L282.0 371.0Z" fill="#08ecf0" stroke="#148c92" stroke-width="0.8"/>
<path d="M318.2 367.2L319.8 363.4L324.0 363.4L325.6 367.2L324.0 371.0L319.8 371.0Z" fill="#08ecf0" stroke="#148c92" stroke-width="0.8"/>
<path d="M327.6 367.2L329.2 363.4L333.4 363.4L335.0 367.2L333.4 371.0L329.2 371.0Z" fill="#08ecf0" stroke="#148c92" stroke-width="0.8"/>
<path d="M384.3 367.2L385.9 363.4L390.1 363.4L391.7 367.2L390.1 371.0L385.9 371.0Z" fill="#08ecf0" stroke="#148c92" stroke-width="0.8"/>
<path d="M393.7 367.2L395.3 363.4L399.5 363.4L401.1 367.2L399.5 371.0L395.3 371.0Z" fill="#08ecf0" stroke="#148c92" stroke-width="0.8"/>
<path d="M469.3 367.2L470.9 363.4L475.1 363.4L476.7 367.2L475.1 371.0L470.9 371.0Z" fill="#08ecf0" stroke="#148c92" stroke-width="0.8"/>
<path d="M478.7 367.2L480.3 363.4L484.5 363.4L486.1 367.2L484.5 371.0L480.3 371.0Z" fill="#08ecf0" stroke="#148c92" stroke-width="0.8"/>
<path d="M488.2 367.2L489.8 363.4L494.0 363.4L495.6 367.2L494.0 371.0L489.8 371.0Z" fill="#08ecf0" stroke="#148c92" stroke-width="0.8"/>
<path d="M422.1 376.6L423.7 372.8L427.9 372.8L429.5 376.6L427.9 380.4L423.7 380.4Z" fill="#08ecf0" stroke="#148c92" stroke-width="0.8"/>
<path d="M299.3 386.0L300.9 382.2L305.1 382.2L306.7 386.0L305.1 389.8L300.9 389.8Z" fill="#08ecf0" stroke="#148c92" stroke-width="0.8"/>
<path d="M374.9 386.0L376.5 382.2L380.7 382.2L382.3 386.0L380.7 389.8L376.5 389.8Z" fill="#08ecf0" stroke="#148c92" stroke-width="0.8"/>
<path d="M525.9 386.0L527.5 382.2L531.8 382.2L533.4 386.0L531.8 389.8L527.5 389.8Z" fill="#08ecf0" stroke="#148c92" stroke-width="0.8"/>
<path d="M91.6 395.4L93.2 391.6L97.4 391.6L99.0 395.4L97.4 399.2L93.2 399.2Z" fill="#08ecf0" stroke="#148c92" stroke-width="0.8"/>
<path d="M365.4 395.4L367.0 391.6L371.2 391.6L372.8 395.4L371.2 399.2L367.0 399.2Z" fill="#08ecf0" stroke="#148c92" stroke-width="0.8"/>
<path d="M384.3 395.4L385.9 391.6L390.1 391.6L391.7 395.4L390.1 399.2L385.9 399.2Z" fill="#08ecf0" stroke="#148c92" stroke-width="0.8"/>
<path d="M422.1 404.9L423.7 401.1L427.9 401.1L429.5 404.9L427.9 408.7L423.7 408.7Z" fill="#08ecf0" stroke="#148c92" stroke-width="0.8"/>
<path d="M478.7 404.9L480.3 401.1L484.5 401.1L486.1 404.9L484.5 408.7L480.3 408.7Z" fill="#08ecf0" stroke="#148c92" stroke-width="0.8"/>
<path d="M403.2 414.3L404.8 410.5L409.0 410.5L410.6 414.3L409.0 418.1L404.8 418.1Z" fill="#08ecf0" stroke="#148c92" stroke-width="0.8"/>
<path d="M412.6 414.3L414.2 410.5L418.4 410.5L420.0 414.3L418.4 418.1L414.2 418.1Z" fill="#08ecf0" stroke="#148c92" stroke-width="0.8"/>
<path d="M488.2 414.3L489.8 410.5L494.0 410.5L495.6 414.3L494.0 418.1L489.8 418.1Z" fill="#08ecf0" stroke="#148c92" stroke-width="0.8"/>
<path d="M345.2 532.9L349.6 528.6L354.0 532.9L349.6 537.2Z" fill="#f6f000" stroke="#b0a830" stroke-width="0.7"/>
<path d="M124.9 552.3L129.3 548.0L133.7 552.3L129.3 556.6Z" fill="#f6f000" stroke="#b0a830" stroke-width="0.7"/>
<path d="M451.0 546.3L455.4 542.0L459.8 546.3L455.4 550.6Z" fill="#f6f000" stroke="#b0a830" stroke-width="0.7"/>
<path d="M499.7 544.5L504.1 540.2L508.5 544.5L504.1 548.8Z" fill="#f6f000" stroke="#b0a830" stroke-width="0.7"/>
<rect x="78.1" y="567.2" width="7.2" height="7.2" fill="#0000ee" stroke="#00009a" stroke-width="0.5"/>
<rect x="346.4" y="567.2" width="7.2" height="7.2" fill="#0000ee" stroke="#00009a" stroke-width="0.5"/>
<rect x="413.5" y="567.2" width="7.2" height="7.2" fill="#0000ee" stroke="#00009a" stroke-width="0.5"/>
<rect x="164.3" y="576.8" width="7.2" height="7.2" fill="#0000ee" stroke="#00009a" stroke-width="0.5"/>
<rect x="183.5" y="576.8" width="7.2" height="7.2" fill="#0000ee" stroke="#00009a" stroke-width="0.5"/>
<rect x="231.4" y="576.8" width="7.2" height="7.2" fill="#0000ee" stroke="#00009a" stroke-width="0.5"/>
<rect x="260.2" y="576.8" width="7.2" height="7.2" fill="#0000ee" stroke="#00009a" stroke-width="0.5"/>
<rect x="365.6" y="576.8" width="7.2" height="7.2" fill="#0000ee" stroke="#00009a" stroke-width="0.5"/>
<rect x="528.6" y="576.8" width="7.2" height="7.2" fill="#0000ee" stroke="#00009a" stroke-width="0.5"/>
<rect x="509.3" y="568.4" width="7.2" height="7.2" fill="#0000ee" stroke="#00009a" stroke-width="0.5"/>
<circle cx="72.1" cy="599.5" r="3.6" fill="#f03232" stroke="#b42222" stroke-width="0.6"/>
<circle cx="235.0" cy="599.5" r="3.6" fill="#f03232" stroke="#b42222" stroke-width="0.6"/>
<circle cx="330.9" cy="599.5" r="3.6" fill="#f03232" stroke="#b42222" stroke-width="0.6"/>
<circle cx="484.2" cy="599.5" r="3.6" fill="#f03232" stroke="#b42222" stroke-width="0.6"/>
<circle cx="503.4" cy="599.5" r="3.6" fill="#f03232" stroke="#b42222" stroke-width="0.6"/>
<circle cx="177.5" cy="609.1" r="3.6" fill="#f03232" stroke="#b42222" stroke-width="0.6"/>
<circle cx="206.3" cy="609.1" r="3.6" fill="#f03232" stroke="#b42222" stroke-width="0.6"/>
<circle cx="292.5" cy="609.1" r="3.6" fill="#f03232" stroke="#b42222" stroke-width="0.6"/>
<circle cx="398.0" cy="609.1" r="3.6" fill="#f03232" stroke="#b42222" stroke-width="0.6"/>
<circle cx="426.7" cy="609.1" r="3.6" fill="#f03232" stroke="#b42222" stroke-width="0.6"/>
<circle cx="484.2" cy="609.1" r="3.6" fill="#f03232" stroke="#b42222" stroke-width="0.6"/>
<circle cx="513.0" cy="609.1" r="3.6" fill="#f03232" stroke="#b42222" stroke-width="0.6"/>
<circle cx="139.2" cy="618.7" r="3.6" fill="#f03232" stroke="#b42222" stroke-width="0.6"/>
<circle cx="206.3" cy="618.7" r="3.6" fill="#f03232" stroke="#b42222" stroke-width="0.6"/>
<circle cx="282.9" cy="618.7" r="3.6" fill="#f03232" stroke="#b42222" stroke-width="0.6"/>
<circle cx="311.7" cy="618.7" r="3.6" fill="#f03232" stroke="#b42222" stroke-width="0.6"/>
<circle cx="321.3" cy="618.7" r="3.6" fill="#f03232" stroke="#b42222" stroke-width="0.6"/>
<circle cx="378.8" cy="618.7" r="3.6" fill="#f03232" stroke="#b42222" stroke-width="0.6"/>
<circle cx="398.0" cy="618.7" r="3.6" fill="#f03232" stroke="#b42222" stroke-width="0.6"/>
<circle cx="474.6" cy="618.7" r="3.6" fill="#f03232" stroke="#b42222" stroke-width="0.6"/>
<circle cx="62.5" cy="628.3" r="3.6" fill="#f03232" stroke="#b42222" stroke-width="0.6"/>
<circle cx="72.1" cy="628.3" r="3.6" fill="#f03232" stroke="#b42222" stroke-width="0.6"/>
<circle cx="110.4" cy="628.3" r="3.6" fill="#f03232" stroke="#b42222" stroke-width="0.6"/>
<circle cx="120.0" cy="628.3" r="3.6" fill="#f03232" stroke="#b42222" stroke-width="0.6"/>
<circle cx="129.6" cy="628.3" r="3.6" fill="#f03232" stroke="#b42222" stroke-width="0.6"/>
<circle cx="330.9" cy="628.3" r="3.6" fill="#f03232" stroke="#b42222" stroke-width="0.6"/>
<circle cx="378.8" cy="628.3" r="3.6" fill="#f03232" stroke="#b42222" stroke-width="0.6"/>
<circle cx="407.5" cy="628.3" r="3.6" fill="#f03232" stroke="#b42222" stroke-width="0.6"/>
<circle cx="445.9" cy="628.3" r="3.6" fill="#f03232" stroke="#b42222" stroke-width="0.6"/>
<circle cx="474.6" cy="628.3" r="3.6" fill="#f03232" stroke="#b42222" stroke-width="0.6"/>
<circle cx="484.2" cy="628.3" r="3.6" fill="#f03232" stroke="#b42222" stroke-width="0.6"/>
<circle cx="100.8" cy="637.9" r="3.6" fill="#f03232" stroke="#b42222" stroke-width="0.6"/>
<circle cx="148.8" cy="637.9" r="3.6" fill="#f03232" stroke="#b42222" stroke-width="0.6"/>
<circle cx="196.7" cy="637.9" r="3.6" fill="#f03232" stroke="#b42222" stroke-width="0.6"/>
<circle cx="225.4" cy="637.9" r="3.6" fill="#f03232" stroke="#b42222" stroke-width="0.6"/>
<circle cx="330.9" cy="637.9" r="3.6" fill="#f03232" stroke="#b42222" stroke-width="0.6"/>
<circle cx="340.4" cy="637.9" r="3.6" fill="#f03232" stroke="#b42222" stroke-width="0.6"/>
<circle cx="350.0" cy="637.9" r="3.6" fill="#f03232" stroke="#b42222" stroke-width="0.6"/>
<circle cx="359.6" cy="637.9" r="3.6" fill="#f03232" stroke="#b42222" stroke-width="0.6"/>
<circle cx="417.1" cy="637.9" r="3.6" fill="#f03232" stroke="#b42222" stroke-width="0.6"/>
<circle cx="436.3" cy="637.9" r="3.6" fill="#f03232" stroke="#b42222" stroke-width="0.6"/>
<circle cx="445.9" cy="637.9" r="3.6" fill="#f03232" stroke="#b42222" stroke-width="0.6"/>
<circle cx="455.5" cy="637.9" r="3.6" fill="#f03232" stroke="#b42222" stroke-width="0.6"/>
<circle cx="484.2" cy="637.9" r="3.6" fill="#f03232" stroke="#b42222" stroke-width="0.6"/>
<circle cx="62.5" cy="647.5" r="3.6" fill="#f03232" stroke="#b42222" stroke-width="0.6"/>
<circle cx="81.7" cy="647.5" r="3.6" fill="#f03232" stroke="#b42222" stroke-width="0.6"/>
<circle cx="91.2" cy="647.5" r="3.6" fill="#f03232" stroke="#b42222" stroke-width="0.6"/>
<circle cx="187.1" cy="647.5" r="3.6" fill="#f03232" stroke="#b42222" stroke-width="0.6"/>
<circle cx="225.4" cy="647.5" r="3.6" fill="#f03232" stroke="#b42222" stroke-width="0.6"/>
<circle cx="302.1" cy="647.5" r="3.6" fill="#f03232" stroke="#b42222" stroke-width="0.6"/>
<circle cx="350.0" cy="647.5" r="3.6" fill="#f03232" stroke="#b42222" stroke-width="0.6"/>
<circle cx="359.6" cy="647.5" r="3.6" fill="#f03232" stroke="#b42222" stroke-width="0.6"/>
<circle cx="378.8" cy="647.5" r="3.6" fill="#f03232" stroke="#b42222" stroke-width="0.6"/>
<circle cx="388.4" cy="647.5" r="3.6" fill="#f03232" stroke="#b42222" stroke-width="0.6"/>
<circle cx="398.0" cy="647.5" r="3.6" fill="#f03232" stroke="#b42222" stroke-width="0.6"/>
<circle cx="407.5" cy="647.5" r="3.6" fill="#f03232" stroke="#b42222" stroke-width="0.6"/>
<circle cx="426.7" cy="647.5" r="3.6" fill="#f03232" stroke="#b42222" stroke-width="0.6"/>
<circle cx="436.3" cy="647.5" r="3.6" fill="#f03232" stroke="#b42222" stroke-width="0.6"/>
<circle cx="445.9" cy="647.5" r="3.6" fill="#f03232" stroke="#b42222" stroke-width="0.6"/>
<circle cx="455.5" cy="647.5" r="3.6" fill="#f03232" stroke="#b42222" stroke-width="0.6"/>
<circle cx="465.1" cy="647.5" r="3.6" fill="#f03232" stroke="#b42222" stroke-width="0.6"/>
<circle cx="474.6" cy="647.5" r="3.6" fill="#f03232" stroke="#b42222" stroke-width="0.6"/>
<circle cx="513.0" cy="647.5" r="3.6" fill="#f03232" stroke="#b42222" stroke-width="0.6"/>
<circle cx="522.6" cy="647.5" r="3.6" fill="#f03232" stroke="#b42222" stroke-width="0.6"/>
<circle cx="453.3" cy="598.3" r="3.6" fill="#f03232" stroke="#b42222" stroke-width="0.6"/>
<path d="M135.4 670.6L139.2 663.8L143.0 670.6Z" fill="#1ede1e" stroke="#149414" stroke-width="0.6"/>
<path d="M260.0 670.6L263.8 663.8L267.6 670.6Z" fill="#1ede1e" stroke="#149414" stroke-width="0.6"/>
<path d="M269.6 670.6L273.4 663.8L277.2 670.6Z" fill="#1ede1e" stroke="#149414" stroke-width="0.6"/>
<path d="M317.5 670.6L321.3 663.8L325.1 670.6Z" fill="#1ede1e" stroke="#149414" stroke-width="0.6"/>
<path d="M403.7 670.6L407.5 663.8L411.3 670.6Z" fill="#1ede1e" stroke="#149414" stroke-width="0.6"/>
<path d="M490.0 670.6L493.8 663.8L497.6 670.6Z" fill="#1ede1e" stroke="#149414" stroke-width="0.6"/>
<path d="M97.0 680.1L100.8 673.4L104.6 680.1Z" fill="#1ede1e" stroke="#149414" stroke-width="0.6"/>
<path d="M135.4 680.1L139.2 673.4L143.0 680.1Z" fill="#1ede1e" stroke="#149414" stroke-width="0.6"/>
<path d="M144.9 680.1L148.8 673.4L152.6 680.1Z" fill="#1ede1e" stroke="#149414" stroke-width="0.6"/>
<path d="M154.5 680.1L158.3 673.4L162.1 680.1Z" fill="#1ede1e" stroke="#149414" stroke-width="0.6"/>
<path d="M192.9 680.1L196.7 673.4L200.5 680.1Z" fill="#1ede1e" stroke="#149414" stroke-width="0.6"/>
<path d="M260.0 680.1L263.8 673.4L267.6 680.1Z" fill="#1ede1e" stroke="#149414" stroke-width="0.6"/>
<path d="M365.4 680.1L369.2 673.4L373.0 680.1Z" fill="#1ede1e" stroke="#149414" stroke-width="0.6"/>
<path d="M384.6 680.1L388.4 673.4L392.2 680.1Z" fill="#1ede1e" stroke="#149414" stroke-width="0.6"/>
<path d="M432.5 680.1L436.3 673.4L440.1 680.1Z" fill="#1ede1e" stroke="#149414" stroke-width="0.6"/>
<path d="M499.6 680.1L503.4 673.4L507.2 680.1Z" fill="#1ede1e" stroke="#149414" stroke-width="0.6"/>
<path d="M518.8 680.1L522.6 673.4L526.4 680.1Z" fill="#1ede1e" stroke="#149414" stroke-width="0.6"/>
<path d="M135.4 689.7L139.2 682.9L143.0 689.7Z" fill="#1ede1e" stroke="#149414" stroke-width="0.6"/>
<path d="M144.9 689.7L148.8 682.9L152.6 689.7Z" fill="#1ede1e" stroke="#149414" stroke-width="0.6"/>
<path d="M164.1 689.7L167.9 682.9L171.7 689.7Z" fill="#1ede1e" stroke="#149414" stroke-width="0.6"/>
<path d="M355.8 689.7L359.6 682.9L363.4 689.7Z" fill="#1ede1e" stroke="#149414" stroke-width="0.6"/>
<path d="M375.0 689.7L378.8 682.9L382.6 689.7Z" fill="#1ede1e" stroke="#149414" stroke-width="0.6"/>
<path d="M442.1 689.7L445.9 682.9L449.7 689.7Z" fill="#1ede1e" stroke="#149414" stroke-width="0.6"/>
<path d="M202.5 699.3L206.3 692.5L210.1 699.3Z" fill="#1ede1e" stroke="#149414" stroke-width="0.6"/>
<path d="M298.3 699.3L302.1 692.5L305.9 699.3Z" fill="#1ede1e" stroke="#149414" stroke-width="0.6"/>
<path d="M307.9 699.3L311.7 692.5L315.5 699.3Z" fill="#1ede1e" stroke="#149414" stroke-width="0.6"/>
<path d="M346.2 699.3L350.0 692.5L353.8 699.3Z" fill="#1ede1e" stroke="#149414" stroke-width="0.6"/>
<path d="M355.8 699.3L359.6 692.5L363.4 699.3Z" fill="#1ede1e" stroke="#149414" stroke-width="0.6"/>
<path d="M422.9 699.3L426.7 692.5L430.5 699.3Z" fill="#1ede1e" stroke="#149414" stroke-width="0.6"/>
<path d="M432.5 699.3L436.3 692.5L440.1 699.3Z" fill="#1ede1e" stroke="#149414" stroke-width="0.6"/>
<path d="M58.7 708.9L62.5 702.1L66.3 708.9Z" fill="#1ede1e" stroke="#149414" stroke-width="0.6"/>
<path d="M164.1 708.9L167.9 702.1L171.7 708.9Z" fill="#1ede1e" stroke="#149414" stroke-width="0.6"/>
<path d="M192.9 708.9L196.7 702.1L200.5 708.9Z" fill="#1ede1e" stroke="#149414" stroke-width="0.6"/>
<path d="M221.6 708.9L225.4 702.1L229.2 708.9Z" fill="#1ede1e" stroke="#149414" stroke-width="0.6"/>
<path d="M260.0 708.9L263.8 702.1L267.6 708.9Z" fill="#1ede1e" stroke="#149414" stroke-width="0.6"/>
<path d="M269.6 708.9L273.4 702.1L277.2 708.9Z" fill="#1ede1e" stroke="#149414" stroke-width="0.6"/>
<path d="M307.9 708.9L311.7 702.1L315.5 708.9Z" fill="#1ede1e" stroke="#149414" stroke-width="0.6"/>
<path d="M394.2 708.9L398.0 702.1L401.8 708.9Z" fill="#1ede1e" stroke="#149414" stroke-width="0.6"/>
<path d="M403.7 708.9L407.5 702.1L411.3 708.9Z" fill="#1ede1e" stroke="#149414" stroke-width="0.6"/>
<path d="M422.9 708.9L426.7 702.1L430.5 708.9Z" fill="#1ede1e" stroke="#149414" stroke-width="0.6"/>
<path d="M461.3 708.9L465.1 702.1L468.9 708.9Z" fill="#1ede1e" stroke="#149414" stroke-width="0.6"/>
<path d="M509.2 708.9L513.0 702.1L516.8 708.9Z" fill="#1ede1e" stroke="#149414" stroke-width="0.6"/>
<path d="M518.8 708.9L522.6 702.1L526.4 708.9Z" fill="#1ede1e" stroke="#149414" stroke-width="0.6"/>
<path d="M106.6 718.5L110.4 711.7L114.2 718.5Z" fill="#1ede1e" stroke="#149414" stroke-width="0.6"/>
<path d="M144.9 718.5L148.8 711.7L152.6 718.5Z" fill="#1ede1e" stroke="#149414" stroke-width="0.6"/>
<path d="M240.8 718.5L244.6 711.7L248.4 718.5Z" fill="#1ede1e" stroke="#149414" stroke-width="0.6"/>
<path d="M384.6 718.5L388.4 711.7L392.2 718.5Z" fill="#1ede1e" stroke="#149414" stroke-width="0.6"/>
<path d="M403.7 718.5L407.5 711.7L411.3 718.5Z" fill="#1ede1e" stroke="#149414" stroke-width="0.6"/>
<path d="M509.2 718.5L513.0 711.7L516.8 718.5Z" fill="#1ede1e" stroke="#149414" stroke-width="0.6"/>
<path d="M106.6 728.1L110.4 721.3L114.2 728.1Z" fill="#1ede1e" stroke="#149414" stroke-width="0.6"/>
<path d="M116.2 728.1L120.0 721.3L123.8 728.1Z" fill="#1ede1e" stroke="#149414" stroke-width="0.6"/>
<path d="M135.4 728.1L139.2 721.3L143.0 728.1Z" fill="#1ede1e" stroke="#149414" stroke-width="0.6"/>
<path d="M144.9 728.1L148.8 721.3L152.6 728.1Z" fill="#1ede1e" stroke="#149414" stroke-width="0.6"/>
<path d="M164.1 728.1L167.9 721.3L171.7 728.1Z" fill="#1ede1e" stroke="#149414" stroke-width="0.6"/>
<path d="M173.7 728.1L177.5 721.3L181.3 728.1Z" fill="#1ede1e" stroke="#149414" stroke-width="0.6"/>
<path d="M192.9 728.1L196.7 721.3L200.5 728.1Z" fill="#1ede1e" stroke="#149414" stroke-width="0.6"/>
<path d="M240.8 728.1L244.6 721.3L248.4 728.1Z" fill="#1ede1e" stroke="#149414" stroke-width="0.6"/>
<path d="M336.6 728.1L340.4 721.3L344.2 728.1Z" fill="#1ede1e" stroke="#149414" stroke-width="0.6"/>
<path d="M375.0 728.1L378.8 721.3L382.6 728.1Z" fill="#1ede1e" stroke="#149414" stroke-width="0.6"/>
<path d="M413.3 728.1L417.1 721.3L420.9 728.1Z" fill="#1ede1e" stroke="#149414" stroke-width="0.6"/>
<path d="M442.1 728.1L445.9 721.3L449.7 728.1Z" fill="#1ede1e" stroke="#149414" stroke-width="0.6"/>
<path d="M461.3 728.1L465.1 721.3L468.9 728.1Z" fill="#1ede1e" stroke="#149414" stroke-width="0.6"/>
<path d="M58.7 737.7L62.5 730.9L66.3 737.7Z" fill="#1ede1e" stroke="#149414" stroke-width="0.6"/>
<path d="M68.3 737.7L72.1 730.9L75.9 737.7Z" fill="#1ede1e" stroke="#149414" stroke-width="0.6"/>
<path d="M87.4 737.7L91.2 730.9L95.0 737.7Z" fill="#1ede1e" stroke="#149414" stroke-width="0.6"/>
<path d="M106.6 737.7L110.4 730.9L114.2 737.7Z" fill="#1ede1e" stroke="#149414" stroke-width="0.6"/>
<path d="M116.2 737.7L120.0 730.9L123.8 737.7Z" fill="#1ede1e" stroke="#149414" stroke-width="0.6"/>
<path d="M125.8 737.7L129.6 730.9L133.4 737.7Z" fill="#1ede1e" stroke="#149414" stroke-width="0.6"/>
<path d="M144.9 737.7L148.8 730.9L152.6 737.7Z" fill="#1ede1e" stroke="#149414" stroke-width="0.6"/>
<path d="M154.5 737.7L158.3 730.9L162.1 737.7Z" fill="#1ede1e" stroke="#149414" stroke-width="0.6"/>
<path d="M212.0 737.7L215.8 730.9L219.6 737.7Z" fill="#1ede1e" stroke="#149414" stroke-width="0.6"/>
<path d="M231.2 737.7L235.0 730.9L238.8 737.7Z" fill="#1ede1e" stroke="#149414" stroke-width="0.6"/>
<path d="M250.4 737.7L254.2 730.9L258.0 737.7Z" fill="#1ede1e" stroke="#149414" stroke-width="0.6"/>
<path d="M269.6 737.7L273.4 730.9L277.2 737.7Z" fill="#1ede1e" stroke="#149414" stroke-width="0.6"/>
<path d="M288.7 737.7L292.5 730.9L296.3 737.7Z" fill="#1ede1e" stroke="#149414" stroke-width="0.6"/>
<path d="M336.6 737.7L340.4 730.9L344.2 737.7Z" fill="#1ede1e" stroke="#149414" stroke-width="0.6"/>
<path d="M346.2 737.7L350.0 730.9L353.8 737.7Z" fill="#1ede1e" stroke="#149414" stroke-width="0.6"/>
<path d="M355.8 737.7L359.6 730.9L363.4 737.7Z" fill="#1ede1e" stroke="#149414" stroke-width="0.6"/>
<path d="M375.0 737.7L378.8 730.9L382.6 737.7Z" fill="#1ede1e" stroke="#149414" stroke-width="0.6"/>
<path d="M432.5 737.7L436.3 730.9L440.1 737.7Z" fill="#1ede1e" stroke="#149414" stroke-width="0.6"/>
<path d="M442.1 737.7L445.9 730.9L449.7 737.7Z" fill="#1ede1e" stroke="#149414" stroke-width="0.6"/>
<path d="M451.7 737.7L455.5 730.9L459.3 737.7Z" fill="#1ede1e" stroke="#149414" stroke-width="0.6"/>
<path d="M461.3 737.7L465.1 730.9L468.9 737.7Z" fill="#1ede1e" stroke="#149414" stroke-width="0.6"/>
<path d="M480.4 737.7L484.2 730.9L488.0 737.7Z" fill="#1ede1e" stroke="#149414" stroke-width="0.6"/>
<path d="M499.6 737.7L503.4 730.9L507.2 737.7Z" fill="#1ede1e" stroke="#149414" stroke-width="0.6"/>
<path d="M509.2 737.7L513.0 730.9L516.8 737.7Z" fill="#1ede1e" stroke="#149414" stroke-width="0.6"/>
<path d="M518.8 737.7L522.6 730.9L526.4 737.7Z" fill="#1ede1e" stroke="#149414" stroke-width="0.6"/>
<path d="M528.4 737.7L532.2 730.9L536.0 737.7Z" fill="#1ede1e" stroke="#149414" stroke-width="0.6"/>
<path d="M87.5 753.0L89.1 749.2L93.3 749.2L94.9 753.0L93.3 756.8L89.1 756.8Z" fill="#08ecf0" stroke="#148c92" stroke-width="0.8"/>
<path d="M97.1 753.0L98.7 749.2L102.9 749.2L104.5 753.0L102.9 756.8L98.7 756.8Z" fill="#08ecf0" stroke="#148c92" stroke-width="0.8"/>
<path d="M106.7 753.0L108.3 749.2L112.5 749.2L114.1 753.0L112.5 756.8L108.3 756.8Z" fill="#08ecf0" stroke="#148c92" stroke-width="0.8"/>
<path d="M116.3 753.0L117.9 749.2L122.1 749.2L123.7 753.0L122.1 756.8L117.9 756.8Z" fill="#08ecf0" stroke="#148c92" stroke-width="0.8"/>
<path d="M145.1 753.0L146.7 749.2L150.8 749.2L152.4 753.0L150.8 756.8L146.7 756.8Z" fill="#08ecf0" stroke="#148c92" stroke-width="0.8"/>
<path d="M154.6 753.0L156.2 749.2L160.4 749.2L162.0 753.0L160.4 756.8L156.2 756.8Z" fill="#08ecf0" stroke="#148c92" stroke-width="0.8"/>
<path d="M164.2 753.0L165.8 749.2L170.0 749.2L171.6 753.0L170.0 756.8L165.8 756.8Z" fill="#08ecf0" stroke="#148c92" stroke-width="0.8"/>
<path d="M173.8 753.0L175.4 749.2L179.6 749.2L181.2 753.0L179.6 756.8L175.4 756.8Z" fill="#08ecf0" stroke="#148c92" stroke-width="0.8"/>
<path d="M250.5 753.0L252.1 749.2L256.3 749.2L257.9 753.0L256.3 756.8L252.1 756.8Z" fill="#08ecf0" stroke="#148c92" stroke-width="0.8"/>
<path d="M260.1 753.0L261.7 749.2L265.9 749.2L267.5 753.0L265.9 756.8L261.7 756.8Z" fill="#08ecf0" stroke="#148c92" stroke-width="0.8"/>
<path d="M269.7 753.0L271.3 749.2L275.5 749.2L277.1 753.0L275.5 756.8L271.3 756.8Z" fill="#08ecf0" stroke="#148c92" stroke-width="0.8"/>
<path d="M288.8 753.0L290.4 749.2L294.6 749.2L296.2 753.0L294.6 756.8L290.4 756.8Z" fill="#08ecf0" stroke="#148c92" stroke-width="0.8"/>
<path d="M308.0 753.0L309.6 749.2L313.8 749.2L315.4 753.0L313.8 756.8L309.6 756.8Z" fill="#08ecf0" stroke="#148c92" stroke-width="0.8"/>
<path d="M336.8 753.0L338.3 749.2L342.6 749.2L344.1 753.0L342.6 756.8L338.3 756.8Z" fill="#08ecf0" stroke="#148c92" stroke-width="0.8"/>
<path d="M355.9 753.0L357.5 749.2L361.7 749.2L363.3 753.0L361.7 756.8L357.5 756.8Z" fill="#08ecf0" stroke="#148c92" stroke-width="0.8"/>
<path d="M403.8 753.0L405.4 749.2L409.6 749.2L411.2 753.0L409.6 756.8L405.4 756.8Z" fill="#08ecf0" stroke="#148c92" stroke-width="0.8"/>
<path d="M413.4 753.0L415.0 749.2L419.2 749.2L420.8 753.0L419.2 756.8L415.0 756.8Z" fill="#08ecf0" stroke="#148c92" stroke-width="0.8"/>
<path d="M423.0 753.0L424.6 749.2L428.8 749.2L430.4 753.0L428.8 756.8L424.6 756.8Z" fill="#08ecf0" stroke="#148c92" stroke-width="0.8"/>
<path d="M470.9 753.0L472.5 749.2L476.7 749.2L478.3 753.0L476.7 756.8L472.5 756.8Z" fill="#08ecf0" stroke="#148c92" stroke-width="0.8"/>
<path d="M490.1 753.0L491.7 749.2L495.9 749.2L497.5 753.0L495.9 756.8L491.7 756.8Z" fill="#08ecf0" stroke="#148c92" stroke-width="0.8"/>
<path d="M58.8 762.6L60.4 758.8L64.6 758.8L66.2 762.6L64.6 766.4L60.4 766.4Z" fill="#08ecf0" stroke="#148c92" stroke-width="0.8"/>
<path d="M78.0 762.6L79.6 758.8L83.8 758.8L85.4 762.6L83.8 766.4L79.6 766.4Z" fill="#08ecf0" stroke="#148c92" stroke-width="0.8"/>
<path d="M87.5 762.6L89.1 758.8L93.3 758.8L94.9 762.6L93.3 766.4L89.1 766.4Z" fill="#08ecf0" stroke="#148c92" stroke-width="0.8"/>
<path d="M97.1 762.6L98.7 758.8L102.9 758.8L104.5 762.6L102.9 766.4L98.7 766.4Z" fill="#08ecf0" stroke="#148c92" stroke-width="0.8"/>
<path d="M116.3 762.6L117.9 758.8L122.1 758.8L123.7 762.6L122.1 766.4L117.9 766.4Z" fill="#08ecf0" stroke="#148c92" stroke-width="0.8"/>
<path d="M135.5 762.6L137.1 758.8L141.3 758.8L142.9 762.6L141.3 766.4L137.1 766.4Z" fill="#08ecf0" stroke="#148c92" stroke-width="0.8"/>
<path d="M145.1 762.6L146.7 758.8L150.8 758.8L152.4 762.6L150.8 766.4L146.7 766.4Z" fill="#08ecf0" stroke="#148c92" stroke-width="0.8"/>
<path d="M183.4 762.6L185.0 758.8L189.2 758.8L190.8 762.6L189.2 766.4L185.0 766.4Z" fill="#08ecf0" stroke="#148c92" stroke-width="0.8"/>
<path d="M202.6 762.6L204.2 758.8L208.4 758.8L210.0 762.6L208.4 766.4L204.2 766.4Z" fill="#08ecf0" stroke="#148c92" stroke-width="0.8"/>
<path d="M250.5 762.6L252.1 758.8L256.3 758.8L257.9 762.6L256.3 766.4L252.1 766.4Z" fill="#08ecf0" stroke="#148c92" stroke-width="0.8"/>
<path d="M279.2 762.6L280.8 758.8L285.0 758.8L286.6 762.6L285.0 766.4L280.8 766.4Z" fill="#08ecf0" stroke="#148c92" stroke-width="0.8"/>
<path d="M288.8 762.6L290.4 758.8L294.6 758.8L296.2 762.6L294.6 766.4L290.4 766.4Z" fill="#08ecf0" stroke="#148c92" stroke-width="0.8"/>
<path d="M308.0 762.6L309.6 758.8L313.8 758.8L315.4 762.6L313.8 766.4L309.6 766.4Z" fill="#08ecf0" stroke="#148c92" stroke-width="0.8"/>
<path d="M327.2 762.6L328.8 758.8L333.0 758.8L334.6 762.6L333.0 766.4L328.8 766.4Z" fill="#08ecf0" stroke="#148c92" stroke-width="0.8"/>
<path d="M346.3 762.6L347.9 758.8L352.1 758.8L353.7 762.6L352.1 766.4L347.9 766.4Z" fill="#08ecf0" stroke="#148c92" stroke-width="0.8"/>
<path d="M355.9 762.6L357.5 758.8L361.7 758.8L363.3 762.6L361.7 766.4L357.5 766.4Z" fill="#08ecf0" stroke="#148c92" stroke-width="0.8"/>
<path d="M394.3 762.6L395.9 758.8L400.1 758.8L401.7 762.6L400.1 766.4L395.9 766.4Z" fill="#08ecf0" stroke="#148c92" stroke-width="0.8"/>
<path d="M403.8 762.6L405.4 758.8L409.6 758.8L411.2 762.6L409.6 766.4L405.4 766.4Z" fill="#08ecf0" stroke="#148c92" stroke-width="0.8"/>
<path d="M413.4 762.6L415.0 758.8L419.2 758.8L420.8 762.6L419.2 766.4L415.0 766.4Z" fill="#08ecf0" stroke="#148c92" stroke-width="0.8"/>
<path d="M432.6 762.6L434.2 758.8L438.4 758.8L440.0 762.6L438.4 766.4L434.2 766.4Z" fill="#08ecf0" stroke="#148c92" stroke-width="0.8"/>
<path d="M461.4 762.6L463.0 758.8L467.2 758.8L468.8 762.6L467.2 766.4L463.0 766.4Z" fill="#08ecf0" stroke="#148c92" stroke-width="0.8"/>
<path d="M470.9 762.6L472.5 758.8L476.7 758.8L478.3 762.6L476.7 766.4L472.5 766.4Z" fill="#08ecf0" stroke="#148c92" stroke-width="0.8"/>
<path d="M480.5 762.6L482.1 758.8L486.3 758.8L487.9 762.6L486.3 766.4L482.1 766.4Z" fill="#08ecf0" stroke="#148c92" stroke-width="0.8"/>
<path d="M499.7 762.6L501.3 758.8L505.5 758.8L507.1 762.6L505.5 766.4L501.3 766.4Z" fill="#08ecf0" stroke="#148c92" stroke-width="0.8"/>
<path d="M509.3 762.6L510.9 758.8L515.1 758.8L516.7 762.6L515.1 766.4L510.9 766.4Z" fill="#08ecf0" stroke="#148c92" stroke-width="0.8"/>
<path d="M518.9 762.6L520.5 758.8L524.7 758.8L526.3 762.6L524.7 766.4L520.5 766.4Z" fill="#08ecf0" stroke="#148c92" stroke-width="0.8"/>
<path d="M528.5 762.6L530.1 758.8L534.3 758.8L535.9 762.6L534.3 766.4L530.1 766.4Z" fill="#08ecf0" stroke="#148c92" stroke-width="0.8"/>
<path d="M58.8 772.1L60.4 768.4L64.6 768.4L66.2 772.1L64.6 775.9L60.4 775.9Z" fill="#08ecf0" stroke="#148c92" stroke-width="0.8"/>
<path d="M135.5 772.1L137.1 768.4L141.3 768.4L142.9 772.1L141.3 775.9L137.1 775.9Z" fill="#08ecf0" stroke="#148c92" stroke-width="0.8"/>
<path d="M202.6 772.1L204.2 768.4L208.4 768.4L210.0 772.1L208.4 775.9L204.2 775.9Z" fill="#08ecf0" stroke="#148c92" stroke-width="0.8"/>
<path d="M221.7 772.1L223.3 768.4L227.5 768.4L229.1 772.1L227.5 775.9L223.3 775.9Z" fill="#08ecf0" stroke="#148c92" stroke-width="0.8"/>
<path d="M365.5 772.1L367.1 768.4L371.3 768.4L372.9 772.1L371.3 775.9L367.1 775.9Z" fill="#08ecf0" stroke="#148c92" stroke-width="0.8"/>
<path d="M413.4 772.1L415.0 768.4L419.2 768.4L420.8 772.1L419.2 775.9L415.0 775.9Z" fill="#08ecf0" stroke="#148c92" stroke-width="0.8"/>
<path d="M480.5 772.1L482.1 768.4L486.3 768.4L487.9 772.1L486.3 775.9L482.1 775.9Z" fill="#08ecf0" stroke="#148c92" stroke-width="0.8"/>
<path d="M58.8 781.7L60.4 777.9L64.6 777.9L66.2 781.7L64.6 785.5L60.4 785.5Z" fill="#08ecf0" stroke="#148c92" stroke-width="0.8"/>
<path d="M78.0 781.7L79.6 777.9L83.8 777.9L85.4 781.7L83.8 785.5L79.6 785.5Z" fill="#08ecf0" stroke="#148c92" stroke-width="0.8"/>
<path d="M87.5 781.7L89.1 777.9L93.3 777.9L94.9 781.7L93.3 785.5L89.1 785.5Z" fill="#08ecf0" stroke="#148c92" stroke-width="0.8"/>
<path d="M106.7 781.7L108.3 777.9L112.5 777.9L114.1 781.7L112.5 785.5L108.3 785.5Z" fill="#08ecf0" stroke="#148c92" stroke-width="0.8"/>
<path d="M154.6 781.7L156.2 777.9L160.4 777.9L162.0 781.7L160.4 785.5L156.2 785.5Z" fill="#08ecf0" stroke="#148c92" stroke-width="0.8"/>
<path d="M164.2 781.7L165.8 777.9L170.0 777.9L171.6 781.7L170.0 785.5L165.8 785.5Z" fill="#08ecf0" stroke="#148c92" stroke-width="0.8"/>
<path d="M183.4 781.7L185.0 777.9L189.2 777.9L190.8 781.7L189.2 785.5L185.0 785.5Z" fill="#08ecf0" stroke="#148c92" stroke-width="0.8"/>
<path d="M240.9 781.7L242.5 777.9L246.7 777.9L248.3 781.7L246.7 785.5L242.5 785.5Z" fill="#08ecf0" stroke="#148c92" stroke-width="0.8"/>
<path d="M279.2 781.7L280.8 777.9L285.0 777.9L286.6 781.7L285.0 785.5L280.8 785.5Z" fill="#08ecf0" stroke="#148c92" stroke-width="0.8"/>
<path d="M288.8 781.7L290.4 777.9L294.6 777.9L296.2 781.7L294.6 785.5L290.4 785.5Z" fill="#08ecf0" stroke="#148c92" stroke-width="0.8"/>
<path d="M298.4 781.7L300.0 777.9L304.2 777.9L305.8 781.7L304.2 785.5L300.0 785.5Z" fill="#08ecf0" stroke="#148c92" stroke-width="0.8"/>
<path d="M346.3 781.7L347.9 777.9L352.1 777.9L353.7 781.7L352.1 785.5L347.9 785.5Z" fill="#08ecf0" stroke="#148c92" stroke-width="0.8"/>
<path d="M355.9 781.7L357.5 777.9L361.7 777.9L363.3 781.7L361.7 785.5L357.5 785.5Z" fill="#08ecf0" stroke="#148c92" stroke-width="0.8"/>
<path d="M375.1 781.7L376.7 777.9L380.9 777.9L382.5 781.7L380.9 785.5L376.7 785.5Z" fill="#08ecf0" stroke="#148c92" stroke-width="0.8"/>
<path d="M403.8 781.7L405.4 777.9L409.6 777.9L411.2 781.7L409.6 785.5L405.4 785.5Z" fill="#08ecf0" stroke="#148c92" stroke-width="0.8"/>
<path d="M432.6 781.7L434.2 777.9L438.4 777.9L440.0 781.7L438.4 785.5L434.2 785.5Z" fill="#08ecf0" stroke="#148c92" stroke-width="0.8"/>
<path d="M442.2 781.7L443.8 777.9L448.0 777.9L449.6 781.7L448.0 785.5L443.8 785.5Z" fill="#08ecf0" stroke="#148c92" stroke-width="0.8"/>
<path d="M461.4 781.7L463.0 777.9L467.2 777.9L468.8 781.7L467.2 785.5L463.0 785.5Z" fill="#08ecf0" stroke="#148c92" stroke-width="0.8"/>
<path d="M470.9 781.7L472.5 777.9L476.7 777.9L478.3 781.7L476.7 785.5L472.5 785.5Z" fill="#08ecf0" stroke="#148c92" stroke-width="0.8"/>
<path d="M154.6 791.3L156.2 787.5L160.4 787.5L162.0 791.3L160.4 795.1L156.2 795.1Z" fill="#08ecf0" stroke="#148c92" stroke-width="0.8"/>
<path d="M240.9 791.3L242.5 787.5L246.7 787.5L248.3 791.3L246.7 795.1L242.5 795.1Z" fill="#08ecf0" stroke="#148c92" stroke-width="0.8"/>
<path d="M336.8 791.3L338.3 787.5L342.6 787.5L344.1 791.3L342.6 795.1L338.3 795.1Z" fill="#08ecf0" stroke="#148c92" stroke-width="0.8"/>
<path d="M346.3 791.3L347.9 787.5L352.1 787.5L353.7 791.3L352.1 795.1L347.9 795.1Z" fill="#08ecf0" stroke="#148c92" stroke-width="0.8"/>
<path d="M423.0 791.3L424.6 787.5L428.8 787.5L430.4 791.3L428.8 795.1L424.6 795.1Z" fill="#08ecf0" stroke="#148c92" stroke-width="0.8"/>
<path d="M78.0 800.9L79.6 797.1L83.8 797.1L85.4 800.9L83.8 804.7L79.6 804.7Z" fill="#08ecf0" stroke="#148c92" stroke-width="0.8"/>
<path d="M125.9 800.9L127.5 797.1L131.7 797.1L133.3 800.9L131.7 804.7L127.5 804.7Z" fill="#08ecf0" stroke="#148c92" stroke-width="0.8"/>
<path d="M193.0 800.9L194.6 797.1L198.8 797.1L200.4 800.9L198.8 804.7L194.6 804.7Z" fill="#08ecf0" stroke="#148c92" stroke-width="0.8"/>
<path d="M212.1 800.9L213.7 797.1L217.9 797.1L219.5 800.9L217.9 804.7L213.7 804.7Z" fill="#08ecf0" stroke="#148c92" stroke-width="0.8"/>
<path d="M221.7 800.9L223.3 797.1L227.5 797.1L229.1 800.9L227.5 804.7L223.3 804.7Z" fill="#08ecf0" stroke="#148c92" stroke-width="0.8"/>
<path d="M288.8 800.9L290.4 797.1L294.6 797.1L296.2 800.9L294.6 804.7L290.4 804.7Z" fill="#08ecf0" stroke="#148c92" stroke-width="0.8"/>
<path d="M298.4 800.9L300.0 797.1L304.2 797.1L305.8 800.9L304.2 804.7L300.0 804.7Z" fill="#08ecf0" stroke="#148c92" stroke-width="0.8"/>
<path d="M336.8 800.9L338.3 797.1L342.6 797.1L344.1 800.9L342.6 804.7L338.3 804.7Z" fill="#08ecf0" stroke="#148c92" stroke-width="0.8"/>
<path d="M470.9 800.9L472.5 797.1L476.7 797.1L478.3 800.9L476.7 804.7L472.5 804.7Z" fill="#08ecf0" stroke="#148c92" stroke-width="0.8"/>
<path d="M193.0 810.5L194.6 806.7L198.8 806.7L200.4 810.5L198.8 814.3L194.6 814.3Z" fill="#08ecf0" stroke="#148c92" stroke-width="0.8"/>
<path d="M288.8 810.5L290.4 806.7L294.6 806.7L296.2 810.5L294.6 814.3L290.4 814.3Z" fill="#08ecf0" stroke="#148c92" stroke-width="0.8"/>
<path d="M365.5 810.5L367.1 806.7L371.3 806.7L372.9 810.5L371.3 814.3L367.1 814.3Z" fill="#08ecf0" stroke="#148c92" stroke-width="0.8"/>
<path d="M442.2 810.5L443.8 806.7L448.0 806.7L449.6 810.5L448.0 814.3L443.8 814.3Z" fill="#08ecf0" stroke="#148c92" stroke-width="0.8"/>
<path d="M461.4 810.5L463.0 806.7L467.2 806.7L468.8 810.5L467.2 814.3L463.0 814.3Z" fill="#08ecf0" stroke="#148c92" stroke-width="0.8"/>
<path d="M490.1 810.5L491.7 806.7L495.9 806.7L497.5 810.5L495.9 814.3L491.7 814.3Z" fill="#08ecf0" stroke="#148c92" stroke-width="0.8"/>
<path d="M125.9 820.1L127.5 816.3L131.7 816.3L133.3 820.1L131.7 823.9L127.5 823.9Z" fill="#08ecf0" stroke="#148c92" stroke-width="0.8"/>
<path d="M145.1 820.1L146.7 816.3L150.8 816.3L152.4 820.1L150.8 823.9L146.7 823.9Z" fill="#08ecf0" stroke="#148c92" stroke-width="0.8"/>
<path d="M154.6 820.1L156.2 816.3L160.4 816.3L162.0 820.1L160.4 823.9L156.2 823.9Z" fill="#08ecf0" stroke="#148c92" stroke-width="0.8"/>
<path d="M173.8 820.1L175.4 816.3L179.6 816.3L181.2 820.1L179.6 823.9L175.4 823.9Z" fill="#08ecf0" stroke="#148c92" stroke-width="0.8"/>
<path d="M183.4 820.1L185.0 816.3L189.2 816.3L190.8 820.1L189.2 823.9L185.0 823.9Z" fill="#08ecf0" stroke="#148c92" stroke-width="0.8"/>
<path d="M193.0 820.1L194.6 816.3L198.8 816.3L200.4 820.1L198.8 823.9L194.6 823.9Z" fill="#08ecf0" stroke="#148c92" stroke-width="0.8"/>
<path d="M221.7 820.1L223.3 816.3L227.5 816.3L229.1 820.1L227.5 823.9L223.3 823.9Z" fill="#08ecf0" stroke="#148c92" stroke-width="0.8"/>
<path d="M250.5 820.1L252.1 816.3L256.3 816.3L257.9 820.1L256.3 823.9L252.1 823.9Z" fill="#08ecf0" stroke="#148c92" stroke-width="0.8"/>
<path d="M260.1 820.1L261.7 816.3L265.9 816.3L267.5 820.1L265.9 823.9L261.7 823.9Z" fill="#08ecf0" stroke="#148c92" stroke-width="0.8"/>
<path d="M279.2 820.1L280.8 816.3L285.0 816.3L286.6 820.1L285.0 823.9L280.8 823.9Z" fill="#08ecf0" stroke="#148c92" stroke-width="0.8"/>
<path d="M442.2 820.1L443.8 816.3L448.0 816.3L449.6 820.1L448.0 823.9L443.8 823.9Z" fill="#08ecf0" stroke="#148c92" stroke-width="0.8"/>
<path d="M470.9 820.1L472.5 816.3L476.7 816.3L478.3 820.1L476.7 823.9L472.5 823.9Z" fill="#08ecf0" stroke="#148c92" stroke-width="0.8"/>
<path d="M490.1 820.1L491.7 816.3L495.9 816.3L497.5 820.1L495.9 823.9L491.7 823.9Z" fill="#08ecf0" stroke="#148c92" stroke-width="0.8"/>
<path d="M97.1 829.7L98.7 825.9L102.9 825.9L104.5 829.7L102.9 833.5L98.7 833.5Z" fill="#08ecf0" stroke="#148c92" stroke-width="0.8"/>
<path d="M116.3 829.7L117.9 825.9L122.1 825.9L123.7 829.7L122.1 833.5L117.9 833.5Z" fill="#08ecf0" stroke="#148c92" stroke-width="0.8"/>
<path d="M164.2 829.7L165.8 825.9L170.0 825.9L171.6 829.7L170.0 833.5L165.8 833.5Z" fill="#08ecf0" stroke="#148c92" stroke-width="0.8"/>
<path d="M183.4 829.7L185.0 825.9L189.2 825.9L190.8 829.7L189.2 833.5L185.0 833.5Z" fill="#08ecf0" stroke="#148c92" stroke-width="0.8"/>
<path d="M193.0 829.7L194.6 825.9L198.8 825.9L200.4 829.7L198.8 833.5L194.6 833.5Z" fill="#08ecf0" stroke="#148c92" stroke-width="0.8"/>
<path d="M221.7 829.7L223.3 825.9L227.5 825.9L229.1 829.7L227.5 833.5L223.3 833.5Z" fill="#08ecf0" stroke="#148c92" stroke-width="0.8"/>
<path d="M231.3 829.7L232.9 825.9L237.1 825.9L238.7 829.7L237.1 833.5L232.9 833.5Z" fill="#08ecf0" stroke="#148c92" stroke-width="0.8"/>
<path d="M240.9 829.7L242.5 825.9L246.7 825.9L248.3 829.7L246.7 833.5L242.5 833.5Z" fill="#08ecf0" stroke="#148c92" stroke-width="0.8"/>
<path d="M260.1 829.7L261.7 825.9L265.9 825.9L267.5 829.7L265.9 833.5L261.7 833.5Z" fill="#08ecf0" stroke="#148c92" stroke-width="0.8"/>
<path d="M403.8 829.7L405.4 825.9L409.6 825.9L411.2 829.7L409.6 833.5L405.4 833.5Z" fill="#08ecf0" stroke="#148c92" stroke-width="0.8"/>
<path d="M97.1 839.3L98.7 835.5L102.9 835.5L104.5 839.3L102.9 843.1L98.7 843.1Z" fill="#08ecf0" stroke="#148c92" stroke-width="0.8"/>
<path d="M106.7 839.3L108.3 835.5L112.5 835.5L114.1 839.3L112.5 843.1L108.3 843.1Z" fill="#08ecf0" stroke="#148c92" stroke-width="0.8"/>
<path d="M116.3 839.3L117.9 835.5L122.1 835.5L123.7 839.3L122.1 843.1L117.9 843.1Z" fill="#08ecf0" stroke="#148c92" stroke-width="0.8"/>
<path d="M193.0 839.3L194.6 835.5L198.8 835.5L200.4 839.3L198.8 843.1L194.6 843.1Z" fill="#08ecf0" stroke="#148c92" stroke-width="0.8"/>
<path d="M327.2 839.3L328.8 835.5L333.0 835.5L334.6 839.3L333.0 843.1L328.8 843.1Z" fill="#08ecf0" stroke="#148c92" stroke-width="0.8"/>
<path d="M499.7 839.3L501.3 835.5L505.5 835.5L507.1 839.3L505.5 843.1L501.3 843.1Z" fill="#08ecf0" stroke="#148c92" stroke-width="0.8"/>
<path d="M509.3 839.3L510.9 835.5L515.1 835.5L516.7 839.3L515.1 843.1L510.9 843.1Z" fill="#08ecf0" stroke="#148c92" stroke-width="0.8"/>
<path d="M518.9 839.3L520.5 835.5L524.7 835.5L526.3 839.3L524.7 843.1L520.5 843.1Z" fill="#08ecf0" stroke="#148c92" stroke-width="0.8"/>
<path d="M528.5 839.3L530.1 835.5L534.3 835.5L535.9 839.3L534.3 843.1L530.1 843.1Z" fill="#08ecf0" stroke="#148c92" stroke-width="0.8"/>
<path d="M106.7 848.9L108.3 845.1L112.5 845.1L114.1 848.9L112.5 852.7L108.3 852.7Z" fill="#08ecf0" stroke="#148c92" stroke-width="0.8"/>
<path d="M125.9 848.9L127.5 845.1L131.7 845.1L133.3 848.9L131.7 852.7L127.5 852.7Z" fill="#08ecf0" stroke="#148c92" stroke-width="0.8"/>
<path d="M250.5 848.9L252.1 845.1L256.3 845.1L257.9 848.9L256.3 852.7L252.1 852.7Z" fill="#08ecf0" stroke="#148c92" stroke-width="0.8"/>
<path d="M288.8 848.9L290.4 845.1L294.6 845.1L296.2 848.9L294.6 852.7L290.4 852.7Z" fill="#08ecf0" stroke="#148c92" stroke-width="0.8"/>
<path d="M518.9 848.9L520.5 845.1L524.7 845.1L526.3 848.9L524.7 852.7L520.5 852.7Z" fill="#08ecf0" stroke="#148c92" stroke-width="0.8"/>
<path d="M528.5 848.9L530.1 845.1L534.3 845.1L535.9 848.9L534.3 852.7L530.1 852.7Z" fill="#08ecf0" stroke="#148c92" stroke-width="0.8"/>
<path d="M87.5 858.5L89.1 854.7L93.3 854.7L94.9 858.5L93.3 862.3L89.1 862.3Z" fill="#08ecf0" stroke="#148c92" stroke-width="0.8"/>
<path d="M154.6 858.5L156.2 854.7L160.4 854.7L162.0 858.5L160.4 862.3L156.2 862.3Z" fill="#08ecf0" stroke="#148c92" stroke-width="0.8"/>
<path d="M432.6 858.5L434.2 854.7L438.4 854.7L440.0 858.5L438.4 862.3L434.2 862.3Z" fill="#08ecf0" stroke="#148c92" stroke-width="0.8"/>
<path d="M480.5 858.5L482.1 854.7L486.3 854.7L487.9 858.5L486.3 862.3L482.1 862.3Z" fill="#08ecf0" stroke="#148c92" stroke-width="0.8"/>
<path d="M490.1 858.5L491.7 854.7L495.9 854.7L497.5 858.5L495.9 862.3L491.7 862.3Z" fill="#08ecf0" stroke="#148c92" stroke-width="0.8"/>
<path d="M269.7 868.0L271.3 864.2L275.5 864.2L277.1 868.0L275.5 871.8L271.3 871.8Z" fill="#08ecf0" stroke="#148c92" stroke-width="0.8"/>
<path d="M308.0 868.0L309.6 864.2L313.8 864.2L315.4 868.0L313.8 871.8L309.6 871.8Z" fill="#08ecf0" stroke="#148c92" stroke-width="0.8"/>
<path d="M125.9 877.6L127.5 873.8L131.7 873.8L133.3 877.6L131.7 881.4L127.5 881.4Z" fill="#08ecf0" stroke="#148c92" stroke-width="0.8"/>
<path d="M260.1 877.6L261.7 873.8L265.9 873.8L267.5 877.6L265.9 881.4L261.7 881.4Z" fill="#08ecf0" stroke="#148c92" stroke-width="0.8"/>
<path d="M269.7 877.6L271.3 873.8L275.5 873.8L277.1 877.6L275.5 881.4L271.3 881.4Z" fill="#08ecf0" stroke="#148c92" stroke-width="0.8"/>
<path d="M365.5 877.6L367.1 873.8L371.3 873.8L372.9 877.6L371.3 881.4L367.1 881.4Z" fill="#08ecf0" stroke="#148c92" stroke-width="0.8"/>
<path d="M375.1 877.6L376.7 873.8L380.9 873.8L382.5 877.6L380.9 881.4L376.7 881.4Z" fill="#08ecf0" stroke="#148c92" stroke-width="0.8"/>
<path d="M78.0 887.2L79.6 883.4L83.8 883.4L85.4 887.2L83.8 891.0L79.6 891.0Z" fill="#08ecf0" stroke="#148c92" stroke-width="0.8"/>
<path d="M116.3 887.2L117.9 883.4L122.1 883.4L123.7 887.2L122.1 891.0L117.9 891.0Z" fill="#08ecf0" stroke="#148c92" stroke-width="0.8"/>
<path d="M375.1 887.2L376.7 883.4L380.9 883.4L382.5 887.2L380.9 891.0L376.7 891.0Z" fill="#08ecf0" stroke="#148c92" stroke-width="0.8"/>
<path d="M461.4 887.2L463.0 883.4L467.2 883.4L468.8 887.2L467.2 891.0L463.0 891.0Z" fill="#08ecf0" stroke="#148c92" stroke-width="0.8"/>
<path d="M461.4 896.8L463.0 893.0L467.2 893.0L468.8 896.8L467.2 900.6L463.0 900.6Z" fill="#08ecf0" stroke="#148c92" stroke-width="0.8"/>
<path d="M518.9 896.8L520.5 893.0L524.7 893.0L526.3 896.8L524.7 900.6L520.5 900.6Z" fill="#08ecf0" stroke="#148c92" stroke-width="0.8"/>
<path d="M528.5 896.8L530.1 893.0L534.3 893.0L535.9 896.8L534.3 900.6L530.1 900.6Z" fill="#08ecf0" stroke="#148c92" stroke-width="0.8"/>
<path d="M173.8 906.4L175.4 902.6L179.6 902.6L181.2 906.4L179.6 910.2L175.4 910.2Z" fill="#08ecf0" stroke="#148c92" stroke-width="0.8"/>
<path d="M193.0 906.4L194.6 902.6L198.8 902.6L200.4 906.4L198.8 910.2L194.6 910.2Z" fill="#08ecf0" stroke="#148c92" stroke-width="0.8"/>
<path d="M231.3 906.4L232.9 902.6L237.1 902.6L238.7 906.4L237.1 910.2L232.9 910.2Z" fill="#08ecf0" stroke="#148c92" stroke-width="0.8"/>
<path d="M365.5 906.4L367.1 902.6L371.3 902.6L372.9 906.4L371.3 910.2L367.1 910.2Z" fill="#08ecf0" stroke="#148c92" stroke-width="0.8"/>
<path d="M375.1 906.4L376.7 902.6L380.9 902.6L382.5 906.4L380.9 910.2L376.7 910.2Z" fill="#08ecf0" stroke="#148c92" stroke-width="0.8"/>
<path d="M499.7 906.4L501.3 902.6L505.5 902.6L507.1 906.4L505.5 910.2L501.3 910.2Z" fill="#08ecf0" stroke="#148c92" stroke-width="0.8"/>
<path d="M97.1 916.0L98.7 912.2L102.9 912.2L104.5 916.0L102.9 919.8L98.7 919.8Z" fill="#08ecf0" stroke="#148c92" stroke-width="0.8"/>
<path d="M106.7 916.0L108.3 912.2L112.5 912.2L114.1 916.0L112.5 919.8L108.3 919.8Z" fill="#08ecf0" stroke="#148c92" stroke-width="0.8"/>
<path d="M173.8 916.0L175.4 912.2L179.6 912.2L181.2 916.0L179.6 919.8L175.4 919.8Z" fill="#08ecf0" stroke="#148c92" stroke-width="0.8"/>
<path d="M183.4 916.0L185.0 912.2L189.2 912.2L190.8 916.0L189.2 919.8L185.0 919.8Z" fill="#08ecf0" stroke="#148c92" stroke-width="0.8"/>
<path d="M346.3 916.0L347.9 912.2L352.1 912.2L353.7 916.0L352.1 919.8L347.9 919.8Z" fill="#08ecf0" stroke="#148c92" stroke-width="0.8"/>
<path d="M451.8 916.0L453.4 912.2L457.6 912.2L459.2 916.0L457.6 919.8L453.4 919.8Z" fill="#08ecf0" stroke="#148c92" stroke-width="0.8"/>
<path d="M499.7 916.0L501.3 912.2L505.5 912.2L507.1 916.0L505.5 919.8L501.3 919.8Z" fill="#08ecf0" stroke="#148c92" stroke-width="0.8"/>
<g font-family="Liberation Sans, sans-serif" font-size="9.25" font-weight="bold" fill="#111" stroke="#111" stroke-width="0.3">
<rect x="178.6" y="31.3" width="39.5" height="12.4" fill="#fff" stroke="none"/>
<text transform="translate(179.6 41.0) scale(1 1.08)">YIR019C</text>
<rect x="250.5" y="50.7" width="46.2" height="12.4" fill="#fff" stroke="none"/>
<text transform="translate(251.5 60.4) scale(1 1.08)">YOR190W</text>
<rect x="411.0" y="40.7" width="45.7" height="12.4" fill="#fff" stroke="none"/>
<text transform="translate(412.0 50.4) scale(1 1.08)">YHR143W</text>
<rect x="467.7" y="50.6" width="45.7" height="12.4" fill="#fff" stroke="none"/>
<text transform="translate(468.7 60.3) scale(1 1.08)">YKR102W</text>
<rect x="167.6" y="78.3" width="42.6" height="12.4" fill="#fff" stroke="none"/>
<text transform="translate(168.6 88.0) scale(1 1.08)">YNL260C</text>
<rect x="297.9" y="98.1" width="45.2" height="12.4" fill="#fff" stroke="none"/>
<text transform="translate(298.9 107.8) scale(1 1.08)">YOL156W</text>
<rect x="62.9" y="107.0" width="44.2" height="12.4" fill="#fff" stroke="none"/>
<text transform="translate(63.9 116.7) scale(1 1.08)">YOR348C</text>
<rect x="204.3" y="107.2" width="44.2" height="12.4" fill="#fff" stroke="none"/>
<text transform="translate(205.3 116.9) scale(1 1.08)">YPL203W</text>
<rect x="487.0" y="107.3" width="46.2" height="12.4" fill="#fff" stroke="none"/>
<text transform="translate(488.0 117.0) scale(1 1.08)">YGR224W</text>
<rect x="383.9" y="126.4" width="43.1" height="12.4" fill="#fff" stroke="none"/>
<text transform="translate(384.9 136.1) scale(1 1.08)">YPR027C</text>
<rect x="468.3" y="135.4" width="45.2" height="12.4" fill="#fff" stroke="none"/>
<text transform="translate(469.3 145.1) scale(1 1.08)">YPR054W</text>
<rect x="327.0" y="145.3" width="46.2" height="12.4" fill="#fff" stroke="none"/>
<text transform="translate(328.0 155.0) scale(1 1.08)">YGR134W</text>
<rect x="61.4" y="154.5" width="46.2" height="12.4" fill="#fff" stroke="none"/>
<text transform="translate(62.4 164.2) scale(1 1.08)">YGR089W</text>
<rect x="223.4" y="155.0" width="45.7" height="12.4" fill="#fff" stroke="none"/>
<text transform="translate(224.4 164.7) scale(1 1.08)">YDR252W</text>
<rect x="167.0" y="163.7" width="44.2" height="12.4" fill="#fff" stroke="none"/>
<text transform="translate(168.0 173.4) scale(1 1.08)">YOR180C</text>
<rect x="412.5" y="163.7" width="43.6" height="12.4" fill="#fff" stroke="none"/>
<text transform="translate(413.5 173.4) scale(1 1.08)">YDR512C</text>
<rect x="477.0" y="163.7" width="45.2" height="12.4" fill="#fff" stroke="none"/>
<text transform="translate(478.0 173.4) scale(1 1.08)">YPR111W</text>
<rect x="91.7" y="183.0" width="42.6" height="12.4" fill="#fff" stroke="none"/>
<text transform="translate(92.7 192.7) scale(1 1.08)">YKL005C</text>
<rect x="318.2" y="183.0" width="42.6" height="12.4" fill="#fff" stroke="none"/>
<text transform="translate(319.2 192.7) scale(1 1.08)">YLR228C</text>
<rect x="139.6" y="202.4" width="42.6" height="12.4" fill="#fff" stroke="none"/>
<text transform="translate(140.6 212.1) scale(1 1.08)">YNL330C</text>
<rect x="188.0" y="202.4" width="41.1" height="12.4" fill="#fff" stroke="none"/>
<text transform="translate(189.0 212.1) scale(1 1.08)">YJL065C</text>
<rect x="271.6" y="201.6" width="43.6" height="12.4" fill="#fff" stroke="none"/>
<text transform="translate(272.6 211.3) scale(1 1.08)">YDR408C</text>
<rect x="505.5" y="202.2" width="44.7" height="12.4" fill="#fff" stroke="none"/>
<text transform="translate(506.5 211.9) scale(1 1.08)">YNL250W</text>
<rect x="82.5" y="211.0" width="43.6" height="12.4" fill="#fff" stroke="none"/>
<text transform="translate(83.5 220.7) scale(1 1.08)">YBR270C</text>
<rect x="327.0" y="220.5" width="45.7" height="12.4" fill="#fff" stroke="none"/>
<text transform="translate(328.0 230.2) scale(1 1.08)">YBR209W</text>
<rect x="214.0" y="229.7" width="43.6" height="12.4" fill="#fff" stroke="none"/>
<text transform="translate(215.0 239.4) scale(1 1.08)">YBR197C</text>
<rect x="268.6" y="229.7" width="45.2" height="12.4" fill="#fff" stroke="none"/>
<text transform="translate(269.6 239.4) scale(1 1.08)">YPR178W</text>
<rect x="54.0" y="239.6" width="43.6" height="12.4" fill="#fff" stroke="none"/>
<text transform="translate(55.0 249.3) scale(1 1.08)">YDR473C</text>
<rect x="119.3" y="248.3" width="46.2" height="12.4" fill="#fff" stroke="none"/>
<text transform="translate(120.3 258.0) scale(1 1.08)">YGR269W</text>
<rect x="328.7" y="248.3" width="42.6" height="12.4" fill="#fff" stroke="none"/>
<text transform="translate(329.7 258.0) scale(1 1.08)">YNL251C</text>
<rect x="395.8" y="248.3" width="39.5" height="12.4" fill="#fff" stroke="none"/>
<text transform="translate(396.8 258.0) scale(1 1.08)">YIR013C</text>
<rect x="467.8" y="248.3" width="46.7" height="12.4" fill="#fff" stroke="none"/>
<text transform="translate(468.8 258.0) scale(1 1.08)">YMR075W</text>
<rect x="175.6" y="257.7" width="44.7" height="12.4" fill="#fff" stroke="none"/>
<text transform="translate(176.6 267.4) scale(1 1.08)">YKL086W</text>
<rect x="43.8" y="276.8" width="45.7" height="12.4" fill="#fff" stroke="none"/>
<text transform="translate(44.8 286.5) scale(1 1.08)">YDR327W</text>
<rect x="110.6" y="276.8" width="44.2" height="12.4" fill="#fff" stroke="none"/>
<text transform="translate(111.6 286.5) scale(1 1.08)">YOR226C</text>
<rect x="232.6" y="276.8" width="44.7" height="12.4" fill="#fff" stroke="none"/>
<text transform="translate(233.6 286.5) scale(1 1.08)">YCL004W</text>
<rect x="299.6" y="276.8" width="43.1" height="12.4" fill="#fff" stroke="none"/>
<text transform="translate(300.6 286.5) scale(1 1.08)">YOL134C</text>
<rect x="375.2" y="276.8" width="43.1" height="12.4" fill="#fff" stroke="none"/>
<text transform="translate(376.2 286.5) scale(1 1.08)">YGL152C</text>
<rect x="498.1" y="276.8" width="41.1" height="12.4" fill="#fff" stroke="none"/>
<text transform="translate(499.1 286.5) scale(1 1.08)">YJL202C</text>
<rect x="157.7" y="295.9" width="43.6" height="12.4" fill="#fff" stroke="none"/>
<text transform="translate(158.7 305.6) scale(1 1.08)">YFL055W</text>
<rect x="439.8" y="295.9" width="44.7" height="12.4" fill="#fff" stroke="none"/>
<text transform="translate(440.8 305.6) scale(1 1.08)">YNL105W</text>
<rect x="71.4" y="304.9" width="46.2" height="12.4" fill="#fff" stroke="none"/>
<text transform="translate(72.4 314.6) scale(1 1.08)">YOR183W</text>
<rect x="383.9" y="304.9" width="44.7" height="12.4" fill="#fff" stroke="none"/>
<text transform="translate(384.9 314.6) scale(1 1.08)">YLR238W</text>
<rect x="508.0" y="304.9" width="42.6" height="12.4" fill="#fff" stroke="none"/>
<text transform="translate(509.0 314.6) scale(1 1.08)">YDL239C</text>
<rect x="214.0" y="314.8" width="44.2" height="12.4" fill="#fff" stroke="none"/>
<text transform="translate(215.0 324.5) scale(1 1.08)">YOR177C</text>
<rect x="327.0" y="314.8" width="44.7" height="12.4" fill="#fff" stroke="none"/>
<text transform="translate(328.0 324.5) scale(1 1.08)">YNL109W</text>
<rect x="269.1" y="324.0" width="46.2" height="12.4" fill="#fff" stroke="none"/>
<text transform="translate(270.1 333.7) scale(1 1.08)">YOR170W</text>
<rect x="63.4" y="332.9" width="43.6" height="12.4" fill="#fff" stroke="none"/>
<text transform="translate(64.4 342.6) scale(1 1.08)">YHR126C</text>
<rect x="392.6" y="333.4" width="44.7" height="12.4" fill="#fff" stroke="none"/>
<text transform="translate(393.6 343.1) scale(1 1.08)">YBL065W</text>
<rect x="488.7" y="333.4" width="43.1" height="12.4" fill="#fff" stroke="none"/>
<text transform="translate(489.7 343.1) scale(1 1.08)">YOL138C</text>
<rect x="196.0" y="343.1" width="42.6" height="12.4" fill="#fff" stroke="none"/>
<text transform="translate(197.0 352.8) scale(1 1.08)">YLR331C</text>
<rect x="337.6" y="343.3" width="42.6" height="12.4" fill="#fff" stroke="none"/>
<text transform="translate(338.6 353.0) scale(1 1.08)">YBL071C</text>
<rect x="119.8" y="362.0" width="44.2" height="12.4" fill="#fff" stroke="none"/>
<text transform="translate(120.8 371.7) scale(1 1.08)">YJR114W</text>
<rect x="252.5" y="371.1" width="42.1" height="12.4" fill="#fff" stroke="none"/>
<text transform="translate(253.5 380.8) scale(1 1.08)">YJR090C</text>
<rect x="44.2" y="371.6" width="44.7" height="12.4" fill="#fff" stroke="none"/>
<text transform="translate(45.2 381.3) scale(1 1.08)">YDL161W</text>
<rect x="366.3" y="371.9" width="42.6" height="12.4" fill="#fff" stroke="none"/>
<text transform="translate(367.3 381.6) scale(1 1.08)">YKL169C</text>
<rect x="450.4" y="371.9" width="43.1" height="12.4" fill="#fff" stroke="none"/>
<text transform="translate(451.4 381.6) scale(1 1.08)">YPR197C</text>
<rect x="497.6" y="371.9" width="43.6" height="12.4" fill="#fff" stroke="none"/>
<text transform="translate(498.6 381.6) scale(1 1.08)">YBR232C</text>
<rect x="307.8" y="380.6" width="44.2" height="12.4" fill="#fff" stroke="none"/>
<text transform="translate(308.8 390.3) scale(1 1.08)">YJR138W</text>
<rect x="355.2" y="400.5" width="44.2" height="12.4" fill="#fff" stroke="none"/>
<text transform="translate(356.2 410.2) scale(1 1.08)">YOR121C</text>
<rect x="72.6" y="409.3" width="43.6" height="12.4" fill="#fff" stroke="none"/>
<text transform="translate(73.6 419.0) scale(1 1.08)">YML072C</text>
<rect x="459.4" y="418.4" width="43.6" height="12.4" fill="#fff" stroke="none"/>
<text transform="translate(460.4 428.1) scale(1 1.08)">YDR543C</text>
<rect x="393.1" y="428.3" width="44.2" height="12.4" fill="#fff" stroke="none"/>
<text transform="translate(394.1 438.0) scale(1 1.08)">YOR214C</text>
<rect x="327.5" y="546.7" width="41.6" height="12.4" fill="#fff" stroke="none"/>
<text transform="translate(328.5 556.4) scale(1 1.08)">YFL051C</text>
<rect x="104.7" y="565.8" width="45.7" height="12.4" fill="#fff" stroke="none"/>
<text transform="translate(105.7 575.5) scale(1 1.08)">YAR050W</text>
<rect x="433.0" y="559.3" width="42.1" height="12.4" fill="#fff" stroke="none"/>
<text transform="translate(434.0 569.0) scale(1 1.08)">YJR151C</text>
<rect x="480.3" y="558.1" width="44.7" height="12.4" fill="#fff" stroke="none"/>
<text transform="translate(481.3 567.8) scale(1 1.08)">YKL157W</text>
<rect x="58.8" y="585.2" width="43.6" height="12.4" fill="#fff" stroke="none"/>
<text transform="translate(59.8 594.9) scale(1 1.08)">YBR140C</text>
<rect x="326.8" y="585.7" width="45.2" height="12.4" fill="#fff" stroke="none"/>
<text transform="translate(327.8 595.4) scale(1 1.08)">YOL103W</text>
<rect x="393.2" y="585.2" width="45.7" height="12.4" fill="#fff" stroke="none"/>
<text transform="translate(394.2 594.9) scale(1 1.08)">YNR072W</text>
<rect x="143.7" y="594.4" width="45.2" height="12.4" fill="#fff" stroke="none"/>
<text transform="translate(144.7 604.1) scale(1 1.08)">YPR032W</text>
<rect x="239.4" y="594.4" width="46.2" height="12.4" fill="#fff" stroke="none"/>
<text transform="translate(240.4 604.1) scale(1 1.08)">YGR224W</text>
<rect x="509.5" y="594.4" width="42.6" height="12.4" fill="#fff" stroke="none"/>
<text transform="translate(510.5 604.1) scale(1 1.08)">YHL019C</text>
<rect x="48.9" y="614.2" width="43.6" height="12.4" fill="#fff" stroke="none"/>
<text transform="translate(49.9 623.9) scale(1 1.08)">YLL043W</text>
<rect x="212.1" y="614.2" width="44.2" height="12.4" fill="#fff" stroke="none"/>
<text transform="translate(213.1 623.9) scale(1 1.08)">YEL056W</text>
<rect x="428.4" y="613.0" width="45.7" height="12.4" fill="#fff" stroke="none"/>
<text transform="translate(429.4 622.7) scale(1 1.08)">YBR020W</text>
<rect x="480.5" y="614.2" width="42.6" height="12.4" fill="#fff" stroke="none"/>
<text transform="translate(481.5 623.9) scale(1 1.08)">YDL045C</text>
<rect x="153.1" y="622.9" width="44.7" height="12.4" fill="#fff" stroke="none"/>
<text transform="translate(154.1 632.6) scale(1 1.08)">YLR412W</text>
<rect x="267.9" y="622.9" width="42.6" height="12.4" fill="#fff" stroke="none"/>
<text transform="translate(268.9 632.6) scale(1 1.08)">YLR028C</text>
<rect x="37.7" y="632.7" width="46.7" height="12.4" fill="#fff" stroke="none"/>
<text transform="translate(38.7 642.4) scale(1 1.08)">YMR007W</text>
<rect x="375.1" y="632.9" width="42.1" height="12.4" fill="#fff" stroke="none"/>
<text transform="translate(376.1 642.6) scale(1 1.08)">YJR083C</text>
<rect x="490.5" y="633.1" width="42.1" height="12.4" fill="#fff" stroke="none"/>
<text transform="translate(491.5 642.8) scale(1 1.08)">YJR156C</text>
<rect x="104.7" y="642.3" width="45.2" height="12.4" fill="#fff" stroke="none"/>
<text transform="translate(105.7 652.0) scale(1 1.08)">YPR111W</text>
<rect x="249.8" y="641.6" width="45.2" height="12.4" fill="#fff" stroke="none"/>
<text transform="translate(250.8 651.3) scale(1 1.08)">YGL256W</text>
<rect x="307.6" y="641.6" width="44.7" height="12.4" fill="#fff" stroke="none"/>
<text transform="translate(308.6 651.3) scale(1 1.08)">YMR095C</text>
<rect x="462.7" y="651.5" width="42.1" height="12.4" fill="#fff" stroke="none"/>
<text transform="translate(463.7 661.2) scale(1 1.08)">YEL014C</text>
<rect x="67.5" y="661.4" width="45.7" height="12.4" fill="#fff" stroke="none"/>
<text transform="translate(68.5 671.1) scale(1 1.08)">YAR064W</text>
<rect x="202.7" y="661.4" width="43.6" height="12.4" fill="#fff" stroke="none"/>
<text transform="translate(203.7 671.1) scale(1 1.08)">YAR023C</text>
<rect x="278.8" y="661.4" width="43.1" height="12.4" fill="#fff" stroke="none"/>
<text transform="translate(279.8 671.1) scale(1 1.08)">YOL046C</text>
<rect x="354.5" y="661.4" width="44.7" height="12.4" fill="#fff" stroke="none"/>
<text transform="translate(355.5 671.1) scale(1 1.08)">YLR402W</text>
<rect x="413.0" y="661.4" width="43.6" height="12.4" fill="#fff" stroke="none"/>
<text transform="translate(414.0 671.1) scale(1 1.08)">YBR169C</text>
<rect x="241.1" y="681.3" width="42.6" height="12.4" fill="#fff" stroke="none"/>
<text transform="translate(242.1 691.0) scale(1 1.08)">YLR018C</text>
<rect x="298.2" y="681.3" width="43.6" height="12.4" fill="#fff" stroke="none"/>
<text transform="translate(299.2 691.0) scale(1 1.08)">YBR123C</text>
<rect x="77.4" y="690.2" width="43.6" height="12.4" fill="#fff" stroke="none"/>
<text transform="translate(78.4 699.9) scale(1 1.08)">YDR181C</text>
<rect x="135.2" y="690.2" width="43.6" height="12.4" fill="#fff" stroke="none"/>
<text transform="translate(136.2 699.9) scale(1 1.08)">YKR079C</text>
<rect x="363.4" y="690.2" width="46.2" height="12.4" fill="#fff" stroke="none"/>
<text transform="translate(364.4 699.9) scale(1 1.08)">YGR093W</text>
<rect x="480.5" y="690.2" width="42.1" height="12.4" fill="#fff" stroke="none"/>
<text transform="translate(481.5 699.9) scale(1 1.08)">YPL123C</text>
<rect x="182.5" y="709.3" width="45.7" height="12.4" fill="#fff" stroke="none"/>
<text transform="translate(183.5 719.0) scale(1 1.08)">YNR023W</text>
<rect x="336.3" y="709.3" width="43.1" height="12.4" fill="#fff" stroke="none"/>
<text transform="translate(337.3 719.0) scale(1 1.08)">YER105C</text>
<rect x="414.0" y="709.3" width="42.6" height="12.4" fill="#fff" stroke="none"/>
<text transform="translate(415.0 719.0) scale(1 1.08)">YDL002C</text>
<rect x="39.4" y="718.5" width="42.1" height="12.4" fill="#fff" stroke="none"/>
<text transform="translate(40.4 728.2) scale(1 1.08)">YJR140C</text>
<rect x="249.8" y="718.5" width="44.7" height="12.4" fill="#fff" stroke="none"/>
<text transform="translate(250.8 728.2) scale(1 1.08)">YLR430W</text>
<rect x="489.2" y="718.5" width="45.7" height="12.4" fill="#fff" stroke="none"/>
<text transform="translate(490.2 728.2) scale(1 1.08)">YDR409W</text>
<rect x="163.0" y="728.2" width="44.7" height="12.4" fill="#fff" stroke="none"/>
<text transform="translate(164.0 737.9) scale(1 1.08)">YNL210W</text>
<rect x="385.0" y="727.9" width="42.6" height="12.4" fill="#fff" stroke="none"/>
<text transform="translate(386.0 737.6) scale(1 1.08)">YLR293C</text>
<rect x="95.5" y="738.0" width="44.7" height="12.4" fill="#fff" stroke="none"/>
<text transform="translate(96.5 747.7) scale(1 1.08)">YDL132W</text>
<rect x="250.6" y="738.0" width="43.6" height="12.4" fill="#fff" stroke="none"/>
<text transform="translate(251.6 747.7) scale(1 1.08)">YBR112C</text>
<rect x="38.4" y="747.3" width="45.2" height="12.4" fill="#fff" stroke="none"/>
<text transform="translate(39.4 757.0) scale(1 1.08)">YPR103W</text>
<rect x="191.5" y="747.3" width="46.7" height="12.4" fill="#fff" stroke="none"/>
<text transform="translate(192.5 757.0) scale(1 1.08)">YMR153W</text>
<rect x="365.1" y="747.3" width="42.6" height="12.4" fill="#fff" stroke="none"/>
<text transform="translate(366.1 757.0) scale(1 1.08)">YCL011C</text>
<rect x="432.9" y="747.3" width="41.1" height="12.4" fill="#fff" stroke="none"/>
<text transform="translate(433.9 757.0) scale(1 1.08)">YJL164C</text>
<rect x="501.0" y="747.7" width="39.5" height="12.4" fill="#fff" stroke="none"/>
<text transform="translate(502.0 757.4) scale(1 1.08)">YIR013C</text>
<rect x="59.3" y="766.4" width="42.6" height="12.4" fill="#fff" stroke="none"/>
<text transform="translate(60.3 776.1) scale(1 1.08)">YLR358C</text>
<rect x="143.7" y="766.4" width="45.7" height="12.4" fill="#fff" stroke="none"/>
<text transform="translate(144.7 776.1) scale(1 1.08)">YML050W</text>
<rect x="230.0" y="766.4" width="44.7" height="12.4" fill="#fff" stroke="none"/>
<text transform="translate(231.0 776.1) scale(1 1.08)">YLR445W</text>
<rect x="289.5" y="766.4" width="42.6" height="12.4" fill="#fff" stroke="none"/>
<text transform="translate(290.5 776.1) scale(1 1.08)">YLR205C</text>
<rect x="374.3" y="766.4" width="44.7" height="12.4" fill="#fff" stroke="none"/>
<text transform="translate(375.3 776.1) scale(1 1.08)">YNL028W</text>
<rect x="433.4" y="766.4" width="42.6" height="12.4" fill="#fff" stroke="none"/>
<text transform="translate(434.4 776.1) scale(1 1.08)">YKL111C</text>
<rect x="489.2" y="766.7" width="44.7" height="12.4" fill="#fff" stroke="none"/>
<text transform="translate(490.2 776.4) scale(1 1.08)">YLR260W</text>
<rect x="38.9" y="785.8" width="44.7" height="12.4" fill="#fff" stroke="none"/>
<text transform="translate(39.9 795.5) scale(1 1.08)">YMR053C</text>
<rect x="116.4" y="785.8" width="43.6" height="12.4" fill="#fff" stroke="none"/>
<text transform="translate(117.4 795.5) scale(1 1.08)">YBR300C</text>
<rect x="184.0" y="785.8" width="46.7" height="12.4" fill="#fff" stroke="none"/>
<text transform="translate(185.0 795.5) scale(1 1.08)">YMR245W</text>
<rect x="278.4" y="785.8" width="45.7" height="12.4" fill="#fff" stroke="none"/>
<text transform="translate(279.4 795.5) scale(1 1.08)">YDR199W</text>
<rect x="385.0" y="785.8" width="42.6" height="12.4" fill="#fff" stroke="none"/>
<text transform="translate(386.0 795.5) scale(1 1.08)">YDL009C</text>
<rect x="433.4" y="785.8" width="42.6" height="12.4" fill="#fff" stroke="none"/>
<text transform="translate(434.4 795.5) scale(1 1.08)">YDL016C</text>
<rect x="49.4" y="804.4" width="43.1" height="12.4" fill="#fff" stroke="none"/>
<text transform="translate(50.4 814.1) scale(1 1.08)">YGL034C</text>
<rect x="129.5" y="804.4" width="55.4" height="12.4" fill="#fff" stroke="none"/>
<text transform="translate(130.5 814.1) scale(1 1.08)">YNR001W-A</text>
<rect x="200.9" y="804.4" width="46.2" height="12.4" fill="#fff" stroke="none"/>
<text transform="translate(201.9 814.1) scale(1 1.08)">YGR219W</text>
<rect x="297.0" y="804.4" width="44.2" height="12.4" fill="#fff" stroke="none"/>
<text transform="translate(298.0 814.1) scale(1 1.08)">YPL027W</text>
<rect x="403.1" y="804.4" width="44.7" height="12.4" fill="#fff" stroke="none"/>
<text transform="translate(404.1 814.1) scale(1 1.08)">YLR184W</text>
<rect x="341.2" y="824.3" width="54.4" height="12.4" fill="#fff" stroke="none"/>
<text transform="translate(342.2 834.0) scale(1 1.08)">YMR193C-A</text>
<rect x="423.0" y="824.3" width="43.6" height="12.4" fill="#fff" stroke="none"/>
<text transform="translate(424.0 834.0) scale(1 1.08)">YDR522C</text>
<rect x="470.6" y="824.3" width="43.1" height="12.4" fill="#fff" stroke="none"/>
<text transform="translate(471.6 834.0) scale(1 1.08)">YJL032W</text>
<rect x="133.7" y="834.2" width="45.7" height="12.4" fill="#fff" stroke="none"/>
<text transform="translate(134.7 843.9) scale(1 1.08)">YDR290W</text>
<rect x="259.7" y="834.2" width="44.7" height="12.4" fill="#fff" stroke="none"/>
<text transform="translate(260.7 843.9) scale(1 1.08)">YDL062W</text>
<rect x="203.9" y="843.5" width="41.1" height="12.4" fill="#fff" stroke="none"/>
<text transform="translate(204.9 853.2) scale(1 1.08)">YJL202C</text>
<rect x="385.7" y="843.6" width="42.1" height="12.4" fill="#fff" stroke="none"/>
<text transform="translate(386.7 853.3) scale(1 1.08)">YEL023C</text>
<rect x="449.5" y="843.6" width="46.7" height="12.4" fill="#fff" stroke="none"/>
<text transform="translate(450.5 853.3) scale(1 1.08)">YMR107W</text>
<rect x="306.9" y="852.8" width="45.7" height="12.4" fill="#fff" stroke="none"/>
<text transform="translate(307.9 862.5) scale(1 1.08)">YBR124W</text>
<rect x="91.8" y="853.6" width="52.9" height="12.4" fill="#fff" stroke="none"/>
<text transform="translate(92.8 863.3) scale(1 1.08)">YJL156W-A</text>
<rect x="511.7" y="853.5" width="38.5" height="12.4" fill="#fff" stroke="none"/>
<text transform="translate(512.7 863.2) scale(1 1.08)">YIL102C</text>
<rect x="231.7" y="862.0" width="42.6" height="12.4" fill="#fff" stroke="none"/>
<text transform="translate(232.7 871.7) scale(1 1.08)">YAL065C</text>
<rect x="67.6" y="872.0" width="44.7" height="12.4" fill="#fff" stroke="none"/>
<text transform="translate(68.6 881.7) scale(1 1.08)">YMR207C</text>
<rect x="133.9" y="872.0" width="44.7" height="12.4" fill="#fff" stroke="none"/>
<text transform="translate(134.9 881.7) scale(1 1.08)">YBL109W</text>
<rect x="307.6" y="871.4" width="44.7" height="12.4" fill="#fff" stroke="none"/>
<text transform="translate(308.6 881.1) scale(1 1.08)">YLR320W</text>
<rect x="413.0" y="871.4" width="44.2" height="12.4" fill="#fff" stroke="none"/>
<text transform="translate(414.0 881.1) scale(1 1.08)">YGR053C</text>
<rect x="461.9" y="871.4" width="42.6" height="12.4" fill="#fff" stroke="none"/>
<text transform="translate(462.9 881.1) scale(1 1.08)">YDL023C</text>
<rect x="249.8" y="882.6" width="44.2" height="12.4" fill="#fff" stroke="none"/>
<text transform="translate(250.8 892.3) scale(1 1.08)">YPL076W</text>
<rect x="106.4" y="891.6" width="43.6" height="12.4" fill="#fff" stroke="none"/>
<text transform="translate(107.4 901.3) scale(1 1.08)">YBR277C</text>
<rect x="345.4" y="891.3" width="44.7" height="12.4" fill="#fff" stroke="none"/>
<text transform="translate(346.4 901.0) scale(1 1.08)">YLR379W</text>
<rect x="58.9" y="901.2" width="43.1" height="12.4" fill="#fff" stroke="none"/>
<text transform="translate(59.9 910.9) scale(1 1.08)">YGL142C</text>
<rect x="441.3" y="901.2" width="45.2" height="12.4" fill="#fff" stroke="none"/>
<text transform="translate(442.3 910.9) scale(1 1.08)">YPR038W</text>
<rect x="508.2" y="910.6" width="43.6" height="12.4" fill="#fff" stroke="none"/>
<text transform="translate(509.2 920.3) scale(1 1.08)">YBR288C</text>
<rect x="211.8" y="919.8" width="44.2" height="12.4" fill="#fff" stroke="none"/>
<text transform="translate(212.8 929.5) scale(1 1.08)">YOR333C</text>
<rect x="355.2" y="919.8" width="44.7" height="12.4" fill="#fff" stroke="none"/>
<text transform="translate(356.2 929.5) scale(1 1.08)">YKL123W</text>
<rect x="76.4" y="928.9" width="46.2" height="12.4" fill="#fff" stroke="none"/>
<text transform="translate(77.4 938.6) scale(1 1.08)">YOR332W</text>
<rect x="164.0" y="929.2" width="44.7" height="12.4" fill="#fff" stroke="none"/>
<text transform="translate(165.0 938.9) scale(1 1.08)">YMR156C</text>
<rect x="432.9" y="929.7" width="43.1" height="12.4" fill="#fff" stroke="none"/>
<text transform="translate(433.9 939.4) scale(1 1.08)">YGL118C</text>
</g>
<g font-family="Liberation Sans, sans-serif" font-size="16" fill="#111">
<text x="25.2" y="444.8">A</text>
<text x="23.8" y="929.9">B</text>
</g>
</svg>
</body></html>
